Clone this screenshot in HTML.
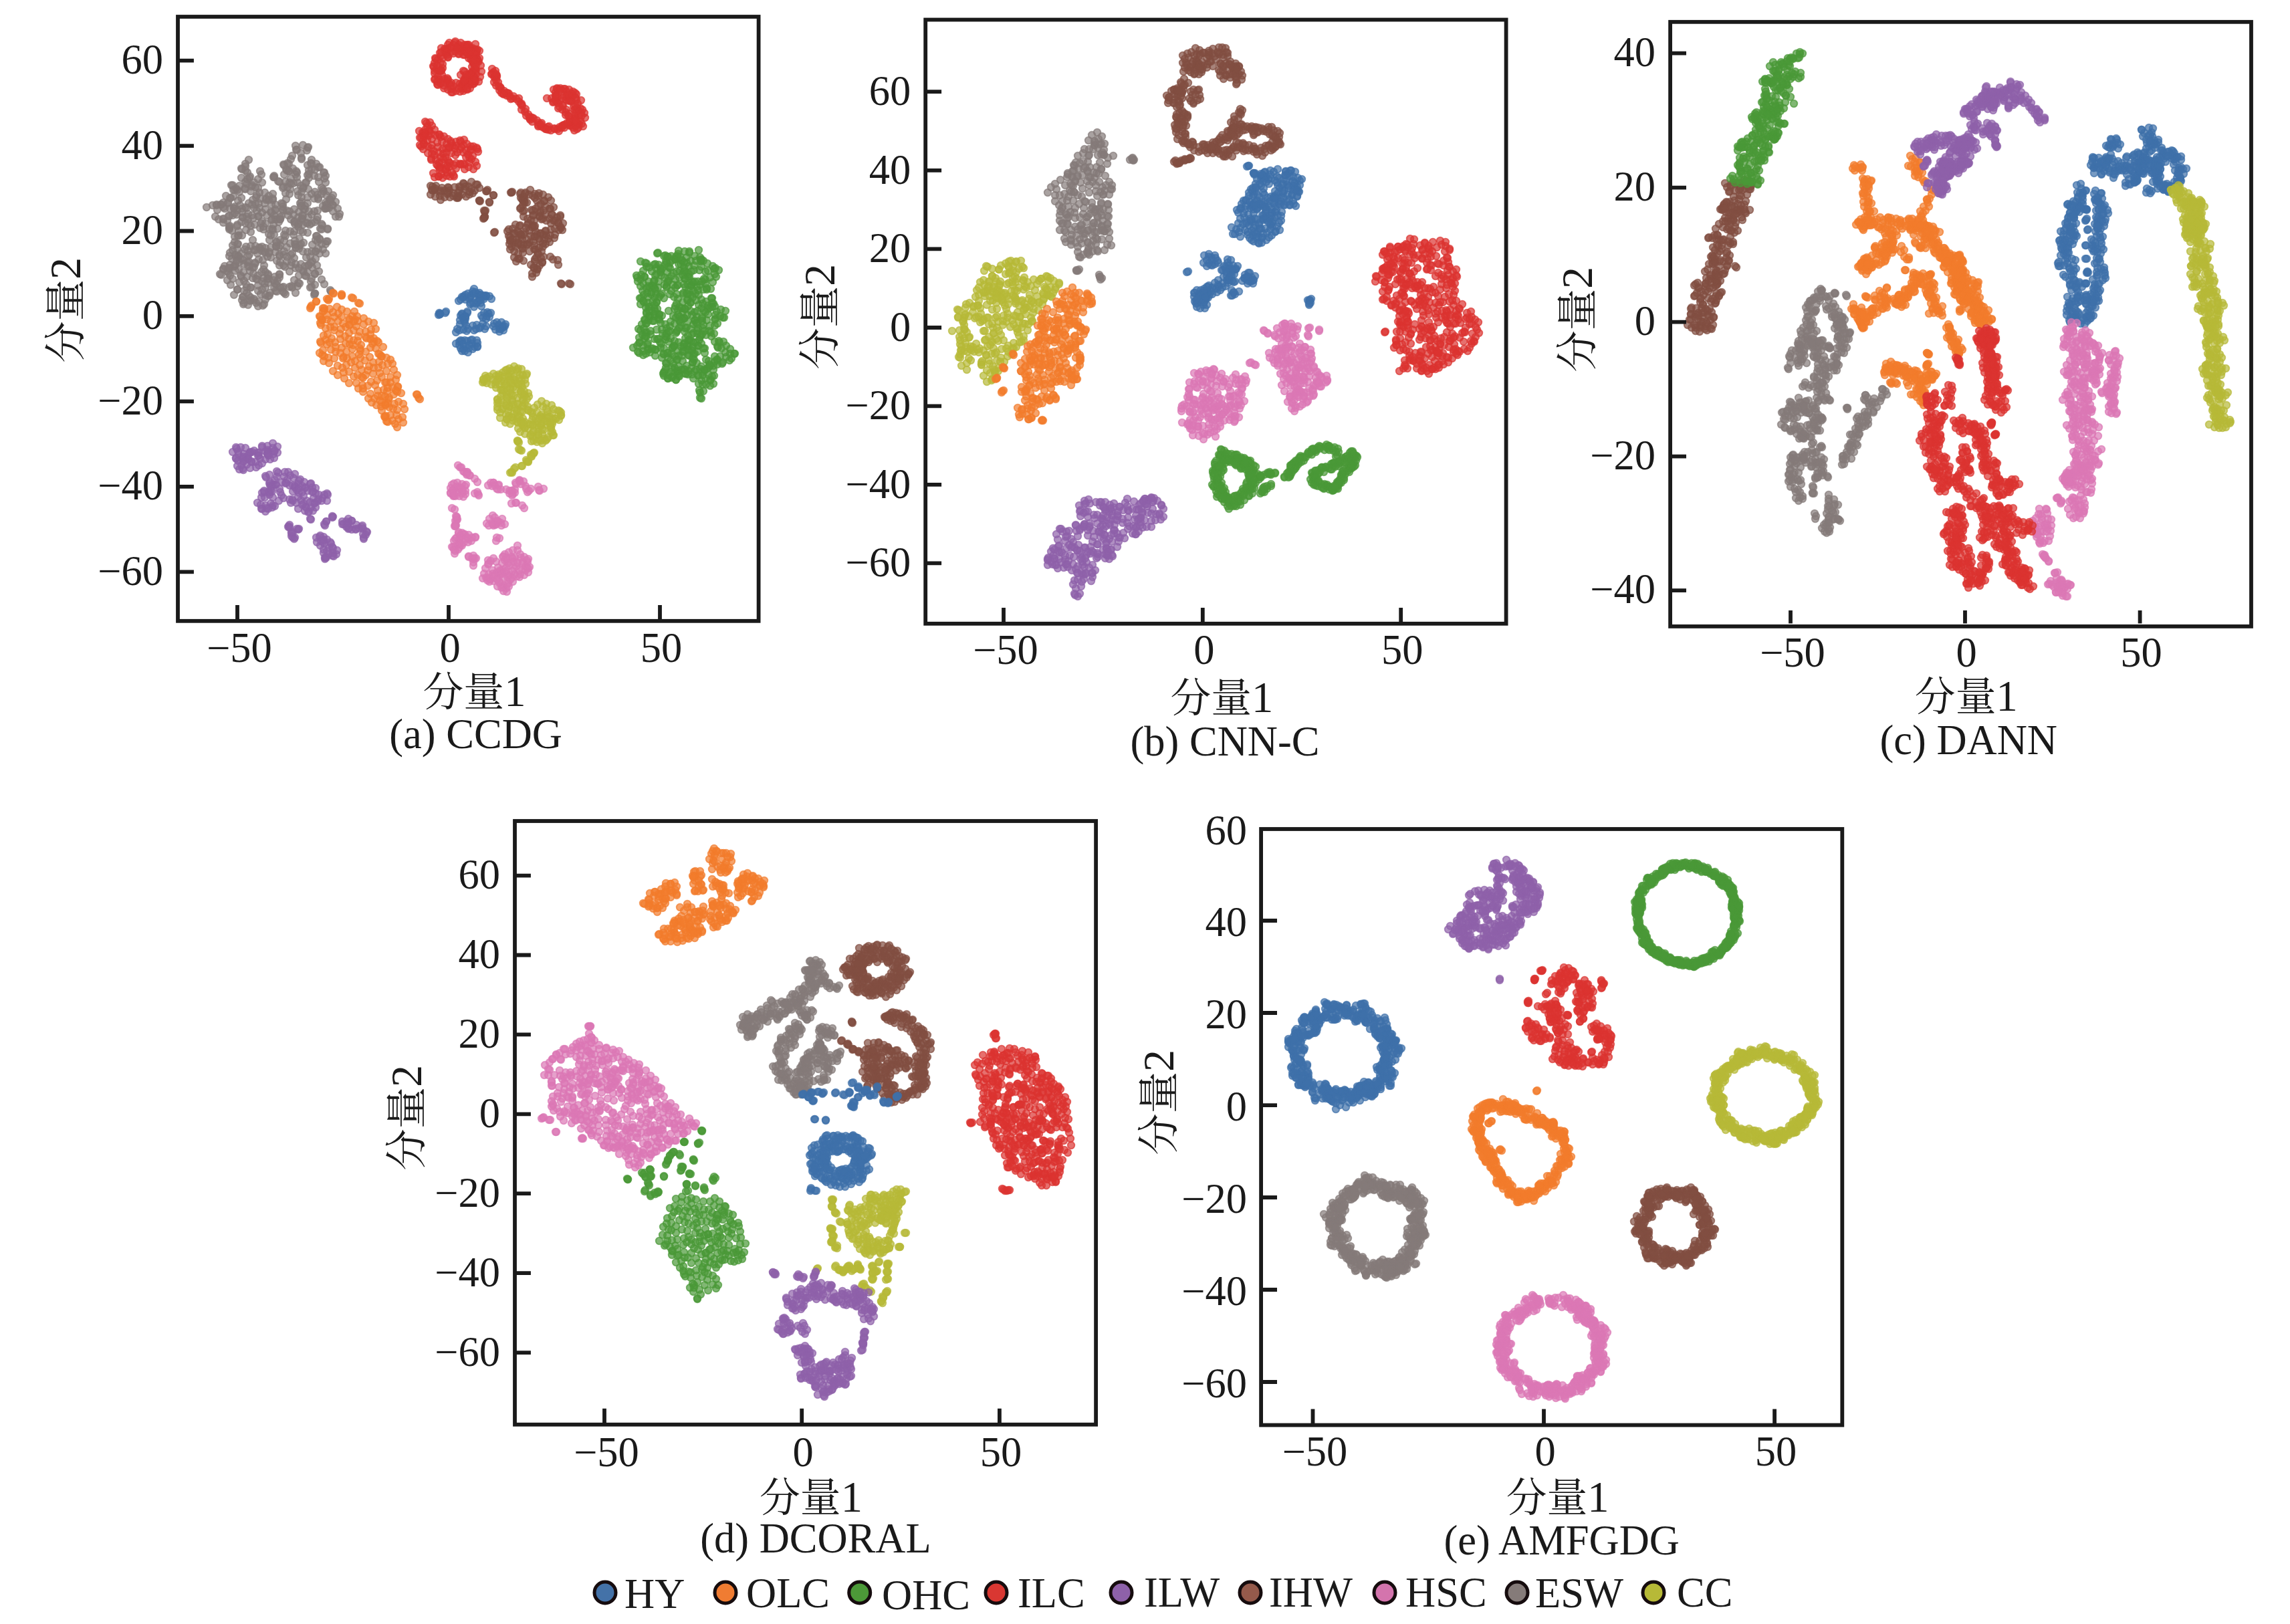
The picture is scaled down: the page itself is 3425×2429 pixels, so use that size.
<!DOCTYPE html>
<html lang="zh"><head><meta charset="utf-8"><title>t-SNE feature visualisation</title>
<style>html,body{margin:0;padding:0;background:#fff}svg{display:block}text{font-family:"Liberation Serif","Noto Serif CJK SC",serif;fill:#1a1a1a}.ax{font-size:60.8px}.d{font-size:64.5px}.ay{font-size:62.4px}.dy{font-size:66.2px}.s{fill:none;stroke:none}.HY{marker:url(#mHY)}.OLC{marker:url(#mOLC)}.OHC{marker:url(#mOHC)}.ILC{marker:url(#mILC)}.ILW{marker:url(#mILW)}.IHW{marker:url(#mIHW)}.HSC{marker:url(#mHSC)}.ESW{marker:url(#mESW)}.CC{marker:url(#mCC)}</style></head><body>
<svg width="3425" height="2429" viewBox="0 0 3425 2429">
<rect width="3425" height="2429" fill="#fff"/>
<defs><marker id="mHY" markerUnits="userSpaceOnUse" markerWidth="16" markerHeight="16" refX="8" refY="8" viewBox="0 0 16 16"><circle cx="8" cy="8" r="5.3" fill="#3f70a9" fill-opacity="0.7" stroke="#3f70a9" stroke-opacity="0.7" stroke-width="1.8"/></marker><marker id="mOLC" markerUnits="userSpaceOnUse" markerWidth="16" markerHeight="16" refX="8" refY="8" viewBox="0 0 16 16"><circle cx="8" cy="8" r="5.3" fill="#f27c2c" fill-opacity="0.7" stroke="#f27c2c" stroke-opacity="0.7" stroke-width="1.8"/></marker><marker id="mOHC" markerUnits="userSpaceOnUse" markerWidth="16" markerHeight="16" refX="8" refY="8" viewBox="0 0 16 16"><circle cx="8" cy="8" r="5.3" fill="#4a9938" fill-opacity="0.7" stroke="#4a9938" stroke-opacity="0.7" stroke-width="1.8"/></marker><marker id="mILC" markerUnits="userSpaceOnUse" markerWidth="16" markerHeight="16" refX="8" refY="8" viewBox="0 0 16 16"><circle cx="8" cy="8" r="5.3" fill="#db3330" fill-opacity="0.7" stroke="#db3330" stroke-opacity="0.7" stroke-width="1.8"/></marker><marker id="mILW" markerUnits="userSpaceOnUse" markerWidth="16" markerHeight="16" refX="8" refY="8" viewBox="0 0 16 16"><circle cx="8" cy="8" r="5.3" fill="#8e61a9" fill-opacity="0.7" stroke="#8e61a9" stroke-opacity="0.7" stroke-width="1.8"/></marker><marker id="mIHW" markerUnits="userSpaceOnUse" markerWidth="16" markerHeight="16" refX="8" refY="8" viewBox="0 0 16 16"><circle cx="8" cy="8" r="5.3" fill="#824e42" fill-opacity="0.7" stroke="#824e42" stroke-opacity="0.7" stroke-width="1.8"/></marker><marker id="mHSC" markerUnits="userSpaceOnUse" markerWidth="16" markerHeight="16" refX="8" refY="8" viewBox="0 0 16 16"><circle cx="8" cy="8" r="5.3" fill="#db77b5" fill-opacity="0.7" stroke="#db77b5" stroke-opacity="0.7" stroke-width="1.8"/></marker><marker id="mESW" markerUnits="userSpaceOnUse" markerWidth="16" markerHeight="16" refX="8" refY="8" viewBox="0 0 16 16"><circle cx="8" cy="8" r="5.3" fill="#857b79" fill-opacity="0.7" stroke="#857b79" stroke-opacity="0.7" stroke-width="1.8"/></marker><marker id="mCC" markerUnits="userSpaceOnUse" markerWidth="16" markerHeight="16" refX="8" refY="8" viewBox="0 0 16 16"><circle cx="8" cy="8" r="5.3" fill="#b7b937" fill-opacity="0.7" stroke="#b7b937" stroke-opacity="0.7" stroke-width="1.8"/></marker></defs>
<g id="panel-a">
<polyline class="s ESW" points="351,319 395,397 458,273 498,292 358,392 488,361 460,295 418,410 396,378 358,278 371,328 309,310 372,335 355,314 418,381 477,272 367,255 417,370 492,311 387,388 467,391 409,336 389,341 497,306 456,313 369,275 340,330 404,438 466,334 384,292 402,379 459,225 378,299 341,303 405,370 345,296 402,350 398,299 424,381 340,406 383,453 347,387 427,345 380,400 454,363 373,399 348,417 386,281 392,273 446,292 329,410 361,379 487,365 485,258 475,315 490,361 429,384 377,277 348,322 442,218 435,267 401,443 453,347 362,352 387,451 456,398 432,245 412,306 460,304 407,342 343,383 448,367 441,335 334,328 456,412 460,334 471,332 375,338 370,268 450,229 461,397 410,322 458,413 386,458 334,402 508,320 396,288 353,384 373,381 472,387 498,307 446,339 413,425 405,317 412,315 425,247 412,328 439,274 483,283 412,313 364,455 374,449 462,266 440,313 470,297 355,336 444,258 324,306 444,224 476,298 423,436 396,304 371,320 361,332 349,399 364,407 464,384 481,281 389,372 505,312 476,250 388,311 372,304 414,328 494,299 473,245 397,441 373,266 442,371 460,262 369,311 380,447 351,398 371,456 334,333 350,312 382,394 452,327 364,389 442,401 427,440 433,273 419,325 388,370 456,308 318,307 355,433 457,273 446,423 481,343 406,329 367,283 440,386 367,272 471,426 364,444 369,324 398,297 447,317 440,332 462,316 434,283 412,435 453,405 481,418 401,410 390,440 408,299 446,325 418,272 325,314 370,258 471,409 382,280 435,328 478,379 466,253 424,279 460,348 466,290 367,245 386,412 453,323 358,422 435,381 487,273 402,299 388,288 357,403 371,383 397,334 347,345 461,220 425,261 387,323 362,312 460,377 426,399 386,427 454,406 448,357 358,287 334,310 429,315 411,414 360,387 386,268 465,393 490,343 419,430 375,430 433,429 357,346 467,400 451,328 344,312 439,321 419,392 442,366 471,410 429,255 399,322 502,324 338,293 494,434 418,397 460,407 461,283 440,419 331,306 502,302 342,408 386,324 451,287 355,433 369,430 346,277 394,416 423,305 406,318 442,261 476,296 408,297 334,403 384,315 350,441 462,260 478,250 396,424 357,352 481,365 385,418 454,313 454,280 427,353 437,233 474,353 470,263 397,377 389,256 331,411 343,341 377,322 391,375 475,291 382,374 491,286 414,362 397,407 462,396 366,282 477,406 487,312 472,359 361,252 471,439 380,273 447,412 496,296 343,323 424,397 445,428 485,425 411,424 466,239 343,343 419,328 392,318 419,359 410,263 369,438 413,369 380,449 344,396 450,365 471,439 489,305 353,282 405,385 401,423 487,303 443,256 433,316 345,426 425,438 382,368 460,247 357,383 348,367 341,304 460,221 446,336 356,353 494,302 417,332 397,313 442,395 447,334 451,308 447,401 365,420 418,411 394,339 461,325 322,324 403,343 441,365 408,290 476,265 406,306 402,293 435,238 336,312 415,342 419,367 465,244 444,265 437,379 429,370 375,445 410,351 465,421 478,358 435,275 356,383 374,405 378,359 431,322 360,412 344,296 421,323 423,309 343,401 400,417 471,254 368,369 489,311 327,328 380,311 447,372 348,374 365,453 472,376 453,336 393,389 466,429 394,343 351,284 424,429 415,420 443,224 380,374 352,396 484,286 409,265 368,344 485,267 425,360 343,339 344,378 466,245 362,449 437,430 495,436 479,342 372,239 377,306 355,338 423,281 466,417 451,236 438,252 483,308 428,253 418,383 351,362 368,425 490,342 382,305 400,384 375,347 488,292 403,442 458,385 475,361 433,290 390,334 374,450 383,295 363,325 498,316 487,379 397,448 488,307 441,331 342,323 393,457 453,376 440,346 448,424 365,395 472,376 427,272 389,297 351,354 434,364 352,381 453,282 449,304 482,337 453,217 354,321 403,377 443,370 367,334 412,377 450,308 379,326 483,373 381,336 445,286 330,306 481,290 484,258 427,289 363,444 379,409 397,430 476,372 449,345 365,435 451,295 366,373 392,421 486,312 423,313 372,391 387,304 471,287 430,244 363,325 349,284 378,416 416,271 441,360 474,329 487,263 507,324 356,300 392,331 421,304 435,397 428,298 451,302 450,395 434,346 324,307 370,392 445,273 361,266 371,375 414,390 433,406 367,249 336,398 348,277 386,435 422,430 466,321 425,376 392,433 414,436 470,316 355,365 432,256 381,393 391,261 410,265 359,307 340,419 436,428 354,390 361,296 371,398 413,368 464,430 418,415 369,414 463,336 439,351 362,253 458,333 408,344 451,238 378,400 374,264 362,317 466,376 344,338 344,412 392,369 334,303 462,255 356,365 425,351 375,368 409,419 413,362 410,430 474,397 355,373 419,328 372,442 397,371 349,294 351,309 430,280 423,315 402,417 334,327 385,379 467,366 355,284 493,298 442,438 473,353 350,311 383,417 342,401 361,414 352,405 376,279 452,322 407,328 401,412 375,286 391,407 478,357 394,403 481,335 367,310 405,352 375,430 475,325 424,246 403,359 395,455 432,256 436,392 429,391 450,278 470,441"/>
<polyline class="s ILC" points="645,222 679,264 711,91 662,102 652,239 855,144 669,73 706,100 861,176 696,121 713,88 757,139 660,261 750,139 707,126 650,119 675,229 831,145 850,142 641,203 743,115 660,105 803,180 694,209 715,227 693,82 834,154 667,80 747,135 648,259 656,264 650,94 863,161 659,250 649,100 712,81 833,132 689,112 668,215 705,111 655,115 845,133 635,204 872,189 776,147 664,204 682,244 642,196 857,137 865,191 686,67 706,73 670,86 779,156 851,170 668,263 693,106 851,185 707,233 659,125 666,254 706,75 661,212 831,151 646,230 657,119 863,193 851,134 693,123 670,67 847,145 698,73 818,147 716,92 713,248 841,147 695,107 843,133 701,87 790,171 864,155 868,180 841,188 662,223 697,118 841,157 713,77 704,219 857,188 827,153 852,188 780,164 678,67 831,150 701,250 681,62 707,107 640,219 793,179 766,147 688,223 692,126 661,243 703,132 704,225 846,168 705,111 696,74 655,89 701,73 739,123 711,103 701,113 646,188 824,195 764,148 634,215 847,149 706,91 695,82 862,141 685,73 643,183 709,125 666,77 820,194 851,150 672,243 679,247 859,195 821,189 861,164 855,140 659,94 627,196 650,110 628,217 667,222 675,124 693,133 667,124 702,120 669,82 753,141 666,74 708,95 709,104 708,219 740,114 816,193 859,164 646,217 758,143 662,87 704,223 708,113 684,228 688,137 658,79 719,98 668,78 700,231 653,246 761,140 689,69 662,96 698,72 707,72 682,218 711,242 768,144 711,96 695,128 655,248 638,184 851,151 653,104 634,198 695,246 689,212 693,136 868,162 754,136 690,131 738,108 673,244 841,164 654,98 847,137 694,120 835,162 652,88 645,237 837,151 693,217 780,155 869,168 669,121 633,210 666,235 776,152 662,266 704,88 743,113 677,218 866,173 875,176 659,205 686,80 844,142 809,189 659,84 862,149 665,118 703,117 642,194 847,164 759,139 703,110 860,177 674,71 762,144 739,115 672,221 851,174 853,187 834,193 805,189 694,77 749,132 677,138 655,220 650,106 860,174 806,184 796,176 663,230 675,138 650,232 710,75 857,143 787,173 656,264 636,182 691,127 786,163 630,219 702,80 699,134 852,182 735,111 664,132 696,116 712,111 855,151 688,125 702,71 630,206 829,192 717,87 685,71 742,120 702,76 682,136 645,239 674,78 700,81 697,76 717,76 689,77 703,121 665,73 703,116 857,191 842,158 632,198 862,168 659,123 708,253 711,74 657,251 819,190 870,185 628,206 830,193 858,159 705,238 697,225 701,67 793,175 709,95 698,68 633,223 714,92 703,82 654,126 736,110 805,187 865,165 817,193 702,236 668,228 697,72 834,145 843,187 688,245 690,220 846,172 792,177 681,77 680,222 713,221 689,246 670,119 682,124 860,157 714,223 651,202 874,169 708,115 695,67 825,147 709,122 646,208 699,67 701,127 813,191 748,130 704,121 640,229 871,164 670,240 649,226 686,132 870,173 852,182 854,151 672,125 714,88 650,265 686,72 664,128 680,64 688,210 670,134 681,232 753,140 648,99 634,216 850,173 633,203 746,129 860,139 651,87 838,132 831,138 810,184 844,187 700,121 639,210 670,85 745,123 861,146 772,148 682,212 705,118 678,80 695,253 831,143 671,250 689,64 673,264 702,243 699,79 711,66 736,103 785,167 657,243 840,191 678,262 710,81 659,235 654,122 669,258 711,122 660,106 741,106 698,133 672,64 667,252 836,196 714,74 837,160 712,105 678,129 709,79 670,208 828,134 866,186 796,182 663,238 742,111 675,133 742,128 716,122 655,127 654,213 781,158 661,112 658,254 660,72 705,123 651,118 636,200 674,128 675,214 660,78 697,235 798,177 695,119 650,194 694,121 676,258 657,106 645,200 674,71 718,115 669,248 698,215 636,194 837,190 833,133 671,220 710,116 657,201 809,186 669,117 682,252 712,99 708,87 657,202 639,189 860,179 709,89 828,152 686,81 683,72 841,136 864,185 692,245 837,134 693,228 656,228 862,188 848,184 703,111 863,183 697,112 832,143 703,77 674,211 860,181 844,191 710,119 850,142 720,107 869,150"/>
<polyline class="s IHW" points="824,343 802,408 781,358 830,330 800,388 822,362 738,292 717,300 701,279 790,365 816,346 807,324 777,387 813,384 799,340 829,356 778,337 694,275 647,285 724,315 823,384 726,315 673,295 761,353 659,299 651,294 693,274 835,334 778,290 806,371 695,283 651,282 785,347 778,312 727,286 783,351 781,371 784,296 828,330 823,312 789,336 729,284 644,278 816,309 793,284 842,334 775,387 725,317 805,308 791,291 689,280 836,344 669,290 678,289 670,280 790,334 798,361 671,281 809,305 789,327 777,338 838,324 820,295 838,322 739,348 825,321 782,378 802,385 808,361 792,376 783,324 725,324 691,291 658,293 697,294 834,389 810,376 779,351 807,397 817,352 687,279 767,342 765,369 702,291 801,346 786,288 812,369 841,344 728,286 839,341 797,337 775,365 807,323 772,391 815,321 702,287 665,285 799,330 785,303 833,325 799,401 705,272 822,327 806,289 814,301 809,386 795,314 707,289 824,300 809,349 672,285 782,316 804,378 784,301 806,357 800,290 683,296 717,300 808,318 808,349 768,349 797,315 685,296 769,385 808,316 799,373 816,365 774,346 696,279 840,425 814,358 827,388 652,278 763,355 839,424 783,366 788,358 647,279 799,367 792,345 787,341 712,276 811,393 777,356 797,293 783,390 803,351 812,364 687,285 796,409 779,351 830,351 792,363 812,351 772,359 665,295 644,291 763,373 776,348 782,300 788,303 835,333 781,298 732,302 771,336 812,327 812,291 771,369 769,376 725,325 686,293 800,354 724,326 801,373 661,281 658,287 805,380 823,352 803,300 763,360 650,284 824,334 796,340 714,276 685,289 801,312 779,296 779,366 779,288 799,354 822,312 784,315 813,315 670,288 794,329 810,328 798,322 723,327 814,300 811,392 765,288 768,363 783,294 851,424 717,281 782,372 738,292 835,396 838,339 732,303 816,345 800,338 817,330 764,288 800,391 796,414 794,396 803,402 718,301 794,353 659,285 761,343 785,290 740,347 685,295 710,285 804,403 853,425 762,365 828,310 705,283 763,360 775,380 646,284 820,357 805,293 797,322 826,321 830,342 798,400 766,287 782,307 766,358 779,311 678,293 680,280 775,363 759,346 800,296 788,366 770,349"/>
<polyline class="s HY" points="725,492 682,514 693,522 687,494 727,443 714,518 694,443 696,477 727,477 704,509 708,439 691,444 696,441 658,470 709,494 701,521 722,484 724,447 684,492 743,482 706,514 753,494 704,453 687,511 717,438 717,491 693,445 667,466 713,486 691,525 699,466 735,447 687,516 746,486 666,468 717,446 755,488 700,527 657,468 658,469 699,510 710,519 712,492 704,442 696,518 702,516 750,482 691,469 709,432 682,497 688,479 727,488 719,453 693,493 728,473 696,448 713,509 692,475 715,440 749,492 712,454 727,442 695,509 702,447 724,444 712,449 689,472 689,448 697,487 656,471 720,458 698,495 689,509 719,489 695,525 752,490 691,470 732,443 720,472 695,482 719,441 724,468 686,450 714,513 688,485 729,467 756,485 731,469 714,452 714,519 724,442 747,492 739,484 711,437 691,510 741,493 747,496 718,442 709,459 732,474 703,445 707,522 707,487 706,508 696,473 703,455 694,480 689,521 718,449 692,514 699,468 707,436 708,453 752,488 734,468 658,470 700,439 722,475 738,488 696,474 700,492"/>
<polyline class="s OLC" points="540,516 580,603 574,583 538,496 565,584 551,596 511,463 490,500 566,512 578,555 536,503 494,489 603,632 522,556 589,590 594,639 559,550 592,568 500,536 582,595 522,498 590,604 506,469 605,612 584,564 533,488 498,467 576,624 523,478 529,509 594,561 483,466 570,533 554,507 571,614 505,547 544,485 584,538 522,486 465,459 511,520 509,528 541,553 555,493 596,627 558,542 529,563 523,515 576,605 563,606 600,588 562,521 519,466 568,558 595,578 500,489 566,550 508,499 492,543 554,520 511,442 517,514 581,597 482,479 479,474 588,611 576,593 533,573 582,609 493,462 529,494 559,511 555,571 511,440 568,530 576,572 570,608 593,621 479,483 587,579 539,535 566,529 536,581 485,461 473,451 504,459 502,519 479,511 519,536 552,548 624,590 489,515 509,507 578,535 589,553 587,544 491,449 547,526 542,576 485,464 591,634 578,630 571,602 500,474 528,446 466,457 535,561 577,606 565,592 571,533 584,621 543,586 560,596 564,569 481,478 580,544 511,474 516,503 547,561 628,597 487,491 579,585 522,477 568,599 522,507 571,564 502,526 551,481 594,613 567,541 556,602 480,513 548,506 527,533 541,564 543,565 510,492 571,592 596,601 495,481 513,536 484,540 543,581 577,622 473,451 480,486 559,506 501,512 561,576 518,526 528,516 478,473 530,466 554,589 531,540 584,572 535,510 535,480 512,550 496,506 511,442 485,533 499,439 539,524 483,461 554,500 527,522 498,438 538,454 595,579 493,512 483,524 527,473 578,572 523,486 492,447 506,480 572,546 559,483 518,546 498,555 547,496 562,492 489,471 580,580 573,519 514,534 489,447 487,508 575,623 522,573 544,476 546,539 500,494 580,631 603,604 538,521 482,531 495,523 484,502 515,566 538,546 537,530 525,542 514,557 489,478 626,595 564,510 558,559 526,445 505,561 464,461 553,534 531,478 534,473 550,554 550,577 592,584 594,586 587,629 623,590 517,489 536,453 478,528 491,535 529,481 547,504 602,624 531,550 513,484 557,514"/>
<polyline class="s ILW" points="450,748 472,730 387,696 479,816 452,755 363,685 521,776 521,782 407,759 408,744 437,747 376,690 411,718 410,685 356,675 405,753 398,714 544,806 402,681 421,741 472,759 431,788 395,734 526,779 439,715 424,745 532,791 415,677 374,677 543,791 353,686 446,724 484,807 446,792 390,755 444,733 400,673 484,827 436,802 494,811 441,727 408,670 432,787 503,829 470,753 487,834 402,735 353,669 435,752 485,813 374,676 468,764 391,761 504,823 468,735 392,667 431,706 443,752 441,729 392,737 549,796 472,738 358,702 541,788 438,804 548,795 498,773 397,765 478,803 407,735 413,725 365,679 433,747 371,687 456,730 544,804 512,784 526,779 462,765 488,780 484,803 452,736 401,675 403,740 447,791 415,668 408,663 474,811 357,680 464,776 457,758 355,697 403,737 364,690 392,669 364,690 446,761 522,790 486,836 490,740 387,677 467,729 417,749 404,726 385,677 498,827 367,670 377,676 397,712 380,674 400,678 449,717 363,701 409,679 512,780 484,808 411,725 440,806 438,749 521,791 489,807 479,801 452,727 464,751 469,745 410,675 471,752 465,723 459,749 447,737 416,707 433,785 514,784 486,786 408,756 419,736 348,676 441,709 447,719 518,788 497,831 405,734 486,834 408,725 485,740 422,721 400,667 518,780 392,761 460,734 364,703 461,766 441,804 473,804 526,792 403,723 482,745 418,731 542,786 489,749 397,756 446,731 434,711 396,744 387,681 425,713 399,760 360,669 489,738 426,706 492,819 438,735 411,674 382,691 397,687 371,686 395,736 386,682 477,740 465,777 383,699 475,750 356,689 374,700 537,790 489,824 376,691 385,752 397,675 414,713 391,744 454,753 414,705 406,728 444,791 492,829 438,796 532,792 458,759 438,726 488,780 411,757 369,695 484,822 428,722 368,684 521,783 433,726 497,772 389,686 465,759 497,774 476,747 485,784 456,764 497,818 446,743 481,749 433,789 436,796 364,683 467,736 495,813 454,742 480,809 401,761 483,811 499,832 547,800 361,696 488,834 533,785 464,724 455,721 519,786 392,693 403,710 404,687 354,671 457,729 427,723 498,820 371,681 404,721 543,799 353,685 401,681 430,717 436,798 400,679"/>
<polyline class="s OHC" points="1016,459 988,407 1037,498 962,517 1023,519 970,421 996,543 974,440 993,562 1036,542 1016,415 1023,552 1048,391 984,430 1024,462 982,452 1040,479 988,405 1082,511 1085,465 1069,511 1081,542 1011,568 979,445 1025,559 1049,461 1038,538 1039,467 961,501 997,393 1007,544 1067,553 1059,462 1073,518 988,520 1007,426 1014,380 982,452 1031,378 995,485 1044,561 967,497 1024,496 1015,395 1040,512 971,472 1034,510 1029,531 957,446 1024,417 1062,460 1000,420 1015,532 997,504 1025,429 1060,540 1027,385 1044,517 1000,417 988,401 973,500 1033,492 998,407 1047,504 1004,435 1067,574 1020,389 980,433 1063,568 993,521 1062,415 1039,529 1014,464 986,444 968,515 1067,547 997,428 1021,467 1041,483 1038,397 1031,414 986,471 956,505 965,497 1055,418 1051,561 1016,563 1031,532 1085,527 1005,565 1018,482 995,508 1038,404 1099,529 1040,439 947,520 1035,421 1048,502 1015,512 998,384 1047,595 1072,538 966,484 1039,555 1054,521 958,455 954,526 1012,406 1017,405 1062,569 1042,543 1028,516 1033,453 1079,521 971,400 1029,448 976,480 981,440 1011,384 1044,491 1035,471 1021,452 990,493 1003,539 1022,438 1041,390 1041,553 1043,526 1034,550 964,478 958,494 1013,556 1008,444 981,401 972,459 960,485 964,414 987,512 1000,465 1018,395 968,438 1062,577 1029,458 1066,422 980,532 1015,375 1011,568 1027,408 979,462 1037,530 1020,461 1014,447 1045,441 1047,426 1033,465 970,479 1044,562 1061,495 953,415 1012,496 1011,475 1030,555 1037,485 993,557 975,406 1058,394 1031,508 1002,393 1056,451 1006,520 1024,476 1073,545 1029,560 994,555 1030,434 1063,497 1015,562 967,469 1029,426 993,530 964,506 1034,406 1049,569 1091,539 1012,538 1018,518 1010,557 1005,521 1030,398 1078,463 1000,399 1050,556 999,566 1070,477 1029,481 955,492 1007,473 1016,480 1000,561 1010,458 976,521 1004,550 956,513 1046,584 1029,414 1019,553 1033,452 1025,462 1002,488 978,396 1035,524 985,507 1021,540 965,479 1014,524 995,503 1067,454 1047,552 1002,401 1015,559 1081,475 1055,467 1039,383 1094,536 1049,514 1086,534 1004,556 995,382 1006,389 1023,476 1050,476 1065,453 1059,470 1054,554 983,507 990,535 1055,424 961,435 1047,385 974,437 963,441 958,418 964,414 1010,388 1083,475 1073,538 1037,566 1023,406 1042,474 1065,563 1060,561 1054,495 965,393 1075,404 994,426 1053,553 1036,536 1017,474 996,391 1031,376 982,410 1009,533 1012,454 1013,554 967,503 1028,471 958,428 962,531 1049,596 1055,566 982,493 1025,417 959,446 1013,538 1049,399 999,528 972,527 1007,408 962,424 1051,454 1064,503 1034,426 1043,495 1070,471 997,491 993,383 1002,440 1008,518 990,472 985,396 1027,393 1080,544 965,503 984,378 999,535 967,399 1033,441 1045,574 989,514 1043,499 975,427 1029,440 1057,431 1098,529 985,476 1039,479 1024,376 1058,551 1052,521 958,391 969,522 1072,466 1051,491 1034,428 1046,508 972,473 1009,550 1060,549 1009,484 1044,517 1020,390 977,428 1063,432 997,430 979,419 972,430 963,491 979,507 1004,413 1010,430 1023,393 969,444 970,459 966,460 998,422 957,512 1074,520 989,412 1020,532 1062,547 1052,390 963,452 1051,575 1056,501 1033,390 1044,434 1024,553 1008,517 967,484 1077,473 1027,439 980,466 1035,560 999,384 1042,429 973,495 1086,517 1050,480 1004,529 1021,526 1047,587 1029,518 1025,506 1023,425 992,559 1024,513 1021,411 1053,417 1022,440 1053,465 1062,487 1030,410 953,517 967,467 1003,481 990,402 1023,525 1050,474 980,395 1011,498 1000,511 1010,387 1034,524 1068,562 980,412 1015,548 979,473 978,480 1049,448 1045,456 969,513 1075,510 1057,433 1013,383 1077,533 1026,559 1069,410 967,394 986,470 1019,477 978,469 952,412 971,465 962,450 1069,458 1005,563 1012,440 1009,510 1049,388 954,421 967,431 1017,384 1056,575 1069,487 1014,426 995,396 1023,400 1027,547 991,499 1036,519 1069,478 988,441 1069,541 1076,512 990,439 1043,465 1016,490 997,544 1044,421 1065,446 1003,506 983,379 993,446 970,523 983,462 1013,427 1009,462 956,528 1000,496 980,523 1028,449 1092,522 1050,500 1035,500 1052,486 999,566 1061,545 1064,446 1014,471 1049,548 962,405 1037,434 1068,499 1041,449 996,550 985,421 1004,383 978,421 1050,421 1073,484 1037,423 986,478 1036,445 1027,490 1023,515 1052,433 1043,484 1070,401 1036,542 1046,404 981,523 988,483 994,415 997,499 1039,421 979,431 1056,538 1065,459 1030,509 1066,398 1010,418 1019,487 1059,457 1045,374 1071,414 966,529 979,456 1069,533 962,525 1048,389 975,522 1037,512 1013,494 969,453 1057,479 992,529 998,528 1002,495 959,411 970,428 1055,406 1092,529 1059,405 1068,402 1029,523 1029,502 976,451 1024,405 1052,585 1054,528 1025,491"/>
<polyline class="s CC" points="774,632 828,651 787,688 813,631 797,647 791,634 765,706 756,632 797,653 837,615 782,607 806,639 811,663 780,574 785,568 790,613 782,597 766,598 785,631 763,556 742,580 798,678 789,608 780,552 750,570 757,620 786,574 766,707 794,616 742,562 781,579 742,571 766,599 775,605 803,636 839,621 762,609 820,654 756,554 749,583 835,614 811,649 752,588 785,592 782,626 827,651 832,626 744,568 827,627 779,586 782,561 767,566 798,659 790,614 788,690 779,629 839,617 825,606 768,579 818,630 778,646 780,568 774,556 773,626 810,624 785,640 790,641 762,551 775,660 805,650 797,635 765,590 763,588 793,652 753,564 758,601 813,643 752,557 754,570 762,608 817,604 746,566 814,656 817,622 728,566 823,636 749,599 798,678 757,574 775,575 790,691 735,575 728,565 758,590 768,605 760,563 781,635 795,660 782,637 758,594 772,582 839,622 791,593 793,635 755,576 763,580 784,590 798,645 775,621 753,584 804,631 774,595 824,640 820,624 773,553 810,620 805,646 788,559 758,627 763,568 796,618 760,615 752,611 817,611 748,562 780,674 776,672 790,690 777,561 722,572 794,680 805,651 757,606 818,635 744,598 819,616 769,701 726,562 728,573 748,625 774,659 801,626 824,646 765,624 779,590 747,575 799,677 778,673 768,592 781,616 796,628 826,618 816,659 806,658 782,599 809,659 790,588 724,571 746,560 763,707 761,622 748,617 767,629 770,568 751,612 811,626 746,602 773,613 808,622 766,624 810,600 723,568 804,605 794,650 809,637 768,619 818,657 773,573 824,640 744,613 781,697 779,585 830,626 787,561 751,583 776,662 785,603 763,634 795,683 779,632 770,570 774,631 774,660 765,574 757,607 769,548 744,609 822,623 795,682 770,610 784,585 780,697 797,636 807,626 788,597 773,616 763,582 785,640 823,632 809,635 777,566 744,597 799,610 828,612 761,563 777,623 738,559 732,563 741,575 723,567 764,560 826,631 775,551 749,593 776,575 766,554 771,699 744,603 758,553 738,568 836,628 826,634 781,608 758,580 783,633 811,642 785,649 797,623 779,615 758,627 826,646 803,661 759,596 812,608 763,569 774,604 775,641 803,616"/>
<polyline class="s HSC" points="684,722 770,834 777,720 786,847 778,859 701,800 752,852 767,739 742,784 695,706 674,738 770,859 696,806 743,731 730,838 683,778 681,779 755,829 781,852 791,734 734,722 784,833 676,818 695,727 722,865 727,864 749,854 731,843 790,850 761,826 685,822 738,722 726,850 731,786 770,732 746,725 751,857 691,816 711,804 784,860 688,699 710,716 736,727 738,786 679,723 700,811 765,833 697,725 687,807 737,858 767,870 760,861 738,722 681,730 687,819 781,756 742,840 681,817 708,836 748,860 765,734 779,834 683,774 755,784 742,809 748,853 758,885 757,836 691,724 789,841 703,711 786,853 747,805 759,842 693,705 749,782 733,867 745,726 676,725 710,835 743,866 708,841 777,719 782,842 711,803 761,842 751,842 805,728 763,867 807,734 690,699 680,762 738,835 757,732 749,732 706,835 788,849 729,868 771,752 751,776 730,726 743,856 757,849 741,780 753,832 750,858 732,776 789,736 691,738 687,813 701,806 762,734 708,846 696,739 691,797 734,839 747,872 783,720 782,840 680,787 772,847 705,809 729,864 788,838 794,731 678,742 784,760 688,731 772,752 696,734 767,835 752,833 674,737 701,833 774,823 744,877 690,802 741,785 813,731 773,862 768,840 698,706 737,771 771,722 676,760 686,796 674,730 737,853 679,809 752,878 699,706 702,711 762,738 712,835 678,818 714,736 770,737 777,718 679,741 738,869 677,733 690,814 731,859 679,741 715,739 753,875 774,842 740,774 678,733 684,777 769,851 684,736 779,724 767,823 730,844 773,841 687,742 683,773 806,733 774,816 714,721 755,838 750,786 708,831 760,873 762,860 777,863 681,742 757,854 698,708 745,780 683,804 680,828 757,880 766,741 792,848 737,784 683,728 762,846 681,824 740,860 689,730 790,856 759,863 724,858 695,799 778,829 710,738 732,870 701,832 786,727 750,879 716,741 678,737 747,870 687,729 745,849 686,798 685,696 753,884 740,726 693,743 766,854 687,812 681,785 693,799 755,856 745,732 776,852 766,864 698,710 681,806 682,772 787,731 728,783 691,731 790,836 772,724 682,786 688,801 758,834 758,873 744,779 694,811 733,865 738,862 761,877 699,804 743,804 766,734 736,782 692,735 753,863 681,787 765,753 706,804 744,867 679,822"/>
<path d="M355 928.8v-23.9M671 928.8v-23.9M987 928.8v-23.9M266 90.7h23.9M266 218.1h23.9M266 345.5h23.9M266 472.9h23.9M266 600.4h23.9M266 727.9h23.9M266 855.4h23.9" stroke="#1a1a1a" stroke-width="5.8" fill="none"/>
<rect x="266" y="25" width="868.6" height="903.8" fill="none" stroke="#1a1a1a" stroke-width="5.8"/>
<g font-size="62.5" text-anchor="middle">
<text x="358" y="990">−50</text>
<text x="673" y="990">0</text>
<text x="989" y="990">50</text>
</g>
<g font-size="62.5" text-anchor="end">
<text x="244" y="110.1">60</text>
<text x="244" y="237.5">40</text>
<text x="244" y="364.9">20</text>
<text x="244" y="492.3">0</text>
<text x="244" y="619.8">−20</text>
<text x="244" y="747.3">−40</text>
<text x="244" y="874.8">−60</text>
</g>
<text class="ax" x="709.5" y="1056" text-anchor="middle">分量<tspan class="d">1</tspan></text>
<text class="ay" transform="translate(119.5 463.8) rotate(-90)" text-anchor="middle">分量<tspan class="dy">2</tspan></text>
<text x="711.6" y="1119" font-size="62.5" text-anchor="middle">(a) CCDG</text>
</g>
<g id="panel-b">
<polyline class="s ESW" points="1640,250 1628,210 1659,347 1588,312 1612,343 1626,271 1589,310 1631,265 1600,285 1603,277 1645,414 1603,264 1636,334 1627,242 1639,286 1618,336 1642,221 1641,374 1608,271 1607,248 1602,344 1647,305 1649,228 1641,293 1619,282 1616,385 1611,264 1610,405 1612,377 1612,263 1632,367 1605,278 1656,335 1629,265 1613,252 1656,342 1642,376 1648,416 1614,403 1640,259 1644,312 1602,366 1663,277 1598,325 1609,363 1626,377 1588,334 1652,346 1597,335 1647,303 1596,265 1621,349 1639,313 1657,236 1637,217 1584,307 1614,305 1694,239 1622,301 1603,351 1647,345 1594,362 1620,320 1650,313 1637,217 1596,321 1659,272 1594,320 1651,232 1607,318 1641,358 1649,330 1649,280 1621,356 1634,272 1690,239 1642,334 1589,301 1639,356 1627,345 1625,332 1606,247 1605,300 1632,313 1618,294 1659,291 1624,302 1596,326 1634,376 1617,345 1608,271 1596,300 1612,233 1641,323 1656,366 1648,338 1620,381 1638,314 1662,367 1645,414 1616,273 1652,346 1630,320 1658,314 1648,322 1639,277 1658,324 1612,369 1578,275 1627,344 1608,326 1650,291 1637,317 1592,290 1694,236 1647,339 1634,310 1602,360 1578,292 1620,229 1609,243 1642,325 1621,311 1642,232 1597,261 1644,411 1630,250 1586,316 1608,311 1652,285 1637,266 1649,344 1592,357 1654,277 1629,288 1656,323 1586,269 1580,283 1606,255 1623,350 1645,216 1614,384 1604,265 1608,339 1610,352 1659,357 1627,362 1628,371 1646,287 1653,263 1620,241 1610,404 1634,342 1612,292 1637,347 1615,358 1625,325 1695,240 1650,291 1612,405 1629,381 1623,250 1619,262 1646,418 1629,223 1645,243 1639,365 1635,223 1627,379 1634,352 1590,334 1626,255 1615,325 1638,213 1585,344 1696,239 1622,223 1636,333 1647,215 1567,288 1640,347 1601,358 1657,335 1627,363 1627,324 1606,287 1597,259 1634,339 1602,287 1628,374 1578,301 1635,360 1598,309 1647,253 1652,215 1656,245 1633,303 1647,231 1693,237 1604,256 1644,272 1647,253 1628,233 1665,233 1619,343 1615,244 1629,277 1594,347 1627,257 1596,335 1601,317 1585,322 1633,202 1607,288 1643,208 1663,283 1651,231 1616,337 1593,277 1648,204 1585,292 1646,317 1657,306 1637,211 1643,260 1598,294 1572,280 1657,305 1629,232 1636,258 1648,358 1601,275 1652,374 1651,224 1618,364 1641,198 1592,345 1585,330 1621,252 1661,283"/>
<polyline class="s IHW" points="1789,93 1887,192 1836,84 1853,111 1876,191 1772,200 1801,79 1833,72 1776,172 1871,193 1846,179 1833,234 1833,112 1913,212 1777,105 1852,177 1876,222 1773,200 1779,101 1823,105 1778,238 1852,189 1765,176 1830,86 1790,81 1809,84 1824,79 1768,147 1756,134 1783,212 1825,206 1772,212 1795,81 1765,242 1777,124 1828,202 1774,94 1790,98 1841,195 1854,220 1849,114 1761,144 1793,134 1830,100 1836,79 1774,188 1874,192 1805,222 1766,123 1768,137 1840,92 1903,219 1829,106 1783,142 1905,195 1845,191 1795,104 1768,197 1862,217 1830,232 1872,189 1831,209 1806,96 1881,197 1814,73 1820,227 1853,199 1830,234 1749,145 1823,209 1800,98 1851,220 1845,185 1836,205 1825,107 1842,193 1760,245 1768,183 1795,148 1907,220 1846,190 1816,216 1787,104 1772,101 1807,82 1903,212 1785,155 1791,93 1840,116 1808,76 1845,203 1819,221 1882,191 1806,229 1903,201 1776,174 1824,230 1770,107 1777,216 1789,100 1763,202 1785,153 1798,93 1856,171 1763,186 1812,218 1848,95 1914,199 1760,243 1858,222 1898,217 1780,220 1760,193 1759,198 1767,240 1781,100 1789,90 1845,219 1768,166 1760,176 1815,223 1846,100 1837,231 1838,206 1844,111 1885,226 1776,80 1844,102 1839,96 1897,218 1797,225 1769,94 1904,223 1791,135 1819,212 1910,209 1781,237 1849,225 1757,187 1902,190 1823,224 1837,198 1856,107 1876,200 1762,181 1853,99 1813,80 1781,151 1773,205 1859,216 1825,95 1897,194 1756,149 1794,142 1767,182 1836,210 1915,216 1756,141 1756,134 1776,176 1798,104 1855,169 1770,128 1840,202 1764,190 1875,227 1809,223 1805,101 1796,99 1771,118 1761,132 1755,154 1817,84 1797,108 1830,118 1858,113 1777,214 1801,216 1778,238 1872,223 1794,75 1878,190 1791,96 1829,82 1793,95 1770,214 1843,234 1848,109 1809,92 1808,79 1785,134 1748,150 1799,79 1802,225 1902,221 1853,214 1773,239 1891,223 1878,192 1860,189 1893,218 1850,124 1781,108 1909,211 1786,83 1785,217 1793,111 1849,99 1819,89 1769,191 1826,96 1814,99 1845,194 1762,151 1878,223 1855,163 1766,139 1913,205 1844,191 1850,195 1836,196 1764,244 1779,147 1845,106 1814,229 1761,134 1892,228 1811,92 1879,227 1853,192 1764,169 1760,171 1859,214 1843,199 1799,216 1756,154 1880,231 1849,213 1768,139 1770,169 1845,221 1833,205 1853,100 1758,240 1850,202 1772,240 1745,143 1836,105 1855,186 1825,113 1838,96 1762,140 1911,196 1823,81 1758,192 1857,186 1775,97 1875,219 1786,225 1849,119 1781,137 1867,225 1821,223 1859,195 1766,179 1769,83 1782,78 1868,217 1888,233 1784,92 1857,119 1850,103 1805,87 1824,213 1863,224 1760,160 1834,78 1761,184 1818,224 1834,229 1826,212 1839,111 1863,194 1752,136 1788,141 1759,175 1780,236 1890,194 1901,225 1764,152 1764,159 1770,134 1860,226 1772,170 1802,219 1908,205 1831,225 1833,95 1793,227 1765,157 1842,202 1807,217 1858,165 1771,210 1897,190 1793,101 1846,204 1849,126 1906,205 1810,224 1747,154 1869,191 1908,219 1853,168 1865,189 1748,146 1788,72 1913,215 1846,174 1903,203 1812,222 1760,136 1889,196 1786,111 1770,187 1766,144 1842,223 1762,244 1794,83 1835,224 1768,178 1772,127 1784,213 1793,220 1828,71 1772,238 1814,213 1829,98 1761,208 1779,216 1762,135 1841,183 1894,197 1839,225 1843,100 1886,221 1791,150 1821,78 1772,88 1772,182 1834,113 1875,202 1778,86 1899,201 1849,104 1768,211 1881,198 1873,196 1823,71 1756,242 1812,220 1767,125 1787,110 1764,136 1848,115 1781,96 1846,191"/>
<polyline class="s HY" points="1870,330 1841,442 1850,314 1902,319 1880,268 1873,306 1923,256 1828,430 1805,441 1908,292 1819,431 1847,440 1874,293 1920,268 1902,352 1801,452 1793,441 1845,437 1902,313 1875,341 1839,419 1875,291 1827,404 1944,270 1880,313 1842,434 1884,342 1807,429 1932,292 1888,322 1839,402 1812,385 1881,347 1916,295 1813,430 1868,337 1909,315 1794,440 1959,449 1786,444 1861,416 1833,402 1835,413 1884,295 1836,393 1869,421 1801,432 1852,318 1805,398 1885,306 1851,398 1819,432 1877,336 1790,459 1803,446 1904,331 1899,327 1787,438 1867,321 1889,349 1894,264 1913,333 1847,350 1892,302 1864,332 1956,449 1937,274 1838,402 1931,255 1853,436 1914,281 1791,453 1935,305 1848,403 1872,309 1808,427 1934,264 1865,419 1903,339 1809,434 1804,437 1820,437 1843,442 1897,308 1916,330 1833,399 1801,435 1808,394 1823,428 1828,424 1901,336 1844,350 1908,309 1900,336 1830,414 1868,293 1863,308 1822,426 1873,285 1856,311 1821,390 1807,445 1923,262 1942,286 1809,441 1872,345 1796,452 1947,268 1894,329 1817,423 1835,419 1865,414 1886,278 1852,334 1840,411 1927,278 1837,419 1871,421 1882,354 1777,406 1913,305 1869,408 1841,389 1940,293 1888,262 1874,352 1867,408 1929,264 1889,329 1866,424 1802,449 1872,415 1936,273 1919,275 1877,286 1874,419 1934,300 1794,439 1836,388 1889,327 1842,402 1894,359 1808,380 1926,291 1916,323 1938,308 1862,313 1870,311 1875,319 1940,280 1921,285 1796,434 1881,328 1943,287 1944,277 1813,397 1804,447 1857,305 1936,283 1900,255 1891,291 1811,396 1890,322 1891,267 1927,259 1867,248 1905,296 1901,267 1905,257 1847,403 1892,326 1817,395 1905,294 1875,313 1843,420 1894,324 1910,339 1855,327 1873,307 1959,449 1838,416 1924,270 1875,259 1933,290 1877,303 1817,382 1860,300 1846,410 1886,267 1845,422 1862,411 1961,447 1897,268 1806,438 1899,301 1876,347 1789,449 1829,404 1807,438 1842,340 1906,304 1898,275 1940,285 1883,334 1886,342 1864,299 1941,266 1925,276 1894,272 1916,301 1860,319 1868,248 1893,310 1855,312 1882,310 1869,302 1923,257 1958,450 1878,350 1902,318 1800,393 1887,356 1864,334 1914,344 1844,397 1840,407 1921,307 1875,304 1960,453 1883,336 1786,438 1908,346 1886,263 1872,332 1822,419 1802,461 1912,288 1928,298 1859,335 1896,296 1909,296 1915,306 1825,434 1871,283 1906,325 1795,442 1877,259 1808,384 1845,438 1879,281 1837,423 1907,347 1934,284 1910,264 1867,414 1797,449 1833,428 1894,327 1866,351 1862,344 1893,318 1800,456 1958,456 1913,266 1900,343 1849,402 1889,288 1843,404 1811,436 1790,434 1929,306 1789,454 1902,332 1853,347 1868,288 1930,255 1910,273 1904,303 1917,317 1872,359 1866,347 1892,257 1887,302 1838,397 1940,294 1880,312 1889,271 1920,296 1875,361 1855,354 1907,295 1877,413 1862,416 1891,258 1805,429 1888,261 1907,317 1919,289 1880,300 1872,329 1822,393 1877,327 1870,327 1875,259 1883,364 1901,294 1901,323 1881,292 1937,257 1795,461 1897,332 1907,270 1882,363 1933,271 1775,407 1927,281 1888,306 1894,313 1834,407 1935,278 1787,451 1849,343 1883,305 1929,307 1847,421 1958,454 1890,282 1855,341 1892,264 1842,412 1874,424 1874,281 1805,389 1917,277 1877,307 1887,363 1831,398 1884,275 1888,355 1891,309 1892,342 1907,297 1858,420 1907,286 1876,261 1911,253 1893,314 1911,322 1878,275 1801,382 1895,348 1818,386 1805,456 1812,389 1900,261 1920,306 1925,302 1869,356 1879,355 1865,249 1898,355 1886,260 1918,286 1911,277 1922,262 1939,283 1875,419 1878,280 1800,438 1797,446 1863,300 1804,444 1791,447 1861,325 1813,440"/>
<polyline class="s CC" points="1510,407 1529,449 1531,420 1490,421 1504,394 1584,423 1491,439 1579,430 1515,405 1494,550 1466,422 1526,474 1514,521 1442,475 1485,490 1485,431 1512,390 1473,443 1493,555 1497,501 1469,480 1486,521 1498,449 1514,422 1494,495 1477,435 1509,400 1566,441 1457,526 1565,413 1584,425 1528,490 1505,521 1497,437 1445,519 1488,558 1476,456 1578,433 1481,450 1436,515 1522,467 1532,415 1491,462 1493,510 1435,504 1489,416 1561,447 1443,471 1543,451 1433,474 1562,429 1508,526 1561,448 1477,518 1474,508 1521,417 1438,547 1505,462 1485,449 1444,513 1539,447 1493,481 1494,436 1554,420 1524,430 1532,454 1442,486 1505,481 1511,489 1538,485 1490,507 1461,434 1568,420 1481,558 1553,464 1444,460 1527,390 1450,504 1561,440 1528,511 1476,475 1575,438 1460,514 1564,431 1534,460 1500,452 1509,423 1436,535 1435,494 1485,436 1437,524 1484,413 1490,453 1449,505 1507,469 1503,438 1456,459 1484,463 1559,455 1442,525 1472,438 1494,403 1432,463 1540,441 1506,443 1514,479 1535,430 1441,480 1513,530 1548,434 1507,475 1509,391 1475,531 1519,392 1540,459 1475,531 1507,533 1496,444 1520,519 1568,441 1487,429 1490,445 1535,460 1479,428 1479,504 1469,540 1434,464 1503,440 1436,530 1532,462 1453,524 1515,442 1518,434 1520,448 1546,453 1495,427 1515,398 1571,430 1472,405 1460,474 1452,518 1518,444 1446,553 1517,472 1531,509 1471,524 1464,527 1543,450 1573,444 1479,539 1489,475 1472,426 1476,554 1509,447 1479,485 1554,452 1486,498 1531,464 1449,536 1499,447 1520,491 1468,542 1518,446 1483,569 1484,484 1533,484 1557,417 1508,398 1464,430 1537,422 1513,435 1464,474 1456,458 1464,450 1508,455 1519,451 1487,553 1438,518 1491,539 1477,430 1478,475 1491,473 1516,485 1560,438 1433,475 1494,403 1522,497 1537,494 1492,433 1529,399 1445,455 1500,486 1524,457 1450,453 1484,402 1484,437 1557,417 1440,481 1520,391 1543,481 1459,444 1522,492 1571,416 1442,492 1488,555 1466,482 1515,416 1497,535 1463,457 1480,443 1504,410 1477,399 1452,539 1567,414 1544,480 1530,484 1488,529 1449,473 1528,451 1566,433 1545,468 1466,461 1542,475 1531,401 1484,567 1518,414 1458,476 1473,495 1475,398 1495,425 1447,526 1474,436 1546,418 1542,428 1434,534 1502,541 1442,506 1483,510 1520,407 1479,421 1436,509 1509,409 1471,478 1439,501 1484,512 1497,397 1491,490 1490,439 1525,474 1467,469 1516,521 1531,503 1530,419 1471,419 1496,421 1519,454 1424,495 1451,522 1498,522 1490,527 1492,446 1443,493 1468,546 1480,544 1534,470 1446,543 1519,422 1485,548 1506,425 1486,499 1465,521 1524,482 1455,519 1480,421 1464,441 1455,467 1554,453 1471,437 1533,428 1521,435 1531,433 1471,495 1462,457 1524,402 1483,529 1446,497 1444,470 1468,545 1546,462 1551,443 1501,509 1515,427 1516,513 1471,562 1500,480 1576,420 1481,516 1438,524 1551,425 1519,473 1525,512 1476,571 1503,457 1508,517 1524,502 1496,541 1473,509 1501,472 1484,413 1571,443 1462,523"/>
<polyline class="s OLC" points="1558,593 1545,519 1529,619 1593,501 1560,629 1557,477 1552,515 1572,481 1559,547 1547,535 1610,467 1598,566 1616,535 1501,550 1554,571 1548,607 1556,521 1601,523 1569,527 1558,487 1615,540 1566,462 1585,454 1541,588 1601,484 1542,614 1603,554 1540,546 1565,596 1563,505 1557,536 1610,567 1562,568 1616,496 1563,491 1542,540 1562,584 1560,561 1608,438 1585,541 1570,534 1589,438 1562,510 1611,550 1614,510 1582,525 1538,556 1576,501 1562,495 1537,611 1545,595 1602,440 1607,456 1620,467 1569,549 1633,454 1571,509 1566,505 1591,521 1608,516 1569,479 1570,529 1600,486 1552,598 1633,451 1600,479 1549,618 1562,522 1607,503 1535,569 1616,510 1535,582 1540,562 1596,550 1491,566 1584,556 1609,535 1584,491 1500,549 1591,484 1608,502 1525,624 1559,628 1587,562 1592,443 1623,495 1528,579 1580,571 1546,545 1612,481 1606,568 1579,479 1515,529 1581,456 1620,460 1556,535 1499,585 1630,455 1553,566 1597,517 1611,567 1543,609 1565,516 1574,572 1546,573 1595,462 1604,430 1594,543 1533,537 1585,499 1616,449 1577,540 1598,479 1599,508 1535,593 1606,443 1542,569 1618,450 1542,539 1536,620 1626,441 1554,510 1489,567 1583,484 1632,445 1527,555 1580,491 1529,612 1538,627 1626,451 1593,462 1601,556 1563,528 1522,610 1587,455 1553,528 1516,531 1602,514 1598,524 1577,512 1599,471 1584,567 1524,620 1603,567 1570,598 1591,536 1586,549 1548,538 1561,575 1585,550 1572,581 1550,511 1527,555 1588,530 1572,539 1555,500 1540,576 1572,543 1563,574 1617,490 1528,586 1572,546 1550,597 1569,556 1535,585 1554,544 1591,456 1579,551 1607,481 1626,449 1611,527 1586,570 1533,560 1537,518 1576,492 1534,584 1615,531 1628,442 1592,571 1609,514 1559,469 1597,471 1560,494 1589,450 1544,601 1596,525 1583,498 1563,470 1601,465 1535,564 1566,594 1575,562 1598,456 1563,546 1572,574 1583,479 1580,508 1615,546 1491,565 1559,603 1554,604 1540,536 1554,508 1621,500 1559,477 1594,492 1572,565 1534,548 1575,467 1555,577 1536,526 1502,551 1626,439 1501,584 1582,531 1570,599 1566,484 1548,513 1564,545 1613,487 1571,509 1591,477 1576,526 1542,625 1533,599 1609,560 1602,576 1528,613 1582,558 1551,560 1498,587 1576,591 1527,543 1579,597 1611,487 1596,436 1609,446 1575,591 1614,438 1579,595 1624,493 1591,520 1547,531 1585,462 1557,488 1577,494 1541,515 1533,549 1608,520 1590,497 1616,539 1587,515 1597,529 1608,562 1568,489 1602,449 1552,487 1559,482 1580,451 1600,521 1553,552 1537,606 1590,555 1603,561 1539,577 1543,625 1607,484 1588,510 1544,533 1582,475 1580,492 1555,554 1593,502 1609,454 1612,460 1544,596 1562,536 1539,627 1549,580 1579,508 1552,545 1598,558 1558,629 1608,472 1543,525 1616,489 1533,586 1615,535 1605,457 1603,565 1598,558 1553,501"/>
<polyline class="s ILW" points="1630,753 1653,764 1696,750 1616,772 1593,837 1649,785 1609,785 1618,857 1623,819 1584,836 1612,892 1722,744 1621,866 1653,835 1734,770 1664,832 1616,763 1687,763 1611,823 1679,782 1671,770 1622,754 1634,810 1726,745 1654,787 1673,804 1680,763 1650,792 1729,769 1605,874 1628,747 1647,797 1627,793 1728,778 1661,761 1650,758 1707,761 1568,834 1619,840 1619,845 1675,804 1686,746 1659,836 1603,853 1608,890 1642,829 1585,826 1632,869 1621,788 1661,777 1643,795 1618,834 1659,806 1596,802 1699,771 1709,767 1662,822 1704,755 1580,799 1703,776 1655,820 1654,762 1636,770 1699,789 1717,767 1595,820 1716,757 1620,859 1575,831 1575,820 1635,826 1625,830 1612,802 1625,841 1629,783 1668,777 1706,774 1663,830 1607,819 1654,813 1688,764 1634,857 1627,773 1659,766 1737,756 1706,781 1623,835 1602,806 1633,824 1624,857 1661,822 1666,798 1598,839 1607,868 1650,822 1695,787 1645,756 1672,765 1666,753 1706,775 1715,788 1651,806 1694,761 1584,816 1642,833 1611,823 1605,844 1724,751 1634,863 1611,857 1612,867 1622,819 1621,767 1659,783 1583,824 1597,848 1700,762 1672,772 1572,825 1722,768 1631,828 1666,793 1609,880 1567,836 1607,888 1567,838 1666,759 1623,859 1703,762 1731,749 1645,751 1595,795 1718,747 1713,746 1599,815 1578,845 1647,775 1663,765 1577,836 1567,845 1631,818 1640,835 1615,765 1615,888 1606,833 1686,757 1671,778 1697,777 1629,789 1594,844 1574,844 1663,810 1710,750 1641,827 1612,847 1686,782 1583,817 1682,805 1613,815 1673,810 1591,849 1667,785 1624,765 1603,817 1588,826 1667,793 1655,811 1635,794 1630,787 1740,761 1609,851 1683,752 1650,778 1734,768 1634,845 1577,835 1641,770 1593,831 1737,755 1698,799 1663,771 1627,765 1713,754 1633,857 1649,776 1652,800 1580,845 1655,821 1617,877 1646,788 1706,753 1689,787 1642,814 1582,807 1675,758 1639,751 1585,791 1605,811 1627,825 1646,803 1660,755 1715,754 1627,801 1724,761 1712,746 1674,758 1615,793 1650,771 1655,830 1622,848 1679,776 1594,803 1589,795 1610,794 1647,751 1602,819 1620,787 1622,784 1615,791 1687,774 1653,751 1653,829 1699,799 1657,831 1616,836 1657,825 1596,844 1740,773 1671,818 1577,822 1702,778 1587,791 1636,803 1587,841 1616,829 1609,786 1644,795 1629,849 1615,824 1612,857 1717,748 1725,749 1708,766 1572,840 1624,753 1703,795 1662,800 1638,853 1600,831 1622,784 1652,800 1599,794 1700,788 1622,749 1637,775 1710,749 1709,789 1656,774 1614,756 1712,778 1641,814 1618,870 1722,745 1722,779 1582,850 1671,798 1641,783 1651,759 1661,760 1687,791 1705,786 1694,798 1660,785 1593,809 1680,797 1722,788 1736,777"/>
<polyline class="s HSC" points="1805,557 1911,537 1911,538 1967,577 1973,493 1812,586 1907,527 1941,582 1776,635 1840,593 1984,562 1808,635 1931,484 1864,569 1830,570 1963,582 1828,578 1943,583 1816,598 1811,575 1943,520 1932,535 1799,637 1804,554 1973,561 1784,636 1956,571 1930,589 1833,608 1808,623 1935,571 1841,606 1932,518 1814,632 1810,585 1933,603 1896,498 1808,641 1767,611 1785,616 1779,616 1952,519 1825,565 1944,550 1950,551 1828,620 1937,565 1946,586 1985,568 1824,620 1965,576 1936,615 1961,529 1939,587 1840,585 1959,543 1821,588 1793,569 1842,624 1787,605 1838,593 1812,627 1955,541 1930,542 1959,490 1780,641 1819,577 1779,572 1959,555 1936,598 1783,643 1823,595 1827,604 1933,495 1939,557 1970,556 1871,542 1944,608 1918,504 1819,612 1796,614 1928,543 1771,605 1844,593 1839,628 1954,535 1974,578 1858,581 1806,650 1793,652 1817,638 1857,581 1787,570 1786,558 1969,571 1961,540 1931,525 1930,577 1791,580 1792,629 1917,515 1846,592 1950,564 1964,584 1906,543 1926,539 1800,589 1956,550 1784,617 1810,555 1816,553 1846,617 1950,524 1847,609 1801,649 1869,543 1938,553 1799,571 1935,505 1968,565 1914,524 1906,501 1932,601 1929,567 1950,593 1778,589 1924,507 1926,601 1878,546 1799,570 1811,566 1956,600 1768,607 1779,593 1904,538 1821,608 1804,611 1876,545 1946,569 1949,597 1780,628 1945,574 1944,514 1931,489 1941,488 1798,596 1938,503 1922,488 1851,606 1925,536 1912,522 1920,496 1923,532 1799,576 1917,576 1907,503 1932,548 1779,637 1807,597 1803,610 1853,575 1792,559 1835,612 1863,573 1940,579 1839,608 1809,599 1951,568 1958,581 1915,559 1939,585 1890,494 1846,623 1918,526 1800,657 1790,605 1849,568 1929,568 1935,490 1768,632 1957,503 1923,520 1784,636 1891,495 1976,563 1923,517 1942,550 1949,544 1957,552 1917,530 1919,550 1786,574 1951,519 1789,579 1936,591 1803,599 1861,600 1848,622 1785,598 1964,592 1817,628 1926,519 1834,614 1796,606 1960,529 1965,590 1815,552 1820,642 1806,581 1922,543 1933,499 1929,594 1853,600 1950,587 1930,559 1778,599 1957,491 1938,559 1799,648 1845,604 1827,597 1777,633 1925,501 1812,595 1927,565 1918,486 1922,484 1776,594 1814,614 1925,521 1941,546 1950,573 1968,556 1816,605 1923,562 1908,522 1791,642 1936,529 1831,617 1942,538 1816,645 1848,560 1921,585 1858,574 1848,574 1807,618 1935,565 1784,651 1805,572 1812,608 1797,612 1839,619 1971,572 1810,647 1857,568 1819,561 1925,553 1946,533 1956,501 1925,494 1785,604 1921,484 1846,631 1930,593 1914,497 1828,605 1938,610 1924,573 1787,598 1923,524 1788,624 1983,572 1928,512 1985,570 1827,559 1853,624 1912,506 1780,616 1935,542 1960,523 1792,638 1959,593 1840,599 1940,592 1839,575 1817,610 1910,491 1965,550 1800,563 1921,495 1807,625 1937,607 1918,539 1854,601 1812,566 1854,589 1910,532 1852,587 1973,573 1857,590 1924,505 1943,527 1946,524 1911,544 1976,565 1775,607 1936,578 1948,605 1920,567 1799,619 1833,567 1944,587 1940,493 1954,587 1965,548 1785,629 1820,626 1823,607 1948,538 1820,570 1822,615 1958,563 1896,499 1824,626 1812,560 1972,572 1976,578 1920,558 1962,536 1911,547 1973,495 1796,556 1917,531 1952,556 1778,582 1899,535 1950,592 1825,632 1847,629 1932,611 1811,610 1828,620 1779,611 1767,615 1898,528 1942,594 1931,539 1946,546 1792,638 1818,653 1943,563 1854,611 1802,605 1813,559 1830,571 1917,521 1940,567 1815,612 1800,603 1933,519 1952,535 1837,579 1844,565 1856,567 1799,594 1921,545 1862,563 1795,624 1831,629 1779,582 1825,638 1856,606 1949,563 1954,602 1793,560 1933,571"/>
<polyline class="s OHC" points="1962,680 1873,706 1942,694 2019,683 1824,683 1850,741 2001,691 2008,685 1834,683 1870,714 1985,725 1831,751 2005,692 1856,701 1847,686 1850,745 1826,693 1963,708 2009,708 1870,731 1869,692 2004,717 1986,668 1820,743 1824,741 1849,750 1827,722 1977,699 1979,700 1885,713 1983,698 1973,667 2019,700 1876,708 1891,732 1814,707 1838,744 1818,699 2008,689 2025,698 1822,707 1821,721 1872,704 1816,727 2022,700 1860,694 1883,713 2019,696 1965,716 1869,727 1980,730 1921,714 2007,716 1946,691 2006,712 1815,728 1838,689 1881,709 1831,740 1861,738 1885,738 2010,718 1982,726 2022,681 1871,729 1872,716 1901,708 2001,731 2013,701 2023,695 1988,728 1829,737 1883,717 1870,699 1878,698 2000,681 1901,710 1841,757 1870,689 2010,686 1868,742 1888,736 1831,740 1873,738 1897,709 1999,730 1838,761 1945,684 1843,689 1927,706 1896,707 1854,744 1817,692 1974,706 1875,703 1845,757 1849,694 2002,720 1829,732 1928,710 1998,683 1995,733 1871,694 1826,681 2022,685 1987,700 1875,696 1899,706 1992,729 1840,691 2025,692 1822,715 1838,753 1968,676 1907,707 1984,727 1982,668 1855,698 1859,696 1830,688 1858,690 1965,718 2006,710 1962,707 1859,742 1831,680 1966,723 1814,704 1873,731 1834,743 1850,680 1992,702 1957,676 1991,694 1891,710 1867,689 2017,697 1825,713 1847,687 2018,706 1833,736 2017,687 1825,680 2000,721 2002,694 1847,742 2027,681 1844,753 1993,734 1870,727 1993,733 2019,677 1827,706 2023,675 1868,706 1937,696 2008,708 1860,734 1837,679 1856,686 1940,689 1849,696 1887,735 1878,722 2021,691 1833,692 1981,724 1987,667 1870,702 1969,717 1858,700 1995,692 1960,717 1817,695 1972,703 1835,747 1867,703 1832,747 1836,757 1977,699 2024,684 1830,684 1819,735 1842,679 1969,673 1927,714 1972,708 1855,755 1930,711 1994,697 1864,724 2016,689 1865,721 1891,736 1852,750 1847,755 2013,683 1980,706 2001,671 1901,727 1816,717 1971,727 2012,691 2001,727 1876,730 2027,696 1851,693 1817,704 1819,718 1864,733 1824,727 2010,715 1921,713 1994,674 1861,697 1876,716 1822,716 1993,693 1889,730 1891,728 1875,724 1866,696 1856,684 1833,686 1989,729 1895,731 1869,727 1850,691 1976,724 1958,679 1868,713 1823,680 1981,673 1992,731 1949,683 1838,750 2012,709 2010,704 1950,689 1838,687 2003,723 2015,682 1855,739 1832,742 1933,694 2017,685 2002,697 1862,687 1820,716 1851,689 1988,673 1859,731 1829,700 2029,682 1943,690 1901,724 1821,739 1968,726 1962,722 1937,701 1844,748 1999,724 2022,688 1872,708 1824,701 1828,695 2002,724 1818,702 1968,718 1831,674 1867,709 1963,713 1819,689 1826,726 1822,723 1835,743 1890,732 1830,703 1822,731 2002,676 1827,746 1815,712 1849,686 1935,692 1975,668 1983,699 1966,674 1998,676 1855,750 1988,732 1847,690 1867,698 1967,714 1849,757 1847,694 1966,710 1972,721 1831,730 1869,717 1935,703 2011,692 1938,689 1870,733 2003,720 1833,687 1964,671 1821,708 1861,685 1962,672 1885,711 1863,702 1971,669 1813,725 1907,708 1886,712 1826,672 1861,748 1857,736 1932,707 1834,678 1967,704 1929,713 2006,722 2003,723 1848,680 1996,669 1930,700 1938,694 1873,721 1951,684 1939,698 1831,745 1820,727 1868,691 1953,684 1829,689 2021,675 1971,709 1895,727 2003,690 2008,705 1998,727 1986,671 1816,709 1868,729 1995,727 1826,732 2030,684 1961,676 1936,698 2028,689 1996,693 1966,711 1993,671 1836,689 1868,741 1899,709 1943,685 1967,714 1984,665 2016,704 1838,747 1827,673 1974,671 2020,701 1846,681 1990,702 1988,667 1851,685 1980,731 1964,672 1871,709 1871,722 1956,678 1869,712 2022,698 1827,745 1945,682 1931,696 1862,693 1821,716 1886,714 1821,698 1875,719 1965,725 2026,683 1968,704 1997,698 1864,729 2024,678 1864,689 1972,719 1846,742 1929,706 1925,708 1860,740 1930,696 1977,729 1823,697"/>
<polyline class="s ILC" points="2168,510 2143,362 2127,422 2094,406 2187,498 2128,446 2106,393 2094,506 2150,510 2173,429 2124,540 2168,372 2154,514 2125,526 2167,440 2087,455 2177,484 2123,456 2174,527 2091,369 2113,493 2156,425 2098,370 2088,453 2152,545 2181,478 2155,506 2075,388 2094,486 2115,358 2154,452 2163,473 2152,523 2168,399 2102,496 2163,418 2137,482 2088,516 2167,399 2101,432 2142,523 2131,536 2071,422 2166,542 2114,540 2096,423 2209,493 2093,417 2069,404 2198,520 2135,387 2121,382 2089,496 2110,514 2099,463 2177,474 2109,409 2165,404 2105,366 2150,394 2093,465 2123,532 2099,522 2138,546 2156,411 2083,398 2192,477 2116,429 2068,402 2161,376 2125,533 2142,437 2168,374 2147,438 2072,496 2068,448 2127,489 2151,443 2154,433 2118,431 2109,537 2108,526 2103,465 2076,435 2081,457 2149,526 2099,489 2100,443 2081,394 2130,439 2152,528 2127,544 2131,380 2089,516 2141,495 2096,438 2206,478 2067,409 2102,376 2101,539 2109,381 2081,406 2103,405 2178,465 2161,472 2093,555 2139,489 2172,449 2147,552 2207,504 2159,397 2144,429 2110,500 2147,519 2091,386 2084,384 2098,402 2100,394 2182,461 2141,397 2181,472 2116,485 2141,552 2106,491 2144,460 2096,487 2088,510 2159,545 2126,554 2105,551 2140,384 2104,474 2126,499 2137,502 2198,485 2123,433 2136,444 2114,539 2111,414 2074,450 2164,497 2183,526 2079,369 2094,482 2156,417 2099,442 2098,403 2174,484 2136,464 2104,476 2108,409 2136,529 2088,508 2097,458 2138,452 2117,528 2164,385 2086,388 2085,520 2075,397 2070,401 2161,444 2108,539 2110,499 2085,399 2136,431 2170,506 2191,497 2145,550 2115,406 2147,413 2128,466 2099,551 2142,552 2066,419 2157,540 2120,428 2194,475 2201,484 2132,506 2198,477 2090,375 2152,395 2150,466 2138,373 2142,534 2175,515 2149,370 2157,465 2090,418 2157,533 2071,422 2138,379 2147,469 2151,482 2068,381 2099,431 2076,416 2094,464 2174,441 2134,491 2136,371 2133,459 2070,447 2170,423 2128,456 2070,376 2094,373 2163,431 2106,481 2079,395 2131,363 2127,546 2201,514 2204,510 2103,425 2077,384 2119,551 2177,522 2148,525 2136,493 2119,544 2095,408 2174,523 2176,424 2166,411 2076,404 2125,504 2179,414 2127,387 2104,417 2099,368 2158,452 2058,413 2072,400 2176,503 2146,540 2139,432 2156,475 2108,422 2101,374 2093,447 2160,516 2071,429 2077,433 2123,508 2200,466 2126,447 2124,367 2122,450 2120,422 2164,466 2205,511 2173,406 2102,548 2134,555 2096,481 2169,418 2181,525 2184,483 2212,498 2154,360 2086,377 2147,453 2126,488 2126,479 2145,507 2103,365 2094,524 2140,524 2098,470 2174,456 2154,515 2127,374 2074,444 2111,393 2145,502 2107,469 2137,470 2106,370 2167,519 2114,381 2129,551 2083,407 2164,534 2140,404 2158,528 2126,527 2122,539 2091,369 2128,373 2189,511 2084,450 2211,482 2089,442 2071,376 2169,489 2097,515 2133,519 2113,420 2093,473 2162,368 2103,427 2112,431 2102,452 2159,390 2126,555 2130,454 2131,364 2101,546 2110,450 2085,393 2168,451 2112,371 2113,534 2151,546 2195,525 2166,484 2187,455 2183,462 2139,509 2098,386 2107,505 2144,489 2134,403 2059,414 2201,474 2148,383 2139,509 2127,386 2132,449 2179,471 2137,559 2180,531 2075,405 2162,479 2101,389 2111,451 2120,401 2178,529 2123,492 2169,474 2141,494 2194,468 2078,411 2120,427 2130,495 2166,535 2207,489 2142,376 2119,462 2103,524 2079,371 2151,408 2071,497 2162,362 2125,441 2172,499 2176,435 2171,424 2105,486 2160,504 2097,394 2135,402 2202,499 2079,378 2098,438 2183,505 2164,426 2076,411 2057,421 2106,466 2169,463 2139,396 2114,365 2173,416 2099,424 2148,475 2152,550 2105,481 2081,456 2087,425 2125,426 2164,483 2123,451 2163,464 2109,425 2165,386 2178,403 2073,379 2159,414 2190,496 2091,481 2116,456 2109,357 2102,512 2116,386 2133,550 2172,536 2102,466 2139,518 2111,376 2150,532 2200,510 2192,490 2087,460 2108,532 2169,510 2129,472 2096,418 2134,393 2094,496 2169,471 2068,436 2151,528 2156,366 2174,505 2190,522 2178,450 2166,392 2152,456 2131,431 2103,400 2078,429 2137,368 2178,412"/>
<path d="M1501 932.8v-23.9M1798.8 932.8v-23.9M2095.2 932.8v-23.9M1384.2 137.2h23.9M1384.2 254.8h23.9M1384.2 372.4h23.9M1384.2 490h23.9M1384.2 607.4h23.9M1384.2 724.9h23.9M1384.2 842.3h23.9" stroke="#1a1a1a" stroke-width="5.8" fill="none"/>
<rect x="1384.2" y="29.5" width="868.4" height="903.3" fill="none" stroke="#1a1a1a" stroke-width="5.8"/>
<g font-size="62.5" text-anchor="middle">
<text x="1504" y="993">−50</text>
<text x="1800.8" y="993">0</text>
<text x="2097.2" y="993">50</text>
</g>
<g font-size="62.5" text-anchor="end">
<text x="1362.2" y="157.2">60</text>
<text x="1362.2" y="274.8">40</text>
<text x="1362.2" y="392.4">20</text>
<text x="1362.2" y="510">0</text>
<text x="1362.2" y="627.4">−20</text>
<text x="1362.2" y="744.9">−40</text>
<text x="1362.2" y="862.3">−60</text>
</g>
<text class="ax" x="1827.4" y="1065" text-anchor="middle">分量<tspan class="d">1</tspan></text>
<text class="ay" transform="translate(1248 473.8) rotate(-90)" text-anchor="middle">分量<tspan class="dy">2</tspan></text>
<text x="1832" y="1130" font-size="62.5" text-anchor="middle">(b) CNN-C</text>
</g>
<g id="panel-c">
<polyline class="s IHW" points="2564,415 2606,329 2597,400 2588,364 2604,293 2569,379 2560,492 2593,329 2578,391 2530,460 2536,425 2577,410 2592,365 2554,465 2610,282 2534,443 2589,330 2602,274 2587,302 2572,376 2561,394 2588,335 2571,335 2609,275 2593,294 2575,312 2557,462 2536,490 2605,325 2551,428 2542,496 2577,310 2587,382 2566,409 2579,305 2569,424 2571,410 2582,386 2582,308 2556,395 2571,442 2588,354 2566,453 2598,319 2562,395 2609,269 2543,490 2577,340 2566,408 2554,471 2535,442 2601,298 2603,282 2561,356 2595,339 2583,343 2595,398 2566,389 2571,358 2536,470 2540,477 2583,398 2580,404 2547,455 2588,318 2579,409 2558,479 2555,446 2543,486 2562,430 2583,303 2588,277 2566,427 2544,488 2536,487 2569,352 2546,474 2552,482 2536,495 2530,490 2582,379 2615,279 2594,309 2544,446 2592,362 2565,418 2585,327 2566,404 2534,486 2556,355 2547,456 2581,331 2559,417 2578,310 2565,374 2539,423 2603,313 2580,274 2567,358 2588,345 2567,421 2573,313 2564,391 2550,406 2573,438 2555,420 2618,279 2570,368 2544,481 2611,319 2594,348 2527,478 2617,314 2558,413 2534,427 2603,279 2553,484 2529,462 2553,494 2598,314 2618,283 2558,411 2560,467 2599,345 2594,300 2541,430 2548,441 2596,333 2568,351 2568,426 2566,443 2589,279 2602,315 2537,461 2540,468 2543,452 2551,488 2609,306 2555,356 2585,361 2599,305 2586,390 2529,470 2557,431 2524,486 2592,328 2611,301 2575,372 2567,438 2594,285 2598,315 2575,437 2565,454 2584,331 2571,398 2581,317 2547,481 2562,370 2578,358 2583,377 2604,317 2589,311 2555,436 2540,431 2580,326 2562,486 2597,275 2558,491 2557,473 2578,307 2590,345 2592,273 2551,435 2546,468 2550,492 2543,447 2535,474 2572,391 2577,331 2568,405 2575,367 2592,318 2538,438 2563,475 2619,278 2576,314 2571,443 2529,478 2548,467 2567,449 2551,462 2616,283 2561,382 2559,423 2582,302 2574,360 2583,397 2604,307 2590,308 2559,451 2561,387 2613,291 2529,470 2610,317 2583,280 2561,447 2563,474 2585,341 2554,403 2578,312 2540,472 2595,321 2552,416 2601,284 2544,436 2551,424 2566,342 2565,393 2615,270 2551,424 2580,312 2586,319 2606,284 2598,274 2573,389 2545,461 2559,384 2573,420 2563,384 2568,413 2568,366 2593,322 2586,287 2585,390 2585,367 2567,421 2564,352 2609,313 2577,359 2570,415 2602,292 2587,286"/>
<polyline class="s OHC" points="2683,155 2602,243 2625,230 2678,145 2613,252 2679,86 2602,251 2662,158 2652,93 2654,107 2646,167 2607,237 2637,166 2612,220 2629,276 2599,225 2690,117 2675,98 2632,188 2637,226 2617,246 2591,263 2637,152 2666,128 2672,127 2627,180 2645,227 2660,116 2602,245 2634,235 2646,117 2605,221 2639,240 2604,213 2636,207 2673,127 2674,87 2619,212 2663,131 2645,218 2636,122 2623,224 2656,176 2658,164 2633,270 2639,143 2658,183 2617,225 2676,114 2628,179 2624,177 2604,257 2601,263 2601,220 2620,175 2633,198 2614,220 2661,183 2614,207 2696,80 2609,242 2673,105 2617,272 2593,268 2652,202 2655,97 2668,185 2599,247 2656,205 2637,196 2682,115 2638,171 2611,271 2617,235 2667,139 2627,253 2656,106 2642,148 2636,180 2627,214 2660,106 2659,173 2621,272 2671,124 2652,106 2646,150 2668,116 2660,188 2671,143 2610,255 2641,143 2647,187 2659,135 2662,132 2629,182 2643,120 2693,115 2630,233 2647,204 2609,220 2612,212 2614,264 2636,218 2666,124 2648,164 2654,121 2687,80 2678,118 2654,152 2650,177 2652,171 2647,99 2640,209 2693,109 2617,229 2677,99 2649,124 2657,113 2650,125 2657,170 2682,88 2599,219 2668,162 2639,235 2627,172 2628,209 2629,275 2661,153 2656,135 2655,197 2672,112 2613,275 2643,169 2626,184 2633,214 2636,170 2661,162 2627,241 2640,119 2603,269 2651,171 2606,212 2641,175 2643,192 2661,104 2630,209 2595,273 2685,107 2618,259 2626,194 2654,207 2637,232 2640,133 2601,249 2623,218 2637,189 2643,180 2634,239 2608,234 2641,156 2683,111 2666,95 2677,88 2692,81 2672,92 2653,209 2641,137 2618,271 2655,208 2664,136 2630,176 2632,192 2624,242 2629,268 2652,206 2602,236 2652,121 2608,214 2692,78 2646,228 2644,161 2614,267 2629,248 2622,228 2642,141 2658,113 2665,122 2637,185 2621,203 2661,97 2658,204 2672,118 2612,236 2649,124 2660,199 2651,159 2682,87 2640,219 2641,208 2664,93 2654,208 2603,257 2670,153 2668,100 2627,264 2656,145 2658,116 2689,87 2630,240 2631,255 2621,202 2624,218 2645,220 2603,274 2638,225 2659,198 2638,160 2680,109 2661,112 2605,216 2677,92 2625,170 2651,122 2653,166 2635,153 2650,144 2630,189 2625,174 2619,273 2650,202 2588,267 2667,126 2640,118 2603,220 2646,173 2630,205 2656,123 2644,121 2666,96 2620,263 2663,185 2641,124 2650,199 2655,157 2669,185 2643,148 2656,159 2671,143 2691,86 2663,166 2624,257 2653,196 2643,160 2625,200 2627,168 2658,164 2651,178 2628,228 2634,241 2676,133 2639,167 2611,271 2621,178 2640,123 2644,172 2639,200 2605,260 2614,253 2619,258 2644,204 2653,130"/>
<polyline class="s ESW" points="2684,707 2718,565 2677,694 2729,578 2715,776 2794,616 2714,467 2725,669 2693,538 2693,699 2682,618 2767,666 2719,545 2739,542 2709,654 2744,475 2700,601 2699,576 2724,667 2711,738 2713,534 2691,642 2743,756 2678,529 2726,711 2681,721 2714,526 2683,606 2698,684 2732,444 2713,512 2698,650 2683,626 2711,520 2701,692 2711,727 2745,766 2779,623 2753,480 2822,590 2723,432 2735,740 2719,601 2764,668 2750,466 2731,782 2712,511 2707,653 2753,500 2697,655 2717,642 2699,532 2743,776 2690,510 2713,738 2756,682 2794,634 2773,676 2768,662 2725,790 2683,717 2701,460 2711,608 2748,530 2675,552 2694,517 2716,611 2679,714 2766,499 2708,450 2735,517 2759,514 2788,597 2749,495 2670,640 2696,537 2762,676 2718,630 2736,773 2708,482 2728,687 2747,554 2713,499 2729,561 2713,508 2684,690 2791,631 2745,534 2712,729 2762,506 2740,474 2778,655 2678,728 2682,680 2725,692 2688,717 2681,681 2685,609 2724,704 2769,686 2800,605 2725,695 2719,551 2725,517 2747,485 2773,653 2697,686 2670,628 2679,602 2794,628 2747,536 2750,489 2735,520 2689,733 2736,757 2701,515 2690,516 2682,709 2727,705 2708,691 2694,602 2725,444 2690,595 2748,508 2768,665 2690,707 2743,533 2711,737 2770,650 2675,710 2684,697 2795,604 2814,595 2702,607 2690,719 2758,694 2709,698 2693,718 2717,569 2693,495 2768,675 2744,439 2696,578 2707,635 2678,684 2724,524 2698,688 2713,563 2780,650 2664,635 2733,595 2735,550 2692,736 2749,503 2807,609 2758,508 2736,598 2721,446 2752,779 2756,474 2698,611 2677,718 2677,535 2676,609 2711,624 2698,526 2676,709 2780,642 2678,625 2756,488 2785,639 2715,465 2723,538 2725,707 2703,507 2812,600 2713,635 2698,687 2752,507 2747,544 2704,455 2713,515 2718,708 2750,777 2724,435 2684,642 2668,627 2712,486 2740,764 2715,516 2737,521 2733,712 2712,606 2770,662 2720,582 2696,680 2717,676 2802,615 2692,684 2730,518 2715,641 2724,435 2711,678 2796,607 2702,543 2719,714 2718,644 2724,593 2705,618 2736,795 2700,652 2723,626 2715,677 2710,478 2693,646 2734,714 2715,687 2681,686 2678,645 2745,476 2707,461 2744,491 2685,610 2726,558 2803,596 2717,595 2729,795 2673,614 2719,695 2723,572 2737,599 2710,664 2732,797 2789,616 2735,750 2815,591 2717,536 2758,491 2701,617 2707,488 2692,744 2719,519 2703,474 2706,618 2737,443 2696,742 2757,521 2805,602 2717,495 2722,555 2725,625 2704,495 2713,445 2724,629 2726,573 2717,444 2712,518 2728,546 2777,626 2754,527 2720,708 2766,498 2718,534 2685,535 2761,687 2701,479 2749,755 2694,617 2729,599 2719,521 2712,645 2776,647 2751,483 2719,620 2714,447 2694,541 2720,599 2756,687 2719,436 2740,459 2761,441 2674,550 2700,505 2742,767 2718,512 2725,581 2758,528 2696,606 2692,602 2790,599 2730,443 2731,568 2701,652 2781,629 2677,642 2724,624 2691,522 2755,483 2726,544 2678,702 2731,787 2703,466 2718,556 2735,563 2726,509 2790,637 2727,697 2677,601 2780,638 2687,693 2705,580 2735,746 2730,550 2718,532 2745,470 2705,507 2793,595 2714,611 2762,520 2695,528 2740,470 2732,768 2692,516 2757,682 2766,669 2754,512 2734,782 2731,458 2697,490 2724,588 2707,450 2735,792 2702,495 2695,655 2762,443 2702,503 2676,533 2763,612 2684,731 2730,539 2716,692 2724,684 2778,666 2756,493 2735,519 2771,668 2715,716 2745,459 2702,682 2669,639 2711,466 2763,610 2714,768 2705,612 2665,617 2744,754 2742,547 2735,449 2731,561 2747,521 2820,585 2752,482 2742,777 2715,714 2734,757 2749,504 2712,517 2737,789 2709,493 2758,499 2767,497 2687,615 2718,577 2793,622 2687,684 2697,648 2747,543 2700,572 2721,627 2708,576 2713,565 2726,572 2719,527 2744,549 2752,472 2785,623 2675,622 2723,513 2716,616 2693,689 2757,687 2762,610 2690,749 2743,554 2762,680 2776,664 2735,777 2781,649 2737,520 2675,720 2716,772 2670,622 2755,475 2724,509 2693,638 2790,591 2767,650 2691,656 2689,543 2699,676 2743,468 2712,662 2731,588 2722,644 2686,524 2728,785 2679,606 2703,517 2789,621 2749,777 2728,533 2790,591 2683,635 2704,676 2680,524 2735,773 2698,656 2775,641 2696,612 2699,614 2679,691 2722,450 2678,543 2702,485 2728,597 2710,697 2694,724 2737,549 2707,641 2718,586 2689,514 2686,688 2756,484 2754,519 2691,608 2735,461 2667,616 2686,736 2688,624 2680,644 2720,576 2673,615 2744,438 2751,518 2691,527 2779,634 2706,456 2701,600 2765,507 2725,434 2786,632 2747,479 2719,635 2742,454 2696,746 2695,506 2689,539 2720,510 2717,455 2734,762 2792,623 2713,629 2716,692 2743,747 2745,439 2716,699 2693,653 2698,607 2815,582 2677,703 2690,547 2705,599 2730,553 2800,601 2747,486 2747,545 2694,500 2692,521 2722,669 2711,449 2693,532 2712,578 2711,506 2750,546 2704,511 2721,691 2710,688 2687,649 2716,464 2698,682 2703,636 2802,617 2705,473 2686,745 2699,522 2759,478 2709,513 2718,714 2726,627 2748,776 2760,498 2708,487 2755,695 2710,673 2700,646 2816,582 2736,782 2680,614 2732,463 2686,615 2712,532 2713,632 2716,625 2687,637"/>
<polyline class="s OLC" points="2877,341 2862,590 2940,423 2900,378 2956,469 2929,410 2942,443 2812,443 2829,572 2953,471 2919,518 2928,528 2868,335 2857,342 2914,393 2930,397 2936,403 2866,337 2952,424 2854,439 2931,463 2791,279 2844,452 2883,338 2854,444 2911,390 2790,330 2882,439 2855,327 2932,449 2863,336 2782,483 2875,258 2792,293 2775,465 2894,367 2881,548 2920,400 2882,545 2865,337 2910,394 2891,461 2815,438 2885,530 2919,419 2936,406 2830,556 2968,470 2828,326 2865,236 2804,442 2787,394 2857,340 2967,474 2962,480 2810,396 2782,252 2936,392 2884,544 2792,385 2776,336 2930,409 2944,436 2927,515 2952,456 2858,436 2933,464 2943,444 2846,443 2952,459 2818,445 2879,336 2907,371 2840,547 2873,591 2906,384 2860,341 2957,423 2800,330 2789,269 2826,371 2870,341 2845,448 2790,387 2931,423 2867,415 2886,412 2911,490 2781,480 2944,435 2826,365 2869,261 2852,572 2820,342 2928,383 2831,345 2949,467 2935,389 2819,349 2783,328 2979,478 2914,485 2858,556 2844,459 2784,488 2930,429 2954,483 2921,407 2921,499 2860,238 2928,404 2788,274 2773,461 2826,374 2887,436 2771,252 2873,243 2791,444 2832,545 2848,444 2893,377 2842,450 2828,541 2888,349 2958,465 2918,496 2798,325 2885,445 2909,393 2885,338 2896,358 2793,306 2871,370 2791,476 2915,398 2900,464 2867,424 2892,285 2794,405 2926,415 2925,526 2785,250 2821,544 2804,332 2959,422 2882,353 2877,334 2837,546 2793,322 2884,529 2784,399 2927,383 2931,383 2862,437 2807,328 2905,377 2796,330 2880,342 2795,328 2934,416 2859,331 2959,454 2830,378 2831,561 2927,435 2923,430 2871,256 2791,482 2853,445 2938,426 2817,376 2829,574 2882,430 2795,333 2878,587 2782,481 2882,528 2915,490 2864,257 2923,399 2858,590 2912,384 2861,343 2939,448 2888,283 2967,459 2830,351 2842,329 2795,282 2927,513 2823,446 2856,566 2798,271 2931,381 2880,315 2923,440 2957,453 2844,448 2793,445 2920,389 2843,552 2891,353 2786,289 2782,474 2891,339 2785,255 2822,553 2918,388 2849,446 2825,372 2841,441 2862,411 2835,549 2883,567 2905,472 2952,432 2961,476 2805,449 2953,463 2931,433 2931,421 2864,427 2919,423 2909,393 2928,406 2867,341 2857,344 2842,338 2817,329 2901,385 2888,357 2918,499 2865,333 2825,349 2796,481 2814,452 2866,582 2879,596 2946,447 2874,324 2811,458 2873,573 2872,369 2858,340 2784,473 2785,405 2926,436 2937,445 2871,418 2850,555 2877,598 2798,472 2956,442 2932,403 2952,453 2902,379 2970,469 2820,550 2866,256 2966,481 2783,246 2884,443 2961,472 2836,454 2875,343 2887,426 2892,468 2940,408 2871,412 2896,371 2838,456 2816,333 2786,403 2824,325 2939,440 2955,477 2836,452 2923,401 2793,287 2783,338 2935,451 2867,555 2862,428 2934,437 2820,447 2854,336 2907,387 2854,552 2897,365 2896,559 2829,354 2916,379 2895,451 2872,576 2793,404 2800,467 2840,441 2925,418 2861,415 2822,453 2898,465 2947,451 2860,327 2969,478 2875,596 2935,443 2935,435 2811,377 2784,485 2824,330 2818,440 2941,451 2974,479 2922,382 2819,561 2926,415 2837,553 2932,407 2933,425 2937,449 2975,481 2866,410 2803,316 2787,293 2870,580 2895,379 2808,468 2792,393 2817,340 2774,470 2886,297 2880,371 2809,340 2798,394 2926,523 2854,577 2835,558 2799,400 2873,354 2864,559 2837,553 2804,370 2936,437 2793,268 2857,434 2780,479 2880,344 2933,393 2769,462 2893,425 2939,414 2849,553 2929,407 2797,316 2887,411 2912,379 2869,265 2931,466 2857,233 2959,483 2831,364 2916,393 2786,342 2968,480 2820,458 2927,425 2780,466 2932,401 2917,509 2899,363 2925,441 2885,560 2934,403 2924,408 2779,332 2885,309 2855,388 2964,465 2935,523 2886,355 2952,450 2858,249 2944,462 2867,338 2896,445 2850,446 2889,366 2792,467 2789,283 2784,334 2792,316 2796,473 2925,423 2877,309 2849,547 2893,362 2929,382 2888,556 2779,399 2947,443 2863,564 2830,366 2887,353 2855,433 2791,331 2888,410 2805,368 2800,382 2935,391 2852,564 2788,309 2872,316 2784,460 2821,368 2875,337 2879,339 2817,383 2865,364 2929,416 2772,463 2879,337 2871,243 2811,435 2948,469 2855,556 2805,461 2789,395 2877,566 2929,508 2904,378 2974,464 2828,551 2935,414 2892,373 2962,486 2867,256 2961,455 2846,555 2926,511 2790,400 2919,386 2908,371 2823,449 2959,461 2893,433 2890,430 2895,345 2819,455 2790,471 2935,439 2875,581 2774,255 2827,572 2847,562 2904,467 2873,414 2919,414 2830,361 2822,460 2926,420 2886,411 2931,446 2873,371 2872,585 2933,387 2788,339 2882,569 2868,583 2815,378 2792,334 2880,271 2775,249 2778,476 2786,392 2836,333 2850,558 2862,420 2782,481 2789,396 2900,372 2875,584 2786,466 2859,428 2786,491 2854,432 2820,389 2836,552 2830,354 2923,520 2854,248 2871,414 2958,436 2836,346 2834,373 2853,440 2847,445 2919,390 2773,470 2870,329 2845,342 2943,416 2821,366 2875,349 2905,385 2843,377 2783,395 2925,417 2864,559 2864,242 2795,337 2918,504 2784,395 2900,465 2908,400 2814,393 2863,431 2834,556 2929,398 2783,483 2881,562 2848,550 2819,555 2788,272 2879,586 2935,433 2916,491 2864,263 2855,385 2829,331 2907,399 2786,267 2925,415 2928,432 2967,465 2822,430 2958,481 2875,602 2943,452 2847,556 2937,455 2910,380 2892,343 2794,312 2869,341 2953,479 2936,442 2817,380 2956,428 2954,449 2913,388 2815,364 2779,251 2955,454 2829,336 2934,409 2869,331 2849,433 2963,476 2929,523 2800,462 2890,565 2785,489 2866,345 2794,276 2940,425 2790,443 2788,387 2876,329 2804,371 2795,303 2781,467 2964,458 2793,387 2874,367 2916,384 2773,247 2882,557 2844,368 2826,363 2796,400 2954,425 2837,547 2787,302 2876,269 2871,575 2826,547 2882,528 2860,569 2855,329 2882,546 2806,389 2945,445 2815,461 2775,462 2841,331 2853,561 2788,490 2876,409 2903,386 2801,461 2849,404 2821,371 2922,515 2786,489 2933,425 2788,337 2822,384 2931,423 2796,317 2873,341 2844,551 2862,408 2933,409 2829,373 2891,444 2850,456 2787,278 2826,554 2900,469 2827,367 2957,462 2873,423 2929,427 2937,431 2882,546 2827,349 2822,431 2878,366 2823,378 2871,560 2810,380 2898,460 2918,424 2886,353 2880,434 2864,554 2879,354 2933,520 2916,383 2887,352 2961,445 2866,422 2915,497 2887,342 2820,382 2962,486 2794,389 2871,561 2785,394 2832,361 2814,343 2788,335 2787,344 2899,367 2948,440 2882,299 2912,505 2873,323 2830,352 2889,567 2888,454 2790,401 2820,451 2950,436 2844,556 2908,389 2803,395 2889,561 2819,391 2860,557 2795,277 2943,448 2871,338 2850,331 2924,396 2926,406 2799,270 2850,404 2868,570 2934,405 2913,407 2947,433 2784,393 2882,421 2850,562 2815,383 2873,425 2926,436 2891,423 2866,336 2806,394 2783,468 2786,469 2901,347 2930,527 2878,273 2842,552 2837,574 2800,400 2868,252 2867,594 2922,513 2838,450 2927,390 2890,443 2915,489 2881,358 2919,404 2940,434 2884,428 2834,454 2886,441 2928,404 2933,406 2930,529 2800,336 2837,455 2828,343 2875,571 2794,301 2864,337 2886,411 2881,340 2799,304 2784,469 2877,426 2849,555 2819,362 2789,339 2876,319 2832,373 2844,446 2894,562 2869,328 2932,428 2850,338 2806,379 2891,364 2821,354 2880,570 2963,464 2843,334 2881,356 2789,325 2803,335 2772,455 2836,327 2925,395 2824,337 2884,530 2848,374 2818,557 2878,359 2848,384 2910,374 2927,430 2867,337 2893,454 2882,575 2785,333 2812,448 2882,440 2962,483 2958,461 2880,414 2877,606 2821,551 2852,388 2791,481 2787,478 2973,474 2910,379 2885,469 2834,449 2917,382 2815,375 2798,337 2798,392 2933,418 2864,571 2837,352 2919,511 2872,567 2882,298 2959,476 2795,296 2872,342 2864,362 2933,406 2890,462 2872,600 2943,421 2798,396 2812,325 2889,556 2788,289 2804,448 2912,392 2887,436 2781,398 2883,303 2890,364 2948,473 2791,410 2829,553 2959,459 2979,477 2786,489 2940,431 2957,454 2923,407 2814,370 2949,467 2873,338 2798,464 2832,447 2954,447 2838,453 2840,448 2927,411 2862,351 2864,436 2930,415 2820,383 2839,443 2923,402 2780,332 2849,446 2864,251 2849,435 2929,431 2905,458 2787,473 2950,419 2839,335 2892,447 2958,428 2881,350 2816,462 2792,475 2864,566 2921,504 2893,562 2846,456 2811,340 2889,291 2838,559 2866,247 2880,346 2916,489 2896,463 2885,417 2874,416 2930,529 2798,396 2933,428 2915,503 2958,450 2936,419 2875,569 2782,334 2793,328 2883,347 2844,450 2802,471 2890,568 2893,345 2869,589 2894,456 2939,454 2794,395 2835,572 2835,555 2859,423 2824,326 2893,351 2786,250 2786,471 2825,556"/>
<polyline class="s ILW" points="2905,246 2917,242 2998,146 2904,203 2907,269 2939,163 3000,136 2910,280 2922,253 2914,203 3021,127 2904,274 2899,289 2933,243 2953,182 2999,145 2917,259 2905,291 2949,193 2917,242 3001,134 2979,195 2902,242 2972,195 2973,155 2953,224 2927,224 2971,153 2976,142 2969,137 2905,246 3049,167 2992,143 3012,146 2988,144 2983,137 2977,190 2929,248 3046,173 2937,170 2883,221 2878,220 2978,204 3007,124 2903,218 2921,222 2912,244 2882,239 3005,135 2976,151 2901,284 2940,219 2881,223 3022,143 3011,157 2932,248 2995,139 2987,195 2947,214 2904,278 2978,160 2904,282 2988,139 2926,245 2947,234 3058,180 2950,172 2885,274 2896,201 2884,207 2984,190 2958,185 2915,246 2898,280 2934,221 2972,184 2907,276 2914,263 2899,275 2985,217 3046,163 2907,240 2936,252 2973,163 2933,248 2989,140 2966,197 2906,286 3014,149 2975,151 2974,142 2882,240 2939,222 2917,253 3050,168 2941,163 2933,240 2931,218 2970,131 2868,212 2958,154 2925,225 2935,233 2947,222 2906,242 2946,159 2915,236 3051,183 2906,248 2955,195 3002,132 2916,252 2912,254 2889,262 2987,219 2956,149 3015,135 2944,243 2956,187 2945,244 2863,219 2962,154 2901,260 2873,219 2893,212 2937,168 2934,250 2904,255 2910,251 2882,280 2984,144 2965,143 2919,204 2907,276 2927,250 2887,210 2910,235 2952,189 2982,161 2881,210 2901,286 2916,263 2881,241 2974,192 2954,159 2991,131 2942,242 3032,153 3014,154 3029,143 2900,209 2902,264 3010,145 2881,218 3021,151 2966,201 2929,215 2966,144 2914,207 2965,160 2947,187 2933,242 2902,259 2964,159 2901,275 2897,263 2928,242 2984,151 2980,152 2865,215 2974,144 2868,219 2897,214 2997,149 2906,277 3048,180 2923,208 2978,160 2982,194 2868,227 3008,130 2907,258 2897,274 2955,213 2974,153 2903,285 2960,156 2931,214 2918,219 2914,262 2929,259 2944,211 2898,280 2931,225 2981,165 2905,274 3004,158 3034,149 2909,245 2902,285 2991,138 2923,218 2877,248 2918,250 2893,273 2926,224 2997,151 2980,137 2890,260 2943,163 2872,231 2910,242 2934,213 2965,192 2907,257 2922,255 3018,129 2983,153 2956,157 2917,227 2864,220 3045,164 2918,244 2914,263 2976,201 2891,209 2958,151 2968,155 2907,284 3004,162 2976,201 2888,217 2970,139 2909,247 2897,279 2984,210 2939,240 2899,262 2897,258 2912,251 2918,260 3023,146 2946,174 2935,238 2984,211 2873,212 2922,214 2941,221 2948,210 2934,227 2892,205 2911,265 3043,170 2951,211 2986,155 2919,247 3016,133 2915,248 2948,220 2942,209 2907,249 2893,256 2908,217 2925,246 3038,161 3007,134 2911,278 3058,178 2912,263 2897,268 2986,218 2894,211 2929,210 2984,189 2906,252 2971,129 2883,215 2930,228 3007,122 2898,282 2903,290 2929,250 2996,135 2907,257 2994,143 2908,265 2930,210 3014,148 2936,214 2986,195 2984,210 2907,248 2912,257 2942,210 2912,243 2901,286 2889,206 2896,278 2968,151 2910,203 2941,205 2970,196 2978,144 3035,160 3027,154 2908,253 2883,274 2882,214 2983,138 2903,213 2953,194 2909,244 2934,241 2937,209 2900,249 2937,207 2892,258 2947,213 2938,212 2984,154 2932,209 2914,255 2921,256 2956,167 2918,250 2977,137 2904,245 3058,176 3038,154 3049,176 2942,246 2935,241 2984,201 2949,156 2879,248 2925,252 2900,289 2941,230 2946,205 2890,215 2964,156 2949,210 2940,218 2916,229 2970,142 2953,191 2895,283 2925,233 2911,210 2971,148 2929,217 2890,220 3004,141 2917,202 2914,247 2986,217 2964,144 2962,149 2976,188 2942,168 3000,136 2944,170 2951,171 2952,176 2925,256 3004,160 2947,167 3005,150 3023,138 2877,249 2983,157 2944,217 2938,233 2944,201 2899,274 2912,283 3039,165 2986,220 2975,147 3007,131 2931,254 2981,149 2935,227 3016,126 2870,225 2876,215 2984,217 2893,224 2957,167 2899,255 2913,256 2908,244 2889,210 2904,269 2909,260 2979,139 2873,226 2990,146 3022,149 2938,222 3046,173 2894,220 2934,247 2911,213 2957,222 2904,256 3012,140 2883,242 2979,185 2944,245"/>
<polyline class="s HY" points="3092,459 3176,248 3207,199 3209,233 3223,214 3236,228 3129,367 3153,237 3135,442 3090,371 3142,289 3228,213 3110,308 3131,448 3106,432 3143,260 3151,239 3098,344 3153,319 3251,246 3132,436 3135,315 3152,314 3192,235 3108,307 3111,288 3096,482 3087,345 3222,216 3199,230 3120,424 3147,404 3133,429 3177,252 3205,245 3250,226 3078,394 3209,246 3192,267 3261,253 3142,328 3139,303 3142,402 3125,460 3179,278 3156,256 3128,471 3149,416 3184,275 3095,400 3210,288 3103,461 3144,322 3121,408 3234,225 3226,248 3195,267 3137,327 3261,254 3150,235 3246,278 3218,286 3132,259 3132,290 3229,258 3213,203 3159,215 3173,244 3238,278 3102,326 3132,251 3108,452 3228,250 3141,434 3150,237 3193,242 3168,253 3100,446 3131,368 3160,247 3098,413 3144,313 3096,427 3095,419 3181,234 3150,218 3120,313 3139,437 3258,276 3248,237 3105,402 3088,375 3230,235 3257,260 3118,424 3217,217 3095,455 3215,227 3225,261 3084,373 3132,236 3157,231 3099,451 3147,256 3192,258 3136,393 3221,250 3117,313 3123,408 3134,363 3133,299 3191,248 3131,452 3122,344 3086,411 3109,470 3118,485 3210,209 3195,271 3196,263 3163,261 3145,244 3193,273 3142,305 3140,252 3129,242 3248,225 3147,400 3156,221 3095,402 3115,305 3262,239 3103,419 3201,246 3128,458 3125,450 3189,256 3134,246 3234,232 3121,313 3101,354 3105,477 3142,242 3140,424 3135,304 3179,273 3166,209 3141,392 3080,360 3254,242 3101,301 3258,284 3207,228 3197,269 3122,480 3133,249 3167,256 3096,352 3081,359 3209,253 3152,242 3259,251 3145,419 3251,279 3105,428 3225,216 3139,314 3165,207 3135,325 3214,191 3164,251 3241,275 3226,235 3119,330 3139,236 3122,406 3237,276 3095,463 3139,324 3203,194 3096,362 3256,272 3102,359 3207,229 3244,227 3134,346 3231,253 3106,315 3138,445 3190,233 3120,313 3094,453 3226,275 3098,306 3256,235 3210,240 3217,255 3097,339 3105,478 3195,265 3092,378 3112,484 3239,282 3146,246 3120,329 3112,275 3125,477 3262,234 3085,358 3137,373 3199,243 3138,296 3108,294 3255,277 3153,220 3120,454 3253,281 3251,238 3121,387 3199,231 3128,447 3262,250 3100,335 3225,240 3205,236 3091,471 3100,426 3206,237 3119,387 3101,319 3206,245 3089,390 3146,309 3218,198 3259,283 3204,259 3079,398 3226,265 3232,245 3105,302 3089,414 3126,467 3139,450 3086,351 3087,363 3092,394 3108,467 3148,307 3115,288 3137,377 3214,239 3184,268 3131,472 3252,233 3120,455 3163,255 3093,305 3181,248 3097,474 3145,251 3161,266 3108,437 3155,258 3228,251 3186,245 3131,376 3150,247 3159,237 3139,387 3094,324 3105,471 3198,252 3096,425 3104,351 3214,219 3099,469 3266,260 3109,444 3138,301 3129,448 3101,352 3223,264 3136,450 3137,401 3201,257 3105,454 3180,236 3233,221 3160,218 3121,474 3230,248 3252,229 3216,289 3239,242 3096,347 3200,245 3114,429 3206,235 3105,310 3134,368 3114,294 3105,424 3227,244 3082,382 3134,446 3133,335 3253,238 3243,286 3152,240 3115,288 3129,372 3118,449 3206,256 3121,327 3133,425 3143,370 3199,254 3102,326 3136,413 3107,312 3235,234 3107,443 3120,468 3137,295 3138,342 3143,364 3123,343 3160,220 3253,255 3098,434 3168,241 3219,204 3136,250 3127,476 3110,424 3130,442 3143,241 3128,358 3103,347 3137,411 3243,286 3216,202 3258,255 3211,214 3203,240 3222,242 3101,340 3158,209 3090,341 3137,332 3111,442 3211,282 3223,256 3131,431 3203,194 3161,260 3096,339 3093,370 3119,285 3110,422 3142,379 3236,284 3142,342 3093,365 3247,232 3099,465 3146,320 3228,259 3130,418 3200,242 3247,279 3131,251 3213,252 3192,231 3142,359 3217,241 3215,247 3157,208 3120,367 3130,235 3095,479 3241,278 3106,353 3235,283 3155,216 3145,312 3229,272 3092,386 3229,260 3138,336 3092,332 3087,397 3120,474 3256,266 3104,474 3270,252 3240,282 3137,432 3237,237 3093,326 3227,272 3225,270 3238,283 3104,450 3205,204 3125,472 3096,343 3257,235 3127,440 3120,441 3139,313 3262,271 3096,309 3101,475 3218,225 3140,337 3206,260 3215,284 3089,359 3120,444 3102,405 3197,228 3228,241 3153,252 3087,380 3186,276 3096,319 3143,261 3131,360 3224,251 3224,239 3149,249 3127,247 3112,450 3123,464 3265,253 3222,246 3224,260 3140,349 3082,365 3119,367 3136,407 3091,353 3096,457 3229,269 3139,251 3241,234 3197,243 3179,248 3231,253 3146,373 3261,266 3130,452 3225,255 3105,317 3120,313 3179,255 3097,325 3104,389 3079,392 3106,277 3261,270 3228,209 3101,410 3086,370 3113,303 3222,248 3231,264 3192,263 3136,300 3138,425 3149,328 3144,297 3133,394 3196,271 3122,407 3243,283 3145,354 3186,254 3134,298 3232,225 3209,241 3143,289 3104,430 3101,397 3091,465 3259,261 3105,465 3222,210 3205,250 3110,317 3261,266 3243,287 3101,418 3235,278 3096,308 3155,237 3168,222 3227,282 3082,346 3120,424 3133,375 3223,221 3120,449 3231,279 3212,239 3162,242 3137,342 3218,215 3097,406 3115,293 3147,338 3148,408 3242,227 3224,255 3141,355 3105,334 3210,222 3171,216 3199,256 3220,272 3121,314 3196,251 3140,387 3148,332 3192,273 3092,444 3216,210 3099,387 3148,412 3081,398 3107,445 3134,285 3120,285 3098,348 3120,443 3100,307 3102,321 3218,259 3163,216 3115,476 3111,311 3090,359 3252,272 3144,331 3138,244 3092,306 3130,458 3174,255 3113,282 3171,254 3136,353 3115,299 3108,296 3083,371 3181,261 3167,214 3220,258 3229,249 3115,479 3169,249 3136,338 3145,320 3186,251 3136,386 3247,279 3096,318 3241,233 3107,288 3089,334 3134,460 3220,192 3130,237 3090,382 3100,365 3092,336 3093,372 3101,323 3094,378 3215,211"/>
<polyline class="s CC" points="3284,377 3309,573 3285,383 3301,388 3301,486 3291,364 3316,522 3279,429 3317,573 3301,560 3303,591 3284,356 3298,410 3316,510 3277,398 3285,339 3291,393 3259,291 3312,639 3320,513 3310,437 3299,554 3318,454 3304,523 3285,388 3322,591 3304,485 3323,550 3299,419 3303,470 3276,376 3302,544 3315,528 3291,351 3295,462 3260,296 3311,623 3257,285 3270,344 3316,445 3306,577 3307,491 3312,549 3273,355 3274,335 3268,308 3294,424 3290,299 3271,338 3269,303 3324,640 3288,417 3273,326 3288,458 3312,514 3296,479 3305,537 3307,491 3310,493 3270,337 3313,615 3292,301 3265,328 3293,446 3290,346 3286,352 3285,341 3268,322 3292,309 3316,522 3256,292 3323,587 3297,361 3316,634 3315,619 3291,442 3296,336 3299,547 3254,282 3304,438 3258,277 3324,453 3288,365 3309,565 3318,485 3295,429 3306,365 3281,385 3293,332 3309,600 3273,295 3320,541 3321,629 3296,386 3309,454 3284,340 3291,391 3305,419 3326,629 3280,346 3282,423 3326,457 3303,491 3311,433 3285,336 3304,429 3306,533 3310,483 3317,499 3319,591 3316,588 3277,398 3297,392 3303,488 3317,478 3285,340 3276,297 3282,328 3310,611 3318,586 3286,322 3292,326 3324,596 3297,437 3320,584 3308,588 3315,436 3323,556 3288,349 3276,301 3314,611 3283,315 3277,336 3301,551 3271,310 3301,488 3306,490 3316,617 3306,433 3312,562 3297,467 3312,420 3286,331 3292,465 3292,306 3305,490 3297,341 3296,443 3272,303 3278,296 3290,346 3322,614 3326,629 3284,350 3280,351 3299,335 3321,575 3305,528 3293,447 3299,401 3308,487 3326,614 3309,488 3282,333 3284,303 3300,514 3286,350 3276,351 3335,633 3287,307 3299,512 3316,537 3276,331 3312,503 3313,443 3253,281 3285,423 3296,452 3327,509 3297,309 3310,534 3308,563 3288,351 3314,631 3272,342 3313,477 3314,626 3313,481 3311,499 3300,519 3320,627 3325,504 3275,315 3300,439 3271,356 3305,418 3312,550 3320,618 3302,498 3278,319 3286,364 3313,622 3315,569 3305,460 3303,508 3317,583 3303,461 3316,470 3305,422 3306,433 3318,488 3280,394 3315,579 3299,396 3316,611 3299,546 3297,458 3285,371 3317,465 3290,339 3309,480 3279,415 3302,386 3310,567 3332,587 3306,484 3251,291 3284,395 3320,530 3320,507 3319,597 3291,375 3277,323 3305,508 3293,303 3282,417 3281,345 3266,312 3316,463 3247,284 3322,561 3312,556 3286,406 3304,635 3301,490 3272,304 3319,640 3312,581 3294,552 3336,631 3315,536 3302,560 3279,387 3329,551 3310,523 3312,609 3318,472 3307,505 3303,410 3299,485 3315,564 3295,343 3302,409 3317,450 3262,295 3271,325 3280,309 3313,498 3277,342 3302,450 3316,461 3316,546 3301,569 3271,349 3284,346 3295,382 3268,306 3276,362 3276,345 3273,320 3295,344 3323,535 3299,371 3320,594 3314,587 3291,321 3297,398 3287,355 3308,545 3317,636 3298,433 3308,442 3289,362 3273,289 3284,349 3268,301 3320,465 3290,316 3287,397 3290,328 3278,309 3308,577 3306,602 3329,591 3305,400 3280,301 3320,605 3303,488 3313,585 3299,558 3287,361 3308,455 3287,462 3255,299 3249,289 3270,333 3288,303 3263,288 3292,352 3321,623 3293,319 3265,302 3305,372 3269,343 3293,342 3260,279 3306,468 3310,413 3276,338 3291,400 3262,303 3282,327 3317,558 3314,534 3302,478 3266,333 3298,371 3284,320 3288,425 3303,547 3293,387 3303,577 3293,394 3272,333 3318,582 3301,502 3302,529 3276,310 3295,333 3262,312 3297,438 3288,319 3317,592 3280,304 3296,559 3305,468 3290,344 3300,479 3256,285 3330,606 3280,358 3282,428 3297,396 3309,614 3268,351 3304,531 3321,552 3266,286 3261,285 3277,328 3256,303 3327,624 3285,406 3293,440 3293,341 3304,458 3330,634 3269,349 3314,488 3305,407 3310,502 3317,453 3276,410 3285,429 3316,504 3281,301 3287,333 3329,639 3304,597 3300,376 3301,595 3335,628 3311,423 3247,284 3296,480 3285,311 3303,439"/>
<polyline class="s HSC" points="3119,518 3163,550 3085,885 3097,579 3103,539 3090,493 3067,794 3125,510 3154,539 3046,803 3119,550 3083,751 3063,874 3157,545 3049,788 3155,531 3057,832 3111,775 3161,594 3060,789 3067,869 3052,803 3102,745 3102,556 3095,641 3159,591 3129,544 3060,835 3124,510 3155,583 3089,591 3096,498 3117,704 3122,675 3124,565 3045,775 3136,573 3054,777 3105,642 3121,696 3114,696 3109,627 3084,869 3122,503 3166,570 3161,583 3136,554 3139,639 3135,522 3107,712 3134,556 3095,703 3091,725 3096,539 3138,652 3052,795 3161,532 3064,839 3082,753 3058,830 3119,595 3059,834 3092,881 3040,779 3161,539 3144,588 3080,879 3075,886 3127,737 3121,662 3100,575 3115,640 3100,719 3134,575 3121,528 3117,510 3162,554 3122,620 3116,768 3104,636 3088,878 3118,517 3092,502 3102,647 3114,714 3154,593 3114,588 3122,736 3099,524 3098,716 3139,542 3080,876 3068,777 3100,725 3122,536 3105,651 3117,684 3074,857 3139,553 3052,769 3101,676 3075,886 3063,791 3106,678 3112,558 3107,555 3109,695 3091,874 3094,728 3056,812 3107,673 3105,522 3116,764 3113,698 3106,700 3138,517 3097,722 3052,783 3140,560 3112,601 3163,601 3113,506 3112,741 3111,525 3049,769 3129,649 3127,517 3101,629 3111,705 3118,753 3089,711 3084,879 3111,577 3102,605 3115,541 3159,564 3129,556 3117,603 3155,591 3105,512 3095,750 3157,579 3066,802 3093,561 3054,772 3083,749 3104,681 3117,646 3093,761 3093,554 3100,490 3123,684 3164,525 3094,499 3134,526 3116,565 3152,579 3100,531 3129,560 3085,716 3161,565 3143,672 3088,879 3094,520 3131,569 3081,868 3106,583 3157,578 3163,562 3095,615 3118,759 3095,504 3100,554 3102,694 3101,495 3117,623 3086,519 3084,887 3109,711 3073,857 3123,592 3092,495 3138,675 3050,761 3116,659 3128,691 3096,770 3089,516 3117,606 3118,712 3111,533 3125,696 3117,667 3056,795 3134,688 3100,658 3117,765 3132,659 3134,555 3106,522 3126,566 3061,762 3096,598 3118,566 3122,642 3088,718 3055,829 3095,721 3122,628 3103,761 3165,619 3065,873 3121,675 3129,698 3057,831 3100,744 3140,538 3154,539 3106,510 3097,549 3166,557 3123,556 3129,716 3063,776 3120,502 3095,559 3108,765 3085,598 3115,628 3113,508 3114,501 3121,532 3069,875 3050,811 3120,736 3102,621 3112,728 3087,515 3130,681 3116,618 3091,546 3104,681 3109,614 3121,614 3104,720 3124,647 3166,617 3091,561 3133,682 3100,707 3167,564 3140,534 3157,566 3150,581 3064,840 3088,713 3120,610 3106,483 3128,732 3109,748 3109,565 3123,599 3079,872 3154,584 3097,711 3048,799 3134,563 3133,543 3087,556 3099,511 3115,530 3078,880 3162,604 3102,706 3120,691 3101,528 3098,482 3115,528 3092,591 3096,491 3100,623 3106,606 3162,590 3103,578 3127,613 3106,707 3125,498 3046,799 3108,692 3111,533 3104,695 3154,585 3118,699 3083,867 3074,872 3088,720 3116,589 3118,511 3090,892 3103,570 3127,718 3157,605 3077,877 3133,635 3109,767 3077,856 3072,878 3107,726 3131,557 3098,748 3160,611 3118,695 3085,891 3109,666 3110,768 3108,658 3126,697 3044,791 3097,875 3093,714 3141,533 3144,528 3104,729 3166,545 3126,673 3133,516 3127,686 3062,768 3114,720 3090,717 3068,786 3154,616 3110,661 3106,688 3157,559 3163,526 3102,640 3120,670 3152,573 3118,724 3127,703 3092,892 3134,543 3099,652 3106,528 3085,874 3126,673 3064,809 3077,745 3113,680 3062,786 3126,605 3096,875 3129,593 3156,590 3092,508 3112,518 3112,653 3102,533 3093,873 3138,695 3123,632 3123,712 3141,551 3105,689 3116,747 3117,672 3043,786 3078,744 3113,732 3164,580 3119,494 3116,573 3110,573 3129,633 3099,564 3120,545 3126,518 3087,507 3129,612 3118,614 3167,548 3129,723 3113,703 3130,554 3128,616 3105,773 3123,597 3060,783 3116,630 3061,795 3107,542 3103,625 3038,791 3103,611 3110,616 3091,707 3133,560 3076,745 3110,636 3121,717 3103,705 3100,489 3051,813 3092,586 3108,634 3170,536 3052,808 3163,581 3138,528 3096,709 3130,513 3108,755 3101,775 3124,612 3097,616 3101,496 3095,721 3104,750 3103,572 3091,722 3128,667 3097,598 3118,550 3116,703 3091,636 3118,575 3143,586 3134,556 3058,785 3100,516 3097,606 3154,608 3096,716 3161,600 3124,585 3099,634 3098,571 3094,590 3102,712 3129,631 3168,543 3121,707 3116,531 3163,555 3157,603 3122,545 3098,610 3116,593 3106,504 3112,756 3045,796 3158,618 3156,589 3060,761 3151,587 3117,580 3108,622 3100,653 3088,719 3118,580 3117,545 3104,546 3124,659 3162,611 3120,537 3131,554 3076,865 3079,886 3093,708 3111,594 3165,532 3135,568 3104,759 3139,693 3103,545 3122,628 3094,604 3058,809 3101,755 3158,574 3103,589 3113,577 3096,720 3114,497 3160,571 3125,710 3130,643 3133,688 3114,570 3131,514"/>
<polyline class="s ILC" points="2940,637 2963,500 2970,771 2909,735 2945,701 2971,695 2983,786 3007,861 2941,744 3016,857 2918,588 2989,603 2931,720 2977,794 2985,804 3025,854 2936,790 2925,813 2962,521 2997,768 2985,613 2913,726 3010,729 2885,633 2932,829 2874,653 2939,827 2976,766 2910,701 2970,695 2972,848 2888,689 2965,757 2975,595 2973,586 2985,801 2933,848 2961,648 3001,777 2989,768 2986,709 2929,818 2976,561 2929,770 2933,800 2951,742 2935,669 2974,556 2874,649 2931,688 3010,771 2940,858 2913,718 3010,850 2929,542 2958,865 3004,776 2982,551 2934,771 2961,653 2985,505 2966,511 2997,822 2974,559 2973,532 2941,692 2976,776 2973,605 2882,620 2949,757 2947,870 2889,662 2963,834 2904,698 2984,565 2990,561 2917,824 3006,831 2880,668 3020,784 2980,516 2894,679 3004,856 2972,663 2999,837 2973,803 2984,510 2983,559 3000,846 2989,813 2982,757 2945,873 2980,507 2994,799 2937,727 2995,770 2970,592 2972,499 2935,643 2947,686 2999,839 3003,826 2953,634 2939,706 2943,867 3006,736 2889,698 2922,721 2926,847 2935,625 2946,735 2995,592 2964,860 3016,826 2985,585 2980,535 2973,533 2947,846 2919,607 2933,687 2888,593 3000,845 2923,769 2942,873 3005,768 2977,760 2963,498 3005,723 2953,854 2930,538 2985,573 2968,516 2984,650 2926,842 2970,505 2988,777 2890,709 2903,622 2962,516 2970,703 2924,773 3033,861 2983,787 3004,760 2985,534 2956,760 2908,683 2897,701 2948,832 2922,629 2963,645 3020,724 2969,804 2975,536 2977,634 2947,748 2905,731 3022,871 2991,588 2961,652 2982,544 2964,664 2962,504 2882,592 2926,807 2885,679 2969,649 2999,600 2958,506 2973,515 2928,782 2887,660 2982,576 3002,796 3027,794 2898,716 2973,783 2903,657 2885,643 2985,508 2913,824 2997,795 2963,667 2985,649 2970,843 2922,821 2901,707 2906,723 2971,831 3000,833 2916,784 2891,624 2966,777 3009,717 2982,510 2974,515 3025,854 2934,818 2936,678 2955,658 2961,760 2974,696 2920,583 2921,798 2978,634 2982,775 2899,690 2980,726 3012,845 2925,790 2985,722 2936,794 2964,772 2921,768 2941,873 2895,619 2985,562 2925,640 2928,810 2929,838 3029,868 2897,636 2978,636 2957,652 2928,537 2965,695 2977,601 2967,666 3007,819 2973,687 2990,756 2973,528 2959,512 2890,607 3019,780 2949,860 2966,550 2925,765 2997,613 2983,651 2915,605 2930,709 2975,569 2938,839 2976,542 2919,801 2908,717 3023,868 2894,604 3028,850 3008,849 2894,657 3014,726 2887,670 2987,758 2903,720 2971,669 3021,865 2923,787 2972,518 3016,797 2919,811 2985,650 2993,600 2991,806 2871,659 2969,505 2909,586 2974,499 2980,725 2974,522 2979,591 2981,559 2944,841 2900,667 2933,787 2893,590 2967,704 2901,727 2967,499 2936,855 3028,788 2973,581 2946,683 2982,794 2966,857 2953,636 2943,704 2973,511 2919,776 2975,844 2909,693 3033,879 2888,702 2896,630 3014,824 3010,858 2964,657 2945,824 2971,837 3024,859 3011,839 2908,797 2957,664 3005,721 2897,641 2979,800 2922,826 3030,872 2974,679 3021,871 2927,727 3025,875 2916,719 2883,626 2880,677 2945,704 2933,703 2937,844 2926,721 2949,841 3018,868 2974,504 3014,784 2906,698 2971,491 2911,728 2974,576 2933,805 3034,784 2986,559 2999,818 2968,674 2975,507 2958,646 2915,703 2892,683 2904,685 2970,689 2990,716 2979,775 3021,855 2985,608 2976,547 2956,506 2889,660 2932,775 3012,856 2891,643 2991,820 3005,800 2984,713 2935,771 3025,800 2933,727 2994,783 3039,795 2919,577 2946,863 3023,852 2927,539 2907,799 2980,586 2926,758 2979,549 2988,764 2954,855 2916,845 2989,742 2964,870 2955,647 2967,745 2979,588 2969,773 2918,836 3002,836 2970,850 2966,515 2961,857 2944,820 2976,526 3007,727 2926,802 2920,848 2973,532 2972,551 2973,537 2963,846 3017,778 2990,728 2968,666 2967,796 2898,731 2970,500 3025,859 3025,861 2913,795 3008,825 3004,842 2938,696 2907,691 2982,605 2947,757 2895,704 2986,541 2987,534 2972,788 2993,789 2968,535 2982,689 3001,810 2971,834 2968,598 2915,767 3033,792 3002,824 3002,736 3010,826 2992,720 2962,638 2967,499 3032,794 2976,567 2995,728 2928,808 2922,715 2888,616 2978,529 2984,580 2942,688 2930,629 3001,582 3012,723 2965,747 2911,794 2926,848 2982,578 2972,545 2948,868 2993,617 2931,546 2902,632 2885,673 2925,830 2886,702 2901,661 2945,645 2975,840 2977,534 2977,601 2970,758 2937,780 3029,851 2918,829 2929,731 2913,711 2965,860 2956,738 2921,815 2925,633 2939,785 2940,669 2895,652 2967,528 2908,607 2882,604 3008,773 2919,816 2974,773 2968,644 2978,704 2965,699 3014,717 2972,551 2965,543 2984,551 2984,568 2901,735 2958,873 2965,808 2979,632 2986,708 2912,591 2984,548 2987,574 2982,554 2877,668 2902,712 2974,841 3009,810 2942,675 3016,843 2978,527 3019,792 2999,584 2976,526 3018,840 2979,632 2918,596 2944,731 2947,707 2949,635 2962,749 3005,732 2929,783 2965,830 2966,785 2935,677 2967,688 2967,692 2962,858 2972,518 2965,679 2905,621 2968,495 3034,860 2968,676 2912,803 2958,510 2971,769 2924,809 2985,700 2894,710 2999,780 3028,862 2982,497 2947,638 2971,494 2969,868 3004,722 2967,524 2886,652 2987,693 2964,795 3000,807 2967,513 2904,629 2979,513 3024,849 2980,540 3001,811 2944,879 3023,864 3030,860 2986,738 2893,670 2934,761 3011,760 2911,685 2971,658 2971,538 2924,770 2983,555 2897,653 3004,781 3002,726 2909,606 2926,715 2894,588 2882,698 2920,837 3005,804 2896,665 2980,510 2925,764 2995,609 3007,801 2894,596 2979,564 2994,785 2889,601 3026,781 2986,600 2984,497 2972,571 2932,715 2889,639 3028,866 2966,659 2889,698 2977,767 2900,631 2983,814 3040,786 2902,652 2937,699 2898,674 3014,854 2960,856 2901,638 2973,712 2931,544 2959,756 3013,861 3005,831 2936,805 2974,530 2898,598 2955,666 2991,718 2981,718 2996,763 2907,712 2947,858 2995,844 2908,623 2977,500 2984,650 2913,787 2942,675 2971,850 2995,739 2986,770 2890,676 2963,672 2929,712 2986,550 3003,761 3012,781 2999,769 2950,646 2979,530 2963,507 2931,772 2928,537 2936,630 2973,565 2959,758 2933,842 2963,682 2892,633 2954,649 2946,850 2984,608 2962,866 2961,867 2999,583 3001,820 2940,694 2968,797 3014,852 2989,812 2928,824 2921,767 2985,692 2912,600 2972,702 2892,701 3035,781 2999,721 2883,606 2976,493 2961,804 2962,766 2894,643 2927,713 3003,584 2993,776 2929,843 2989,549 3006,856 2994,771 2986,734 2928,537 2991,760 2982,695 2880,647 2914,709 2915,787 2931,796 2968,557 2925,799 2892,715 2977,538 2957,639 2999,801 2987,578 2893,629 2977,704 2979,729 2961,876 3010,832 2881,642 2982,563 3007,788 2967,806 2902,650 2894,694 2930,852 2974,581 2894,662 2882,599 2931,645 2921,761 2916,698 2997,795 3004,814 3034,792 2944,633 2987,718 2943,848 2929,634 2887,663 2919,812 2917,722 2938,735 2991,758 2980,538 2887,625 2928,536 2951,873 2984,727 3016,836 2925,795 2969,680 2993,816 2932,817 2966,755 2901,704 2977,783 2932,635 3036,881 2989,583 2930,759 2940,858 2970,780 3025,855 2980,502 2925,806 2969,765 2980,606 2957,866 2996,740 2986,818 2942,739 2915,810 3000,784 2935,691 2994,588 2972,774 2900,680 2914,576 2896,705 2962,659 2978,516 2936,648 2973,510 2887,648 2915,595 2887,609 2971,758 3029,866 2926,841 3001,609 2894,703 2943,834 2898,658 2959,871 2974,851 2979,634 3023,875 2929,545 2881,594 2999,814 2927,537 3035,853 3013,865 2990,741 3034,872 2977,517 2953,642 2933,633 2997,791 2928,815 2925,535 2943,836 2955,751 2980,501 2960,495 2978,496 3041,877 2877,658 2911,766 2972,796 2980,544 2944,644 2893,649 2946,703 2936,732"/>
<path d="M2678 932.6v-19.6M2939 932.6v-19.6M3200.6 932.6v-19.6M2498.1 79.7h23.9M2498.1 280.7h23.9M2498.1 481.7h23.9M2498.1 682.7h23.9M2498.1 883.2h23.9" stroke="#1a1a1a" stroke-width="5.8" fill="none"/>
<rect x="2498.1" y="32.8" width="868.9" height="904.1" fill="none" stroke="#1a1a1a" stroke-width="5.8"/>
<g font-size="62.5" text-anchor="middle">
<text x="2681" y="997">−50</text>
<text x="2941" y="997">0</text>
<text x="3202.6" y="997">50</text>
</g>
<g font-size="62.5" text-anchor="end">
<text x="2476.1" y="98.9">40</text>
<text x="2476.1" y="299.9">20</text>
<text x="2476.1" y="500.9">0</text>
<text x="2476.1" y="701.9">−20</text>
<text x="2476.1" y="902.4">−40</text>
</g>
<text class="ax" x="2940.8" y="1063" text-anchor="middle">分量<tspan class="d">1</tspan></text>
<text class="ay" transform="translate(2381 477.8) rotate(-90)" text-anchor="middle">分量<tspan class="dy">2</tspan></text>
<text x="2944.2" y="1127.5" font-size="62.5" text-anchor="middle">(c) DANN</text>
</g>
<g id="panel-d">
<polyline class="s OLC" points="1023,1362 1053,1367 1044,1377 1065,1300 992,1395 972,1336 1049,1309 1010,1379 1032,1387 1104,1342 1129,1320 996,1344 1012,1337 1084,1294 996,1321 1071,1385 1031,1389 1094,1288 1117,1311 1082,1276 1046,1370 1020,1398 1039,1403 1124,1335 1111,1320 1037,1322 1073,1364 1045,1363 1095,1363 1039,1373 1092,1355 985,1337 1100,1361 1081,1331 1082,1353 1009,1395 1039,1310 1013,1409 1087,1377 1008,1395 988,1337 1066,1355 1069,1373 1117,1318 1108,1323 1006,1335 1039,1317 1077,1353 1079,1276 1061,1285 1142,1327 1067,1356 1024,1382 1093,1277 1134,1340 1065,1348 1106,1327 1090,1336 1072,1321 1009,1320 1128,1342 1044,1395 1040,1303 1044,1333 1086,1290 1036,1392 1011,1398 1039,1364 1050,1392 995,1408 1032,1395 1111,1336 980,1352 1073,1386 1026,1395 1039,1333 1025,1391 1064,1378 1125,1330 1004,1396 1012,1339 1089,1300 1033,1400 1034,1357 1076,1369 995,1326 1010,1331 983,1358 1091,1298 1125,1347 1003,1322 1086,1276 1052,1368 1077,1301 1023,1388 1032,1383 1067,1352 1038,1304 1078,1358 1136,1335 1067,1287 1049,1323 1142,1325 1040,1311 1119,1333 1038,1311 1083,1297 1017,1378 1001,1401 978,1340 1076,1329 1082,1329 964,1352 970,1345 1022,1376 1125,1317 1127,1322 1052,1331 1036,1391 1079,1345 1046,1364 1129,1332 1019,1403 1129,1314 1103,1322 989,1330 1010,1403 1069,1278 1047,1303 991,1344 1065,1315 1003,1322 1003,1342 1078,1376 995,1351 1029,1373 986,1397 1066,1354 1051,1332 1047,1311 1080,1324 971,1351 1069,1281 1052,1356 1067,1387 1086,1370 1104,1318 962,1351 1125,1311 1072,1350 1002,1332 1045,1325 1136,1325 1105,1329 1111,1329 1071,1273 1066,1273 1044,1397 1027,1403 1073,1296 1126,1310 987,1355 1050,1394 1064,1277 1068,1381 1028,1357 985,1398 1030,1404 1031,1381 1113,1329 994,1335 995,1344 1137,1324 1078,1305 1124,1348 1143,1317 1034,1377 1119,1316 1008,1390 1103,1335 1038,1395 1086,1359 1092,1282 1021,1407 1082,1299 993,1389 1134,1314 1043,1393 1018,1385 1050,1374 1003,1401 1041,1386 970,1356 1085,1335 1082,1324 993,1348 1105,1325 1109,1316 985,1346 983,1364 1086,1351 1017,1357 991,1358 977,1359 1033,1365 1015,1374 971,1346 1072,1273 1009,1377 1063,1370 1003,1408 1097,1366 1137,1319 1066,1326 1013,1384 1141,1322 1108,1340 1088,1303 1066,1291 1008,1382 1068,1269 1091,1360 1012,1404 1118,1306 980,1334 1105,1320 1069,1289 1085,1377 1076,1355 977,1355 1036,1310 1028,1352 997,1332 1110,1314 1007,1381 1040,1332 1080,1379 1088,1366 1096,1365 1076,1322 1019,1370 1070,1319 1022,1380 1063,1363 1078,1295 1077,1374 1080,1285 1048,1322 1051,1362 983,1358 1088,1282 1071,1325 1004,1332 1114,1324 979,1334 1080,1340 1043,1378 1012,1326 999,1389 1124,1334 985,1341 1038,1396 971,1354 1075,1369 1062,1375 1045,1317 1112,1308 1047,1387 1078,1334 1089,1373 992,1404 1085,1305 993,1405 994,1399 1030,1372 1004,1389 1037,1312 1113,1314 996,1334 1040,1364"/>
<polyline class="s ESW" points="1172,1555 1122,1543 1213,1603 1170,1591 1168,1589 1204,1483 1224,1570 1181,1561 1176,1549 1186,1499 1200,1592 1119,1528 1177,1616 1163,1501 1212,1437 1203,1603 1168,1558 1165,1519 1129,1523 1199,1540 1197,1623 1120,1524 1164,1576 1175,1579 1222,1563 1189,1550 1210,1596 1248,1549 1168,1587 1218,1576 1133,1517 1139,1514 1204,1522 1197,1494 1172,1502 1129,1538 1207,1518 1117,1537 1164,1573 1168,1599 1175,1500 1180,1603 1251,1576 1112,1535 1180,1539 1232,1574 1162,1523 1170,1611 1227,1540 1120,1541 1208,1451 1148,1508 1187,1500 1217,1475 1199,1519 1130,1521 1181,1628 1247,1476 1126,1534 1214,1479 1180,1509 1183,1628 1224,1614 1189,1617 1155,1498 1211,1574 1147,1516 1124,1520 1199,1595 1173,1580 1182,1499 1237,1547 1244,1600 1196,1547 1207,1525 1213,1464 1156,1595 1173,1589 1115,1523 1239,1545 1210,1462 1234,1544 1190,1490 1219,1482 1228,1467 1237,1615 1211,1633 1189,1553 1205,1583 1223,1457 1190,1637 1168,1555 1237,1582 1236,1537 1187,1621 1191,1614 1115,1531 1153,1516 1164,1563 1206,1584 1197,1514 1183,1567 1142,1525 1198,1637 1190,1538 1198,1602 1148,1528 1165,1513 1176,1556 1196,1630 1199,1489 1200,1502 1204,1597 1146,1522 1154,1508 1147,1504 1233,1571 1223,1590 1210,1467 1111,1521 1187,1634 1169,1616 1200,1611 1241,1578 1222,1590 1175,1598 1240,1470 1209,1451 1125,1550 1232,1467 1117,1530 1238,1552 1202,1585 1197,1597 1166,1570 1219,1571 1197,1537 1126,1548 1184,1510 1211,1438 1175,1568 1118,1529 1214,1511 1153,1496 1191,1637 1166,1581 1144,1520 1220,1472 1123,1523 1197,1604 1160,1602 1195,1480 1237,1598 1243,1542 1241,1478 1223,1443 1182,1623 1219,1441 1195,1500 1232,1581 1208,1627 1234,1545 1217,1445 1182,1553 1232,1616 1158,1505 1201,1480 1164,1593 1191,1628 1257,1573 1111,1535 1222,1444 1228,1618 1118,1517 1229,1572 1116,1541 1245,1587 1243,1548 1243,1582 1204,1591 1213,1579 1203,1623 1112,1531 1222,1585 1169,1498 1209,1598 1219,1471 1175,1499 1174,1615 1236,1582 1204,1599 1122,1539 1160,1595 1229,1548 1166,1521 1152,1516 1226,1439 1222,1571 1210,1610 1211,1585 1220,1476 1245,1538 1210,1471 1199,1629 1227,1562 1229,1567 1199,1624 1182,1492 1214,1594 1224,1599 1118,1524 1152,1520 1189,1530 1192,1540 1189,1487 1194,1505 1232,1608 1200,1622 1179,1506 1178,1511 1117,1543 1217,1455 1138,1510 1203,1587 1225,1559 1207,1511 1214,1585 1133,1517 1197,1493 1193,1499 1202,1629 1196,1542 1233,1615 1109,1540 1225,1577 1194,1537 1118,1551 1175,1572 1119,1549 1217,1450 1190,1628 1168,1552 1189,1496 1123,1538 1217,1617 1185,1487 1210,1621 1197,1498 1121,1528 1212,1522 1142,1526 1180,1546 1175,1560 1226,1564 1225,1542 1163,1525 1185,1547 1163,1604 1216,1513 1173,1516 1226,1551 1229,1443 1229,1578 1239,1603 1214,1464 1187,1558 1161,1572 1164,1615 1229,1465 1193,1621 1132,1528 1192,1501 1228,1471 1189,1535 1195,1511 1136,1535 1236,1471 1129,1539 1252,1479 1203,1489 1208,1462 1223,1567 1219,1477 1209,1482 1203,1485 1214,1453 1212,1465 1237,1592 1183,1507 1124,1547 1107,1533 1199,1628 1227,1561 1182,1540 1215,1456 1240,1598 1225,1562 1178,1605 1251,1477 1191,1604 1255,1474 1163,1565 1178,1622 1203,1497 1169,1606 1204,1617 1209,1605 1204,1518 1233,1461 1227,1450 1211,1459 1161,1516 1194,1532 1198,1618 1208,1576 1193,1504 1205,1607 1158,1516 1224,1453 1220,1436 1211,1469 1207,1525 1215,1441 1233,1594 1170,1513 1248,1548 1204,1474 1217,1473 1234,1460 1174,1516 1193,1603 1228,1572 1231,1568 1189,1633 1176,1612 1183,1544 1209,1581 1209,1582 1134,1523 1189,1563 1237,1542 1208,1632 1172,1501 1237,1475 1201,1513 1252,1583 1113,1530 1139,1523 1204,1632 1233,1588 1182,1612 1232,1612 1210,1616 1225,1461 1118,1535 1256,1578 1240,1471 1215,1444 1253,1575 1194,1616 1208,1590 1239,1589 1213,1451 1175,1502 1200,1479 1226,1538 1132,1534 1222,1471 1204,1451 1234,1596 1215,1485 1173,1608 1252,1587 1228,1569 1196,1626 1167,1606 1205,1452 1231,1456 1207,1518 1212,1491 1204,1519 1230,1536 1126,1542 1226,1586"/>
<polyline class="s IHW" points="1294,1464 1342,1517 1312,1614 1328,1567 1318,1484 1377,1574 1291,1454 1329,1427 1307,1434 1292,1578 1302,1421 1313,1592 1318,1583 1359,1586 1377,1615 1327,1480 1364,1534 1331,1610 1338,1580 1382,1622 1339,1586 1271,1434 1351,1641 1333,1515 1345,1516 1352,1640 1373,1610 1329,1461 1284,1436 1282,1459 1339,1424 1289,1445 1298,1597 1334,1633 1378,1586 1323,1471 1341,1454 1333,1593 1258,1557 1367,1550 1356,1517 1312,1413 1283,1479 1353,1585 1313,1575 1297,1421 1302,1478 1333,1627 1308,1471 1379,1606 1295,1570 1352,1466 1300,1489 1345,1590 1259,1556 1294,1613 1305,1571 1332,1477 1346,1461 1281,1459 1298,1602 1322,1422 1342,1443 1359,1457 1377,1590 1309,1475 1384,1625 1330,1639 1332,1605 1372,1560 1298,1590 1356,1538 1379,1551 1298,1560 1381,1592 1349,1445 1274,1528 1345,1639 1293,1484 1347,1591 1312,1478 1293,1426 1381,1581 1272,1458 1355,1642 1360,1634 1312,1629 1331,1487 1291,1477 1337,1455 1369,1630 1338,1464 1369,1538 1338,1530 1353,1580 1277,1455 1276,1434 1281,1462 1346,1634 1315,1476 1264,1447 1316,1601 1301,1436 1299,1415 1345,1438 1384,1576 1364,1526 1310,1421 1268,1443 1284,1427 1332,1519 1378,1627 1369,1551 1319,1486 1309,1473 1339,1633 1283,1445 1383,1587 1289,1441 1287,1473 1337,1422 1320,1635 1304,1428 1387,1548 1296,1611 1347,1457 1341,1481 1359,1456 1344,1461 1380,1545 1341,1592 1335,1641 1279,1443 1327,1591 1311,1414 1328,1520 1288,1451 1313,1628 1285,1418 1330,1622 1308,1578 1381,1575 1312,1439 1329,1599 1336,1526 1266,1459 1278,1448 1284,1572 1322,1477 1286,1462 1333,1455 1342,1462 1335,1592 1275,1570 1304,1599 1312,1569 1333,1595 1335,1437 1388,1562 1285,1434 1370,1601 1328,1440 1308,1604 1382,1547 1306,1424 1365,1525 1290,1452 1365,1637 1338,1435 1325,1472 1315,1481 1285,1454 1304,1432 1267,1453 1372,1559 1385,1593 1342,1422 1311,1620 1284,1460 1382,1606 1339,1638 1303,1480 1337,1477 1382,1568 1332,1431 1331,1522 1333,1426 1369,1627 1355,1434 1355,1598 1294,1440 1326,1623 1278,1443 1267,1562 1330,1438 1327,1587 1322,1426 1275,1530 1367,1589 1374,1603 1387,1581 1296,1584 1386,1620 1295,1479 1292,1468 1317,1596 1322,1422 1317,1484 1356,1528 1328,1416 1333,1482 1375,1610 1354,1597 1313,1474 1359,1587 1381,1560 1270,1451 1299,1579 1298,1578 1299,1439 1331,1641 1343,1579 1325,1628 1275,1475 1314,1560 1378,1607 1320,1574 1296,1417 1340,1468 1310,1608 1320,1430 1275,1453 1356,1462 1323,1613 1373,1589 1307,1616 1304,1485 1376,1628 1328,1474 1364,1610 1308,1434 1269,1563 1322,1623 1325,1491 1362,1632 1290,1470 1340,1429 1302,1574 1358,1533 1310,1488 1277,1480 1349,1531 1338,1624 1341,1643 1378,1539 1348,1475 1317,1422 1382,1606 1342,1571 1331,1571 1336,1522 1340,1515 1306,1615 1305,1582 1385,1612 1342,1448 1266,1446 1326,1611 1298,1461 1312,1627 1366,1611 1310,1602 1352,1519 1294,1464 1325,1569 1375,1553 1298,1483 1307,1481 1311,1589 1326,1432 1334,1466 1289,1429 1346,1466 1333,1419 1362,1543 1318,1613 1366,1631 1346,1522 1355,1636 1291,1429 1270,1458 1376,1627 1304,1592 1334,1592 1310,1582 1345,1450 1351,1636 1291,1456 1306,1567 1324,1572 1263,1447 1378,1622 1281,1483 1307,1591 1335,1445 1345,1430 1312,1580 1334,1585 1303,1484 1261,1450 1296,1477 1327,1620 1375,1626 1391,1561 1295,1434 1313,1610 1340,1601 1318,1581 1280,1438 1349,1520 1324,1605 1328,1566 1378,1562 1284,1472 1306,1479 1354,1449 1373,1535 1374,1597 1343,1468 1290,1446 1367,1544 1310,1600 1308,1598 1285,1573 1297,1625 1323,1432 1334,1461 1317,1471 1328,1618 1315,1467 1385,1570 1380,1607 1323,1641 1336,1522 1355,1590 1343,1472 1276,1569 1310,1482 1316,1604 1332,1462 1324,1595 1325,1599 1302,1426 1330,1414 1284,1456 1332,1637 1372,1546 1370,1580 1283,1484 1292,1579 1293,1595 1298,1623 1338,1448 1345,1597 1319,1434 1349,1645 1297,1436 1356,1522 1314,1425 1292,1442 1281,1430 1377,1611 1323,1521 1358,1458 1348,1438 1380,1629 1318,1613 1306,1416 1325,1628 1298,1465 1350,1432 1372,1582 1332,1527 1348,1578 1338,1648 1304,1475 1385,1556 1279,1465 1295,1485 1315,1432 1305,1467 1358,1595 1375,1566 1325,1520 1361,1454 1307,1560 1345,1464 1305,1489 1369,1609 1307,1577 1286,1440 1368,1623 1381,1616 1281,1470 1314,1559 1289,1449 1342,1643 1385,1583 1306,1596 1274,1450 1322,1563 1360,1634 1303,1419 1333,1649 1335,1514 1392,1569 1311,1615 1375,1605 1274,1529 1305,1611 1326,1601 1320,1414 1329,1518 1299,1613 1268,1561 1381,1594 1369,1555 1375,1541 1288,1432 1381,1541 1324,1522 1346,1456 1336,1623 1310,1470 1330,1467 1312,1628 1324,1477 1382,1548 1383,1604 1319,1467 1340,1571 1372,1637 1293,1420 1327,1525 1324,1602 1348,1536 1292,1585 1373,1619 1327,1438 1360,1526 1328,1636 1308,1582 1281,1451 1332,1572 1298,1474 1348,1454 1301,1605 1336,1474 1298,1463 1392,1559 1351,1522 1284,1574 1330,1577 1299,1569 1290,1603 1369,1595 1320,1465 1348,1524 1343,1439 1334,1573 1384,1617 1354,1436 1306,1572 1310,1623 1381,1599 1376,1593 1283,1442 1344,1587 1318,1567 1357,1639 1276,1569"/>
<polyline class="s HY" points="1235,1711 1235,1733 1265,1765 1219,1759 1290,1728 1221,1756 1298,1722 1258,1701 1247,1712 1213,1634 1294,1734 1223,1633 1216,1732 1224,1740 1228,1761 1260,1707 1281,1744 1283,1702 1261,1719 1232,1713 1250,1773 1266,1751 1329,1649 1264,1755 1328,1650 1245,1722 1297,1630 1243,1772 1322,1649 1271,1753 1252,1723 1263,1752 1276,1700 1275,1718 1262,1770 1304,1726 1281,1702 1271,1634 1228,1719 1217,1752 1280,1731 1235,1730 1246,1699 1212,1741 1230,1732 1263,1638 1227,1732 1276,1648 1232,1634 1283,1728 1209,1641 1290,1722 1303,1728 1276,1655 1214,1740 1270,1633 1266,1704 1216,1647 1287,1706 1301,1718 1236,1768 1215,1747 1221,1756 1274,1653 1279,1731 1255,1701 1225,1753 1222,1728 1282,1736 1275,1655 1265,1764 1284,1641 1300,1749 1229,1737 1258,1714 1265,1715 1273,1701 1283,1763 1228,1746 1215,1646 1283,1641 1285,1723 1276,1716 1296,1632 1202,1636 1290,1635 1322,1649 1230,1707 1296,1743 1243,1715 1321,1647 1261,1637 1227,1724 1237,1698 1238,1741 1253,1760 1283,1707 1201,1637 1296,1751 1240,1716 1278,1650 1276,1619 1292,1735 1287,1746 1218,1743 1234,1763 1269,1759 1279,1708 1343,1639 1283,1732 1275,1762 1264,1775 1290,1762 1274,1620 1236,1761 1259,1756 1281,1713 1286,1749 1277,1649 1247,1765 1240,1723 1299,1730 1217,1646 1241,1711 1236,1721 1211,1728 1230,1635 1301,1638 1241,1750 1221,1748 1285,1742 1293,1633 1341,1641 1235,1699 1242,1763 1250,1634 1260,1749 1219,1744 1284,1721 1259,1762 1290,1752 1254,1714 1285,1768 1237,1703 1247,1699 1215,1752 1284,1627 1277,1740 1214,1717 1259,1705 1213,1636 1253,1698 1276,1698 1235,1744 1249,1721 1296,1631 1254,1722 1218,1674 1287,1726 1246,1708 1237,1749 1219,1781 1291,1733 1233,1717 1260,1761 1265,1748 1210,1641 1241,1750 1245,1714 1283,1627 1209,1641 1329,1648 1212,1781 1220,1735 1296,1727 1234,1742 1225,1727 1274,1712 1251,1708 1232,1741 1285,1737 1271,1716 1234,1766 1287,1744 1275,1699 1232,1723 1265,1699 1250,1707 1286,1752 1259,1700 1270,1635 1237,1731 1213,1777 1308,1638 1341,1640 1243,1746 1218,1749 1290,1732 1312,1627 1200,1637 1258,1761 1255,1704 1227,1746 1219,1674 1256,1775 1255,1751 1223,1712 1302,1637 1218,1713 1213,1779 1296,1733 1221,1781 1231,1721 1269,1722 1293,1632 1273,1654 1291,1730 1267,1757 1241,1759 1249,1704 1235,1739 1271,1748 1224,1736 1269,1701 1256,1755 1248,1756 1249,1635 1297,1725 1299,1717 1301,1639 1283,1728 1254,1768 1257,1750 1269,1767 1291,1715 1278,1738 1273,1758 1232,1751 1235,1675 1266,1715 1278,1736 1249,1759 1255,1721 1294,1729 1241,1711 1286,1759 1231,1752 1264,1719 1213,1726 1271,1758 1274,1745 1312,1625 1249,1714 1280,1701 1215,1634 1283,1753 1273,1725 1236,1735 1273,1771 1291,1757 1277,1766 1274,1756 1235,1676 1233,1706 1263,1752 1231,1704 1290,1707 1282,1715 1307,1636 1288,1739 1215,1725 1230,1636 1235,1747 1236,1724 1272,1721 1248,1751 1283,1716 1277,1726 1294,1630 1231,1731 1230,1763 1217,1722 1247,1768 1281,1722 1278,1752 1225,1633 1277,1656 1284,1625 1289,1764"/>
<polyline class="s CC" points="1329,1816 1287,1826 1328,1902 1308,1901 1296,1864 1244,1839 1325,1914 1306,1895 1296,1832 1271,1802 1295,1842 1312,1822 1252,1867 1251,1815 1314,1888 1313,1804 1271,1895 1256,1827 1268,1831 1290,1835 1298,1865 1274,1901 1300,1814 1327,1890 1301,1877 1249,1814 1321,1794 1283,1893 1318,1946 1273,1815 1244,1856 1353,1783 1331,1796 1243,1858 1302,1793 1325,1823 1268,1810 1334,1807 1346,1865 1304,1894 1311,1796 1269,1840 1341,1823 1334,1833 1332,1793 1298,1862 1287,1806 1320,1806 1306,1912 1338,1803 1291,1853 1301,1801 1303,1787 1337,1811 1319,1826 1286,1898 1296,1850 1324,1856 1284,1858 1305,1817 1247,1849 1327,1789 1302,1787 1289,1924 1344,1789 1328,1809 1327,1912 1337,1833 1278,1898 1341,1817 1301,1853 1299,1869 1282,1861 1325,1933 1267,1828 1336,1782 1270,1893 1245,1796 1288,1836 1315,1887 1249,1895 1327,1903 1306,1868 1344,1865 1256,1899 1292,1829 1331,1787 1336,1838 1321,1941 1355,1844 1318,1804 1269,1811 1325,1798 1268,1898 1281,1840 1289,1818 1293,1830 1344,1803 1276,1899 1283,1893 1328,1891 1324,1811 1320,1817 1334,1818 1320,1939 1326,1808 1333,1817 1244,1805 1242,1838 1279,1809 1325,1830 1337,1845 1295,1793 1301,1793 1283,1891 1316,1873 1261,1900 1261,1902 1330,1810 1270,1844 1279,1842 1275,1853 1318,1859 1286,1868 1347,1779 1316,1797 1322,1787 1318,1947 1333,1843 1287,1899 1222,1898 1353,1844 1245,1795 1348,1785 1254,1899 1315,1866 1321,1941 1310,1858 1268,1894 1299,1805 1327,1893 1304,1798 1279,1825 1307,1870 1303,1808 1292,1920 1292,1870 1328,1913 1318,1819 1312,1901 1256,1900 1246,1794 1321,1817 1302,1823 1307,1864 1329,1819 1245,1805 1305,1904 1282,1820 1334,1822 1306,1872 1266,1897 1245,1838 1267,1831 1326,1829 1328,1855 1313,1861 1309,1794 1317,1875 1317,1820 1309,1829 1320,1949 1344,1813 1332,1861 1326,1933 1292,1847 1249,1866 1287,1833 1283,1812 1338,1809 1327,1820 1313,1791 1276,1813 1250,1893 1290,1921 1341,1785 1318,1812 1346,1865 1242,1837 1284,1854 1286,1897 1303,1932 1244,1804 1249,1813 1258,1828 1331,1848 1285,1896 1348,1798 1246,1848 1277,1843 1244,1858 1250,1865 1289,1809 1279,1816 1292,1860 1299,1830 1293,1873 1326,1902 1305,1903 1346,1794 1310,1902 1305,1857 1330,1867 1340,1808 1309,1788 1298,1871 1324,1803 1294,1804 1300,1824 1327,1892 1329,1856 1329,1890 1343,1798 1245,1856 1277,1852 1271,1848 1307,1810 1273,1835 1325,1869 1347,1787 1261,1903 1274,1835 1326,1868 1341,1779 1223,1897 1343,1804 1310,1902 1270,1804 1297,1817 1321,1873 1284,1848 1337,1822 1245,1847 1330,1866 1317,1825 1293,1925 1314,1855 1295,1875 1295,1926 1244,1794 1341,1794 1263,1900 1304,1821 1252,1863 1338,1830 1331,1802 1281,1830 1335,1840 1305,1905 1355,1782 1305,1893 1305,1914 1296,1857 1301,1930 1287,1812 1317,1812 1321,1789 1300,1850 1284,1897 1321,1869 1327,1931 1304,1913 1274,1823 1349,1797 1337,1802 1335,1796 1315,1824 1313,1866 1339,1827"/>
<polyline class="s ILW" points="1214,2064 1247,1934 1292,1973 1214,2060 1248,1945 1220,2072 1194,2022 1241,2054 1231,2072 1266,2048 1305,1962 1181,1990 1202,2028 1273,2058 1248,1940 1176,1941 1305,1962 1159,1904 1292,2000 1280,1953 1218,1923 1165,1989 1254,2042 1220,2075 1255,2033 1236,2037 1204,2038 1211,2064 1261,2059 1214,2048 1302,1976 1218,1934 1194,2017 1307,1969 1291,2009 1182,1991 1192,1933 1292,2002 1194,1910 1175,1973 1289,1959 1289,1964 1211,2052 1225,2054 1219,2045 1215,2024 1241,2051 1204,2054 1205,2043 1198,1932 1221,1943 1202,1953 1240,2078 1260,2069 1244,2061 1202,2017 1198,2016 1218,1907 1204,1945 1219,2051 1175,1986 1246,2067 1288,2020 1194,1938 1203,2055 1172,1980 1225,1925 1293,2001 1228,2049 1239,2073 1264,2027 1282,1943 1234,2049 1198,1958 1259,1947 1242,2064 1205,1941 1254,2051 1266,1952 1212,1925 1248,2065 1232,2045 1189,2018 1247,2070 1207,2051 1243,1922 1244,1923 1208,1929 1231,1936 1249,2041 1182,1983 1172,1974 1267,1942 1192,1938 1253,2062 1197,1937 1232,2040 1249,2071 1207,2017 1190,1960 1199,1944 1200,1955 1198,2061 1217,1933 1250,1947 1235,2039 1246,1942 1280,1948 1307,1958 1204,2013 1205,1933 1236,2083 1186,1951 1264,2022 1209,2036 1193,1983 1299,1972 1218,1909 1204,1995 1243,2042 1193,2027 1208,2025 1251,1948 1197,1986 1271,1949 1244,2079 1226,2043 1262,1951 1208,2060 1271,1936 1230,1929 1191,1944 1240,2051 1243,2050 1205,2019 1202,2029 1171,1995 1266,2040 1178,1993 1268,2050 1211,2027 1274,2031 1287,1943 1192,1909 1229,2051 1253,2042 1275,1940 1248,2073 1156,1903 1185,1957 1238,1922 1216,2066 1214,1933 1234,2063 1187,1945 1219,2056 1260,1931 1178,1947 1177,1978 1171,1972 1233,2081 1165,1980 1293,1992 1220,1903 1232,2050 1290,2009 1300,1949 1228,1919 1255,1944 1279,1946 1261,2068 1212,2033 1254,2047 1268,1943 1291,1950 1286,1940 1185,1950 1291,2012 1253,2061 1202,2022 1232,2087 1204,2036 1292,1994 1264,1938 1220,1923 1294,1992 1277,1940 1172,1995 1260,1936 1299,1933 1231,2082 1291,2010 1246,2038 1259,1935 1302,1960 1225,1935 1281,1954 1213,2037 1200,1992 1207,1941 1228,2066 1178,1952 1171,1989 1267,2056 1202,1910 1194,1906 1296,1946 1305,1955 1286,1945 1220,1902 1256,2063 1230,1929 1176,1943 1185,1935 1265,2070 1184,1987 1266,2062 1206,2027 1258,2050 1160,1906 1156,1903 1163,1988 1262,2042 1197,2056 1278,1927 1259,2033 1198,2062 1280,1933 1261,2030 1240,2081 1198,2022 1187,1957 1290,2019 1275,1951 1272,2035 1207,1989 1263,2041 1241,1927 1264,2071 1196,1908 1267,1934 1293,1956 1246,1944 1281,1936 1292,1934 1291,1941 1218,1928 1291,1938 1242,1925 1228,1940 1252,1939 1201,1979 1234,1944 1280,1929 1217,1939 1221,2064 1211,2022 1262,2046 1158,1906 1198,1951 1298,1957 1255,2070 1237,1932 1304,1958 1298,1966 1216,1920 1268,2039 1205,2061 1293,1960 1284,1932 1169,1992 1223,2086 1233,2089 1222,1921 1253,2068 1217,1910 1237,2051 1219,2074 1210,1941 1173,1971 1245,2078 1228,2041 1271,2040 1234,2058 1229,2077 1209,2018 1198,1928 1286,1932 1203,1983 1201,1912 1251,2049 1188,1954 1181,1979 1190,2019 1273,2048 1242,1942 1290,2008 1199,2038 1225,2059 1272,2045 1287,1937 1271,2059 1223,1939"/>
<polyline class="s HSC" points="936,1588 1022,1696 870,1703 939,1640 889,1556 915,1575 929,1630 862,1602 917,1716 932,1595 853,1604 866,1592 916,1678 974,1661 947,1619 973,1726 881,1535 932,1602 855,1680 826,1584 938,1704 946,1682 896,1661 998,1705 906,1683 862,1581 883,1535 946,1599 910,1659 1031,1673 968,1666 868,1613 958,1663 823,1675 877,1636 991,1717 846,1577 834,1635 885,1552 886,1591 856,1640 945,1638 953,1733 970,1637 821,1675 831,1693 991,1690 937,1724 970,1673 903,1713 956,1605 966,1613 958,1631 977,1691 1001,1661 973,1609 936,1729 886,1664 856,1621 986,1696 906,1568 947,1622 984,1628 836,1626 888,1613 869,1688 875,1609 958,1681 822,1600 969,1712 815,1593 878,1677 890,1600 879,1661 890,1639 868,1667 859,1657 989,1628 860,1675 827,1584 867,1667 923,1704 867,1586 917,1664 1009,1680 832,1577 856,1665 871,1702 891,1607 965,1619 900,1587 960,1622 963,1726 914,1676 841,1614 983,1650 853,1576 965,1651 979,1701 956,1603 955,1743 947,1669 946,1714 838,1670 886,1683 904,1713 1020,1678 810,1673 920,1617 895,1656 966,1700 913,1612 948,1590 952,1644 1010,1656 973,1693 913,1612 879,1635 987,1676 851,1633 921,1574 953,1634 1029,1682 881,1645 869,1570 954,1646 937,1689 1011,1706 846,1604 848,1665 913,1622 886,1584 813,1671 915,1619 1023,1695 907,1607 889,1577 880,1572 1018,1667 887,1691 972,1617 879,1622 901,1593 916,1604 974,1727 955,1722 957,1633 1014,1696 926,1726 916,1606 827,1640 910,1629 870,1624 852,1626 844,1620 931,1707 859,1666 997,1704 988,1636 958,1643 998,1655 855,1571 868,1579 872,1601 1037,1684 920,1709 904,1576 881,1546 940,1585 1023,1684 946,1687 975,1660 963,1619 956,1592 912,1715 982,1659 1010,1689 983,1707 919,1622 1000,1679 918,1646 881,1594 881,1690 940,1599 825,1617 825,1624 850,1642 988,1654 999,1712 925,1714 1028,1692 884,1559 941,1620 954,1688 940,1720 960,1617 959,1694 832,1693 848,1612 962,1720 939,1710 837,1575 976,1667 812,1672 993,1640 857,1566 945,1628 820,1599 880,1535 1034,1679 943,1701 984,1690 984,1691 993,1696 844,1629 946,1614 971,1732 944,1726 922,1671 921,1618 863,1663 919,1695 856,1647 955,1608 953,1728 869,1603 929,1667 899,1578 936,1691 966,1601 879,1554 884,1695 845,1620 1008,1662 981,1716 869,1637 924,1676 906,1675 857,1628 833,1658 899,1706 950,1746 874,1593 993,1673 955,1627 843,1569 962,1724 917,1635 992,1683 952,1615 872,1618 992,1664 979,1624 895,1683 930,1588 863,1610 923,1612 822,1589 872,1625 885,1698 884,1607 910,1583 952,1633 968,1627 909,1630 916,1626 820,1608 895,1585 934,1659 938,1674 896,1563 920,1683 974,1708 968,1712 939,1632 814,1608 939,1646 914,1699 880,1588 982,1722 908,1707 932,1685 898,1646 915,1690 929,1629 869,1564 925,1700 884,1608 947,1597 872,1703 962,1710 908,1691 838,1584 893,1700 926,1572 843,1635 936,1715 917,1583 914,1627 947,1605 885,1560 828,1661 936,1654 981,1641 929,1714 900,1618 924,1581 958,1739 987,1703 876,1668 942,1694 868,1674 908,1707 854,1608 995,1658 941,1592 964,1645 870,1675 979,1683 920,1601 971,1618 1003,1696 973,1626 882,1575 1003,1650 943,1663 916,1700 858,1657 947,1686 878,1572 865,1653 995,1651 968,1636 1020,1689 889,1620 984,1671 1041,1680 1009,1687 926,1635 909,1625 892,1594 927,1601 953,1695 861,1676 827,1653 893,1621 881,1616 956,1670 882,1615 829,1608 944,1716 973,1683 874,1619 871,1636 862,1561 881,1679 932,1581 959,1731 949,1718 925,1684 906,1656 874,1683 874,1650 873,1595 968,1694 864,1566 876,1579 980,1615 947,1718 865,1627 825,1619 1008,1681 910,1717 908,1585 985,1626 932,1597 907,1567 825,1655 990,1716 944,1650 919,1717 939,1718 945,1637 849,1655 974,1668 839,1648 923,1715 837,1601 875,1650 895,1674 876,1670 837,1663 838,1609 1000,1667 947,1643 889,1676 954,1702 948,1740 930,1642 919,1599 1001,1680 1018,1683 860,1664 884,1551 876,1565 886,1673 880,1690 942,1692 844,1664 971,1692 967,1679 978,1633 856,1670 1039,1685 873,1556 841,1643 943,1627 931,1716 862,1571 973,1718 896,1569 917,1570 895,1621 907,1699 826,1624 867,1620 887,1569 844,1662 883,1535 899,1652 908,1601 827,1651 875,1640 834,1640 941,1742 916,1665 967,1659 930,1708 989,1688 931,1697 965,1685 843,1610 875,1563 845,1569 977,1690 910,1590 848,1640 1014,1676 985,1709 881,1630 1000,1655 839,1585 880,1601 832,1578 884,1577 854,1610 979,1632 896,1693 843,1676 940,1735 938,1686 909,1643 883,1656 1012,1667 867,1558 979,1723 901,1587 1002,1707 900,1634 907,1614 892,1663 925,1624 1009,1706 899,1626 897,1610 897,1662 879,1620 960,1674 825,1647 871,1661 930,1601 906,1603 1006,1671 955,1597 925,1613 952,1701 856,1642"/>
<polyline class="s OHC" points="1097,1874 1048,1936 1005,1877 1068,1883 1037,1735 1089,1842 1070,1856 1030,1850 1021,1819 969,1769 1011,1888 998,1848 984,1784 962,1756 1068,1760 1084,1804 997,1830 979,1784 1066,1764 1011,1844 1092,1825 1008,1813 1103,1877 1046,1817 1043,1918 1070,1865 972,1749 1080,1885 1054,1922 1013,1854 1020,1790 1002,1865 1005,1725 1087,1835 1038,1922 1075,1860 1040,1773 1068,1891 1070,1829 1058,1896 1040,1844 1069,1792 1101,1852 1054,1903 1028,1806 1059,1930 997,1740 1041,1882 1053,1848 1033,1903 1081,1824 1046,1929 1077,1883 1024,1708 1028,1795 1080,1852 1044,1869 1046,1857 1030,1902 1027,1771 1045,1805 1043,1837 1034,1792 1047,1844 1113,1873 1021,1746 1090,1878 984,1782 1062,1820 1056,1883 1016,1726 1096,1817 1011,1834 1082,1861 1019,1886 1082,1870 1073,1850 1016,1808 1031,1755 1040,1774 973,1789 1065,1830 1021,1745 1034,1854 1073,1874 1063,1879 1032,1812 998,1822 1056,1874 1101,1873 1010,1863 1008,1723 1045,1889 1005,1819 1109,1877 1115,1860 993,1759 1052,1817 1011,1793 1016,1825 1030,1830 1057,1827 1085,1876 1019,1798 1006,1871 1022,1901 1049,1691 1050,1899 1038,1867 999,1736 1037,1932 939,1764 1071,1896 1051,1895 1004,1829 1058,1914 974,1759 1014,1811 1052,1797 1002,1728 1017,1896 1059,1905 1002,1807 1066,1921 1066,1845 964,1782 1037,1833 986,1856 1040,1858 1023,1708 1049,1863 1023,1906 985,1783 1104,1885 1023,1708 1009,1804 1020,1839 1047,1850 1043,1943 1050,1910 1055,1838 1065,1814 1084,1884 1053,1856 1017,1728 991,1847 1073,1835 965,1780 1042,1829 1072,1823 1040,1823 964,1754 1023,1852 1027,1772 1076,1797 1044,1711 1015,1877 1088,1871 1028,1841 1054,1780 1099,1868 1083,1813 996,1742 1070,1762 1002,1729 1049,1876 1034,1800 1026,1782 1077,1849 960,1754 1025,1811 1022,1862 1075,1891 1044,1710 1031,1756 1093,1886 1027,1858 1059,1846 973,1750 1034,1889 1095,1839 1032,1926 966,1761 1085,1805 1060,1852 1053,1809 1027,1771 1033,1756 1107,1861 992,1835 1055,1874 1053,1778 1062,1797 1073,1817 1019,1745 1054,1889 1094,1845 973,1787 965,1760 1071,1913 999,1736 1074,1922 1080,1811 1061,1869 1034,1861 998,1856 1025,1909 973,1760 1062,1888 1090,1851 1042,1908 1046,1709 1064,1858 1033,1911 1076,1806 1074,1824 1050,1692 994,1863 1037,1734 1023,1873 1110,1883 971,1773 1050,1691 1079,1872 1005,1855 1081,1838 1000,1839 1034,1874 1076,1842 999,1734 1059,1846 972,1749 993,1760 1105,1870 1029,1781 1022,1894 1067,1766 1039,1808 1066,1908 1090,1862 1098,1887 1004,1840 1104,1829 1007,1723 1024,1881 1038,1926 1041,1794 1029,1881 1005,1871 1072,1817 1063,1868 1060,1809 1105,1834 1036,1920 1019,1750 972,1758 1013,1878 1018,1751 1108,1851 1038,1736 1013,1868 1024,1828 1068,1803 1043,1942 1053,1776 996,1861 980,1786 938,1763 1028,1821 1071,1927 970,1771 1093,1828 1083,1817 1097,1831 1107,1842 1090,1815 1041,1814 1049,1827 939,1764 1041,1900"/>
<polyline class="s ILC" points="1573,1642 1559,1718 1583,1625 1560,1633 1485,1617 1572,1659 1544,1617 1582,1713 1501,1665 1485,1695 1465,1599 1492,1691 1492,1639 1581,1674 1531,1622 1481,1682 1519,1633 1569,1760 1496,1592 1553,1754 1502,1691 1544,1585 1588,1666 1513,1634 1573,1760 1536,1613 1558,1725 1522,1621 1500,1579 1555,1677 1518,1715 1480,1594 1535,1723 1526,1684 1509,1606 1583,1649 1570,1625 1563,1755 1529,1628 1564,1740 1511,1737 1566,1764 1533,1608 1509,1672 1596,1648 1505,1685 1534,1631 1523,1588 1510,1706 1568,1634 1575,1654 1536,1686 1536,1706 1580,1677 1458,1593 1538,1574 1558,1605 1582,1726 1548,1581 1572,1641 1559,1626 1531,1687 1548,1719 1552,1635 1538,1761 1498,1569 1576,1667 1566,1749 1551,1612 1528,1578 1551,1696 1559,1676 1594,1655 1504,1678 1591,1706 1534,1682 1489,1607 1534,1633 1564,1708 1549,1724 1509,1626 1595,1686 1528,1723 1472,1662 1508,1686 1471,1635 1459,1607 1512,1707 1558,1756 1509,1727 1548,1659 1530,1644 1531,1627 1592,1720 1564,1623 1586,1629 1482,1677 1490,1713 1565,1642 1489,1553 1552,1759 1576,1656 1534,1590 1540,1628 1535,1653 1572,1690 1489,1546 1556,1619 1549,1585 1483,1673 1518,1718 1505,1665 1572,1613 1522,1621 1566,1609 1516,1735 1487,1612 1549,1675 1524,1652 1503,1728 1485,1618 1568,1609 1542,1759 1502,1578 1484,1693 1572,1618 1560,1706 1492,1629 1463,1615 1514,1730 1485,1657 1503,1657 1559,1606 1579,1767 1454,1679 1584,1639 1522,1579 1545,1740 1546,1757 1492,1675 1568,1661 1462,1589 1570,1710 1555,1769 1533,1703 1469,1667 1477,1635 1517,1723 1516,1656 1571,1654 1545,1668 1510,1780 1577,1724 1591,1659 1511,1583 1571,1707 1539,1730 1569,1650 1487,1573 1510,1607 1501,1641 1494,1718 1571,1754 1526,1701 1495,1712 1587,1703 1542,1713 1487,1575 1550,1730 1586,1745 1478,1588 1548,1580 1505,1664 1514,1677 1583,1680 1497,1612 1590,1651 1515,1693 1523,1653 1566,1686 1517,1569 1545,1631 1501,1779 1506,1740 1561,1706 1489,1697 1546,1682 1589,1735 1598,1674 1535,1703 1503,1604 1525,1747 1532,1678 1535,1665 1488,1547 1531,1729 1602,1713 1466,1610 1555,1619 1510,1624 1554,1696 1580,1686 1536,1585 1540,1737 1550,1618 1526,1652 1519,1596 1479,1599 1481,1622 1527,1636 1558,1773 1584,1714 1555,1665 1561,1666 1584,1736 1530,1594 1578,1732 1585,1753 1496,1581 1583,1708 1556,1673 1500,1664 1511,1598 1485,1646 1587,1655 1569,1632 1452,1680 1471,1618 1540,1582 1583,1717 1504,1655 1559,1746 1558,1613 1506,1781 1474,1684 1552,1685 1505,1704 1470,1644 1518,1736 1526,1600 1465,1624 1579,1768 1547,1753 1530,1672 1524,1693 1519,1689 1542,1745 1538,1706 1559,1725 1553,1737 1472,1673 1496,1716 1469,1591 1488,1577 1506,1695 1505,1587 1581,1674 1568,1735 1488,1605 1510,1635 1564,1644 1479,1652 1589,1686 1503,1781 1451,1679 1514,1744 1505,1676 1491,1588 1574,1666 1558,1613 1488,1665 1518,1673 1597,1688 1509,1716 1576,1753 1473,1644 1541,1702 1484,1639 1559,1689 1549,1697 1490,1673 1519,1751 1592,1680 1484,1587 1576,1731 1530,1596 1532,1670 1574,1664 1528,1628 1495,1603 1558,1634 1547,1739 1502,1683 1593,1641 1486,1703 1511,1600 1490,1553 1484,1609 1520,1598 1552,1752 1537,1717 1536,1747 1541,1692 1564,1680 1473,1605 1573,1628 1498,1622 1544,1713 1493,1617 1470,1578 1565,1773 1583,1759 1482,1665 1507,1642 1548,1691 1482,1678 1585,1748 1593,1672 1529,1583 1486,1548 1529,1585 1475,1613 1534,1751 1601,1703 1567,1721 1542,1700 1525,1701 1544,1591 1493,1660 1497,1678 1535,1595 1554,1676 1473,1686 1582,1662 1570,1712 1484,1634 1524,1712 1518,1705 1526,1745 1559,1677 1534,1629 1492,1638 1515,1712 1508,1722 1516,1667 1499,1586 1482,1574 1546,1759 1507,1644 1574,1681 1532,1713 1511,1728 1493,1623 1526,1679 1528,1652 1507,1746 1520,1748 1543,1727 1483,1688 1529,1572 1589,1645 1570,1689 1552,1627 1582,1636 1555,1641 1530,1623 1508,1688 1565,1762 1498,1670 1509,1746 1476,1626 1543,1694 1544,1597 1554,1640 1508,1637 1520,1624 1482,1682 1481,1580 1539,1679 1548,1647 1466,1678 1527,1685 1511,1700 1556,1720 1555,1656 1528,1661 1585,1719 1509,1583 1491,1705 1497,1671 1577,1677 1579,1737 1499,1778 1469,1657 1575,1630 1501,1712 1527,1756 1510,1568 1504,1651 1576,1621 1484,1580 1554,1736 1577,1647 1513,1683 1475,1614 1573,1744 1515,1656 1479,1654 1492,1618 1501,1681 1485,1645 1544,1639 1574,1768 1578,1758 1512,1739 1548,1763 1543,1607 1519,1674 1565,1719 1575,1762 1499,1703 1577,1738 1508,1780 1520,1666 1491,1628 1535,1643 1596,1663 1522,1712 1557,1719 1506,1575 1504,1597 1502,1718 1491,1583 1530,1706 1474,1649 1540,1656 1583,1627 1511,1666 1472,1627 1545,1684 1538,1603 1550,1596 1544,1645 1536,1602 1533,1737 1581,1633 1542,1638 1559,1739 1480,1672 1474,1587 1460,1609 1488,1546 1558,1763 1564,1617 1514,1590 1562,1756 1566,1659 1486,1640 1538,1685 1566,1739 1577,1760 1599,1694 1531,1713 1597,1724 1519,1574 1508,1575 1484,1636 1551,1633"/>
<path d="M904 2130.7v-23.9M1199.2 2130.7v-23.9M1494.9 2130.7v-23.9M770 1309.6h23.9M770 1428.5h23.9M770 1547.4h23.9M770 1666.3h23.9M770 1785.2h23.9M770 1904.1h23.9M770 2023.1h23.9" stroke="#1a1a1a" stroke-width="5.8" fill="none"/>
<rect x="770" y="1228" width="869.1" height="902.7" fill="none" stroke="#1a1a1a" stroke-width="5.8"/>
<g font-size="62.5" text-anchor="middle">
<text x="907" y="2193">−50</text>
<text x="1201.2" y="2193">0</text>
<text x="1496.9" y="2193">50</text>
</g>
<g font-size="62.5" text-anchor="end">
<text x="748" y="1329">60</text>
<text x="748" y="1447.9">40</text>
<text x="748" y="1566.8">20</text>
<text x="748" y="1685.7">0</text>
<text x="748" y="1804.6">−20</text>
<text x="748" y="1923.5">−40</text>
<text x="748" y="2042.5">−60</text>
</g>
<text class="ax" x="1213" y="2260.5" text-anchor="middle">分量<tspan class="d">1</tspan></text>
<text class="ay" transform="translate(629.5 1671.8) rotate(-90)" text-anchor="middle">分量<tspan class="dy">2</tspan></text>
<text x="1219.9" y="2322.4" font-size="62.5" text-anchor="middle">(d) DCORAL</text>
</g>
<g id="panel-e">
<polyline class="s HY" points="2004,1637 1933,1605 1964,1624 1932,1595 1936,1585 2056,1636 2087,1557 1991,1509 1983,1517 2022,1646 2086,1605 2055,1637 1938,1550 1947,1526 1955,1548 2030,1625 1946,1577 2056,1526 1952,1626 2052,1638 1949,1570 1942,1547 2049,1539 1963,1633 2007,1510 1935,1574 2033,1629 1986,1628 1981,1499 1945,1567 2082,1547 2055,1539 1990,1645 1988,1644 1991,1639 2077,1557 1945,1558 1969,1536 1968,1537 2042,1624 2014,1504 2069,1586 1945,1603 2074,1611 2056,1625 1985,1522 2063,1553 1931,1555 1974,1622 2063,1552 2093,1571 1999,1503 1985,1501 2006,1507 2013,1632 1944,1591 1927,1566 1949,1622 2058,1617 1985,1627 2045,1629 1966,1539 1970,1522 1942,1558 1990,1634 2088,1556 1950,1611 1936,1555 2037,1509 2045,1635 1959,1522 1974,1522 1983,1643 1951,1524 2035,1624 2039,1501 1944,1553 2051,1626 1967,1528 1998,1516 1997,1631 1994,1518 1929,1561 1995,1502 2072,1617 2003,1641 1984,1629 1950,1522 2068,1573 2064,1612 2030,1520 2004,1507 1953,1619 1988,1637 1983,1502 1966,1642 1936,1565 2073,1552 2041,1501 1984,1641 1938,1545 2073,1552 1964,1532 2012,1631 2078,1624 2016,1514 2042,1506 1968,1643 1934,1572 1957,1549 1957,1542 1998,1523 2004,1507 1963,1516 1927,1557 2080,1558 1957,1611 1937,1542 2071,1593 2076,1613 2029,1526 1962,1523 2069,1609 2023,1513 1943,1608 2070,1577 1958,1528 1982,1621 2028,1504 2074,1557 1977,1632 1946,1590 1998,1650 2020,1512 2073,1539 2067,1615 2027,1633 2031,1517 1943,1571 1951,1608 2075,1540 1994,1505 1993,1522 2015,1516 2096,1568 2030,1519 2065,1567 2034,1624 2055,1538 2004,1653 2037,1631 2069,1550 2085,1556 2073,1592 2081,1559 2028,1643 2045,1635 1981,1624 2067,1564 2035,1629 1961,1520 2064,1617 1980,1631 1945,1589 2083,1555 1995,1634 1968,1514 1956,1613 1942,1623 1991,1509 2057,1547 2057,1545 2075,1565 2000,1524 1993,1509 2087,1585 1958,1547 1984,1639 2058,1619 1943,1588 2031,1638 2065,1626 1933,1555 2006,1636 2040,1634 1955,1594 1941,1606 1984,1627 1966,1543 2040,1625 2007,1646 2048,1524 1975,1523 2038,1516 1995,1634 1950,1571 2074,1577 2079,1608 1992,1632 2036,1517 1953,1624 1982,1509 1954,1616 1974,1637 1947,1602 2018,1514 2072,1576 2083,1611 2032,1628 2056,1624 2069,1535 2012,1514 1936,1558 2073,1613 2005,1634 1946,1623 2077,1593 2041,1624 2075,1538 2032,1639 2041,1523 1977,1629 1985,1503 1992,1525 1950,1624 2059,1626 2013,1656 2008,1645 2048,1621 1943,1549 1946,1617 2002,1511 1997,1525 2016,1519 2063,1549 2081,1550 1957,1606 2077,1617 2091,1569 2061,1547 1966,1529 2013,1517 2042,1529 1927,1554 1972,1526 1935,1579 1959,1624 2027,1640 1967,1545 2064,1528 2030,1519 2075,1574 1941,1559 1967,1646 2074,1581 2041,1633 2071,1601 1930,1560 1949,1544 2046,1522 2040,1618 1992,1645 1938,1612 1938,1591 1939,1539 1963,1634 2065,1623 2016,1634 2066,1541 2030,1637 1980,1520 2065,1527 2014,1509 2080,1601 2069,1603 1952,1548 2070,1591 2063,1536 2075,1540 1958,1531 2050,1633 1973,1532 2026,1636 1984,1513 1941,1553 1938,1600 2071,1540 2044,1622 1933,1609 1964,1519 2072,1526 2070,1548 2052,1640 1943,1614 2074,1532 2020,1519 2060,1550 2044,1628 1944,1586 2043,1509 2027,1524 2083,1577 1985,1503 2071,1522 2072,1567 2046,1619 1931,1597 2077,1569 2065,1553 1954,1604 2011,1630 2087,1557 2064,1601 2055,1632 2036,1516 2047,1512 1942,1584 1966,1628 1963,1519 2069,1564 1950,1530 2029,1630 2077,1589 2017,1638 1937,1546 2072,1582 1947,1537 2018,1649 2062,1622 1952,1522 1956,1603 2036,1520 1949,1594 1935,1597 2042,1527 1964,1622 1947,1605 2083,1562 1960,1547 2039,1509 2043,1529 1927,1559 2060,1621 1957,1615 2050,1513 2060,1523 2059,1630 2024,1510 1992,1647 1946,1587 2039,1524 2007,1632 2014,1636 1935,1580 2074,1557 2082,1588 2067,1598 2080,1624 1938,1581 2040,1518 2041,1622 1998,1659 2082,1559 1983,1522 1942,1622 2011,1519 2059,1543 2067,1603 1990,1510 2064,1608 2091,1576 1982,1518 1968,1510 1968,1512 1936,1608 2009,1641 2003,1505 2032,1626 1945,1585 1976,1526 1939,1612 2056,1536 1983,1622 2047,1619 2082,1604 1964,1545 2020,1633 2024,1649 2039,1518 2045,1637 2072,1563 2086,1568 2012,1508 2053,1623 2066,1543 1944,1586 1995,1503 2059,1596 2059,1624 2064,1543 1969,1519 2042,1635 1960,1624 1965,1517 2042,1633 2029,1634 1948,1592 2064,1594 2068,1566 1995,1525 1942,1545 1946,1559 2076,1592 2024,1522 2000,1640 1970,1539 2061,1624 2075,1554 2078,1550 2060,1622 2073,1604 1973,1530 2044,1627 1945,1619 1983,1634 2081,1610 2030,1527 2011,1516 1951,1621 1969,1543 2085,1574 2056,1529 2060,1600 2067,1591 2069,1613 2063,1599 2039,1635 2065,1629 1986,1642 2080,1620 2001,1520 1949,1552 1948,1529 1933,1572 1951,1568 2032,1638 1948,1540 1939,1571 2092,1567 2065,1598 2073,1613 2071,1585 1962,1525 2042,1641 2081,1564 2036,1502 1939,1584 2025,1642 1935,1550 2053,1522 2054,1532 1994,1648 2035,1502 2018,1642 2020,1638 1945,1586 2034,1646 2052,1518 1936,1554 2029,1642 1951,1521 1978,1643 2017,1641 2086,1562 2089,1575 1963,1619 2014,1503 1951,1530 1954,1623 2055,1531 2044,1530 2050,1639 2070,1584 1932,1570 2005,1632 2000,1643 2078,1581 2081,1601 1934,1565 1981,1630 1998,1629 2021,1643 1968,1536 2051,1633 2027,1528 2065,1601 1975,1523 1935,1604 1964,1527 2072,1564 2073,1578 1963,1521 1978,1631 1947,1550 1970,1517 2073,1582 2070,1594 1948,1613 1955,1620 1955,1592 2080,1546"/>
<polyline class="s ILW" points="2298,1355 2277,1337 2274,1345 2198,1410 2247,1376 2239,1303 2232,1299 2262,1302 2189,1409 2243,1321 2248,1411 2261,1370 2225,1335 2173,1397 2282,1324 2222,1339 2232,1297 2254,1404 2212,1354 2239,1357 2255,1295 2209,1354 2193,1387 2253,1383 2226,1376 2214,1388 2256,1376 2272,1337 2183,1400 2273,1360 2268,1334 2218,1364 2300,1354 2250,1384 2205,1375 2300,1351 2260,1385 2303,1335 2281,1342 2278,1335 2287,1318 2223,1402 2278,1321 2190,1388 2284,1364 2256,1381 2179,1381 2235,1292 2266,1383 2222,1363 2274,1383 2270,1321 2201,1384 2258,1401 2226,1418 2241,1313 2294,1332 2274,1371 2191,1374 2238,1394 2198,1372 2190,1398 2239,1325 2287,1352 2238,1291 2273,1318 2277,1300 2266,1291 2273,1300 2272,1377 2243,1464 2294,1364 2196,1392 2187,1369 2235,1343 2219,1416 2229,1402 2259,1292 2221,1388 2243,1345 2187,1387 2289,1320 2260,1385 2238,1359 2282,1352 2179,1392 2272,1295 2280,1333 2262,1355 2271,1294 2229,1381 2237,1408 2268,1308 2239,1316 2275,1340 2220,1410 2184,1382 2242,1309 2268,1387 2273,1317 2205,1355 2214,1362 2264,1357 2291,1328 2190,1398 2169,1385 2231,1407 2211,1332 2242,1397 2273,1311 2268,1326 2251,1315 2220,1343 2281,1364 2265,1365 2197,1357 2187,1406 2226,1420 2227,1405 2231,1340 2220,1387 2202,1389 2242,1391 2270,1314 2298,1358 2298,1342 2200,1356 2234,1292 2245,1298 2283,1338 2228,1332 2199,1416 2280,1315 2205,1384 2273,1329 2297,1346 2208,1379 2231,1344 2255,1397 2240,1338 2194,1399 2219,1397 2166,1390 2277,1307 2262,1391 2261,1294 2282,1314 2224,1397 2273,1365 2235,1382 2268,1372 2244,1390 2279,1360 2184,1371 2266,1319 2250,1391 2291,1345 2182,1390 2286,1361 2249,1313 2213,1414 2181,1394 2179,1377 2232,1335 2218,1417 2298,1333 2196,1385 2219,1346 2246,1334 2254,1385 2253,1373 2293,1319 2191,1367 2223,1414 2193,1406 2291,1360 2223,1406 2295,1341 2200,1356 2298,1329 2302,1343 2200,1363 2186,1394 2240,1299 2194,1375 2187,1379 2279,1302 2287,1317 2303,1338 2206,1380 2255,1389 2274,1299 2202,1378 2220,1355 2183,1378 2174,1396 2263,1380 2197,1339 2285,1367 2242,1371 2213,1404 2197,1358 2215,1338 2276,1365 2266,1388 2238,1345 2239,1332 2197,1419 2228,1351 2264,1309 2293,1320 2189,1391 2227,1341 2232,1413 2294,1358 2176,1391 2231,1341 2262,1357 2241,1379 2245,1340 2244,1335 2236,1394 2206,1333 2232,1406 2272,1312 2259,1295 2300,1327 2233,1355 2198,1350 2223,1391 2227,1404 2238,1361 2209,1410 2245,1404 2231,1392 2241,1386 2256,1388 2187,1406 2196,1380 2243,1384 2286,1334 2239,1401 2212,1338 2246,1383 2213,1389 2221,1408 2218,1347 2285,1343 2221,1358 2284,1334 2262,1316 2260,1379 2237,1399 2236,1413 2242,1329 2205,1371 2229,1358 2258,1296 2251,1407 2241,1315 2248,1398 2197,1400 2201,1369 2291,1329 2289,1325 2252,1414 2194,1416 2199,1360 2267,1353 2248,1347 2248,1336 2282,1353 2275,1378 2211,1354 2224,1376 2276,1357 2237,1301 2257,1293 2252,1296 2242,1409 2232,1392 2295,1351 2204,1414 2183,1404 2253,1286 2201,1407 2199,1337 2223,1337 2289,1328 2262,1390 2221,1370 2225,1360 2191,1415 2240,1297 2284,1313 2243,1466 2278,1353 2187,1411 2249,1404 2295,1359 2263,1312 2218,1404 2240,1355 2240,1295 2276,1317 2220,1331 2210,1370 2202,1379 2281,1332 2244,1393 2287,1314 2241,1415 2223,1392 2275,1331 2259,1401 2221,1367 2199,1399 2271,1304 2207,1387 2222,1362 2266,1296 2265,1395 2214,1411 2262,1396 2237,1349 2193,1363 2193,1409 2197,1418 2194,1353 2247,1370 2215,1340 2287,1354 2185,1369 2272,1322 2217,1361 2205,1406 2205,1415 2273,1381 2263,1314 2246,1313 2237,1386 2233,1399 2178,1388 2295,1345 2232,1355 2292,1326 2275,1326 2240,1326"/>
<polyline class="s OHC" points="2525,1444 2510,1442 2574,1323 2591,1350 2454,1397 2581,1410 2596,1360 2459,1412 2593,1352 2580,1320 2547,1296 2500,1300 2554,1435 2488,1433 2465,1325 2590,1328 2488,1299 2455,1330 2450,1386 2464,1415 2589,1339 2452,1334 2485,1425 2507,1437 2592,1360 2477,1423 2543,1437 2596,1398 2594,1355 2558,1432 2549,1435 2565,1307 2593,1343 2594,1383 2592,1339 2587,1404 2571,1425 2500,1437 2574,1313 2595,1348 2587,1412 2511,1295 2484,1310 2463,1412 2572,1429 2570,1309 2545,1302 2533,1444 2593,1406 2470,1315 2516,1293 2460,1405 2552,1304 2541,1297 2513,1297 2495,1439 2538,1301 2591,1331 2593,1349 2592,1335 2511,1439 2571,1424 2503,1436 2547,1438 2526,1299 2588,1324 2573,1423 2449,1347 2595,1374 2524,1296 2585,1410 2447,1349 2575,1424 2456,1391 2601,1376 2548,1433 2459,1399 2495,1435 2454,1387 2597,1361 2599,1367 2504,1298 2509,1440 2522,1439 2590,1358 2569,1312 2601,1357 2466,1420 2576,1422 2557,1432 2562,1423 2601,1362 2593,1345 2470,1422 2503,1440 2558,1307 2594,1348 2453,1395 2462,1409 2593,1373 2509,1292 2595,1379 2495,1299 2453,1363 2597,1371 2551,1304 2599,1355 2494,1437 2600,1370 2545,1304 2456,1404 2490,1298 2539,1292 2578,1324 2452,1391 2541,1439 2578,1419 2592,1328 2581,1319 2551,1435 2566,1428 2505,1301 2562,1425 2451,1367 2590,1327 2451,1360 2480,1421 2534,1294 2461,1331 2563,1310 2558,1435 2470,1420 2538,1299 2449,1369 2464,1313 2467,1323 2577,1321 2467,1416 2456,1325 2517,1295 2508,1436 2473,1422 2494,1296 2593,1343 2468,1314 2498,1432 2449,1353 2576,1319 2585,1321 2589,1393 2600,1378 2450,1358 2452,1378 2579,1313 2601,1351 2464,1408 2448,1357 2525,1292 2499,1301 2595,1382 2466,1323 2462,1325 2519,1443 2529,1443 2579,1414 2494,1301 2467,1409 2560,1305 2463,1401 2530,1297 2599,1360 2456,1358 2465,1314 2590,1396 2595,1401 2463,1404 2486,1301 2540,1442 2512,1295 2455,1351 2572,1314 2584,1416 2492,1431 2450,1354 2536,1442 2447,1368 2474,1426 2593,1384 2571,1426 2450,1383 2596,1376 2598,1382 2573,1427 2480,1309 2587,1401 2450,1383 2446,1361 2602,1378 2596,1359 2516,1291 2582,1418 2573,1317 2531,1440 2458,1335 2518,1442 2472,1420 2546,1299 2476,1421 2451,1384 2601,1355 2470,1418 2496,1437 2462,1414 2498,1296 2446,1366 2513,1436 2587,1399 2452,1352 2470,1424 2465,1313 2515,1295 2453,1360 2579,1417 2468,1420 2576,1420 2532,1445 2535,1291 2455,1347 2476,1316 2490,1426 2585,1321 2566,1430 2571,1319 2484,1432 2549,1434 2593,1358 2599,1364 2534,1293 2472,1316 2453,1355 2481,1422 2498,1292 2536,1294 2466,1412 2446,1357 2458,1396 2514,1295 2451,1345 2482,1428 2482,1308 2574,1319 2450,1387 2536,1440 2589,1397 2593,1334 2480,1430 2458,1325 2594,1341 2557,1305 2592,1355 2453,1339 2512,1443 2556,1438 2580,1418 2484,1430 2536,1298 2589,1401 2589,1405 2461,1400 2591,1339 2594,1374 2527,1445 2490,1429 2597,1358 2479,1427 2534,1437 2454,1332 2593,1368 2480,1307 2458,1410 2473,1315 2594,1393 2445,1349 2571,1316 2477,1311 2471,1416 2471,1321 2585,1414 2587,1327 2521,1290 2448,1345 2532,1443 2453,1358 2584,1329 2453,1366 2492,1437 2474,1314 2451,1336 2455,1356 2510,1436 2590,1354 2584,1316 2494,1298 2588,1331 2547,1298 2585,1411 2489,1307 2474,1320 2595,1350 2589,1337 2551,1437 2455,1394 2574,1420 2452,1384 2534,1446 2563,1305 2583,1327 2599,1353 2594,1371 2448,1362 2583,1327 2451,1341 2507,1293 2470,1323 2597,1387 2590,1329 2472,1311 2489,1428 2505,1438 2486,1300 2593,1402 2592,1345 2539,1437 2449,1380 2459,1412 2505,1441 2595,1385 2534,1292 2531,1297 2585,1328 2530,1291 2480,1312 2456,1353 2467,1414 2556,1430 2595,1373 2599,1396 2451,1369 2462,1405 2498,1438 2452,1367 2578,1419 2589,1410 2503,1438 2583,1409 2487,1303 2451,1344 2551,1439 2584,1407 2591,1348 2563,1310 2521,1443 2451,1374 2553,1303 2547,1440 2515,1295 2551,1299 2458,1390 2596,1352 2554,1298 2504,1294 2577,1325 2470,1320 2565,1304 2513,1438 2457,1398 2576,1417 2449,1350 2476,1428 2448,1388 2466,1321 2525,1440 2560,1424 2451,1363 2599,1349 2466,1410 2593,1387 2449,1367 2577,1314 2577,1318 2595,1353 2451,1354 2569,1426 2522,1437 2528,1296 2547,1435 2456,1397 2507,1291 2588,1407 2579,1320 2564,1425 2456,1410 2595,1356 2597,1360 2491,1304 2578,1318 2596,1364 2533,1440 2566,1311 2450,1361 2508,1295 2473,1425 2541,1296 2502,1291 2559,1433 2533,1446 2495,1300 2463,1316 2448,1350 2561,1432 2484,1307 2565,1421 2590,1336 2591,1352 2535,1299 2555,1301 2591,1405 2541,1294 2448,1375 2570,1312 2531,1295 2587,1335 2585,1324 2552,1432 2551,1301 2574,1316 2499,1434 2457,1332 2507,1298 2595,1369 2451,1393 2455,1345 2588,1397 2535,1444 2597,1353 2488,1434 2502,1293 2572,1319 2452,1349 2493,1299 2545,1434 2570,1313 2563,1434 2477,1307 2517,1444 2460,1395 2491,1431 2521,1294 2595,1344 2519,1291 2452,1381 2496,1432 2458,1408 2523,1441 2514,1440 2593,1363 2515,1440 2591,1359 2487,1309 2586,1407 2506,1439 2468,1417 2492,1302 2552,1437 2576,1311 2481,1426 2488,1430 2537,1444 2580,1416 2469,1320 2449,1390 2452,1345 2500,1439 2570,1428 2461,1395 2544,1441 2454,1347 2469,1415 2452,1335 2601,1357"/>
<polyline class="s ILC" points="2353,1465 2339,1447 2313,1547 2334,1455 2319,1517 2339,1540 2318,1551 2341,1451 2390,1540 2327,1567 2368,1491 2285,1527 2361,1474 2398,1592 2325,1580 2365,1484 2389,1554 2336,1462 2295,1466 2403,1550 2326,1572 2394,1542 2382,1592 2360,1491 2310,1510 2296,1540 2329,1473 2322,1584 2350,1589 2355,1585 2339,1473 2385,1541 2399,1589 2356,1594 2328,1533 2396,1578 2359,1499 2345,1535 2320,1501 2287,1535 2349,1578 2392,1591 2350,1567 2326,1525 2370,1503 2341,1592 2333,1568 2306,1547 2389,1542 2356,1581 2410,1550 2307,1547 2306,1506 2367,1584 2406,1581 2327,1539 2388,1585 2359,1585 2335,1587 2333,1589 2304,1452 2305,1557 2393,1586 2300,1537 2368,1524 2346,1466 2332,1527 2334,1486 2370,1466 2366,1489 2375,1481 2313,1505 2392,1554 2303,1557 2405,1561 2330,1545 2296,1464 2346,1585 2358,1485 2340,1593 2312,1487 2386,1539 2381,1507 2330,1556 2369,1513 2337,1556 2368,1514 2346,1594 2335,1456 2345,1461 2359,1511 2294,1556 2292,1534 2291,1543 2329,1521 2355,1458 2318,1510 2404,1538 2320,1528 2399,1548 2348,1559 2285,1543 2328,1565 2352,1581 2282,1537 2361,1509 2409,1555 2307,1451 2372,1483 2290,1531 2358,1592 2319,1507 2282,1538 2326,1517 2335,1483 2343,1470 2398,1472 2353,1464 2384,1587 2360,1513 2314,1485 2384,1534 2393,1544 2319,1515 2378,1485 2328,1541 2338,1463 2320,1472 2400,1573 2327,1502 2348,1585 2377,1488 2388,1540 2375,1489 2363,1528 2329,1507 2401,1554 2335,1469 2367,1507 2366,1590 2332,1459 2394,1535 2362,1472 2375,1472 2361,1498 2406,1545 2396,1477 2334,1510 2408,1556 2345,1518 2381,1494 2381,1573 2318,1553 2345,1468 2345,1519 2362,1471 2326,1468 2374,1507 2399,1582 2285,1498 2335,1535 2370,1476 2356,1571 2297,1532 2380,1536 2389,1555 2331,1484 2316,1517 2351,1452 2338,1581 2296,1546 2392,1590 2319,1529 2353,1453 2345,1568 2361,1573 2306,1452 2390,1552 2333,1542 2405,1573 2377,1498 2341,1532 2380,1574 2326,1497 2362,1500 2388,1531 2337,1563 2333,1540 2356,1459 2358,1570 2340,1572 2368,1583 2344,1564 2395,1478 2397,1471 2353,1592 2395,1468 2380,1479 2326,1460 2301,1539 2295,1464 2401,1559 2346,1575 2324,1524 2331,1558 2284,1528 2379,1506 2286,1497 2331,1516 2340,1478 2371,1478 2409,1548 2291,1553 2285,1500 2400,1584 2330,1508 2286,1500 2382,1582 2340,1457 2344,1584 2325,1507 2395,1466 2314,1505 2309,1540 2368,1523 2382,1501 2318,1524 2330,1545 2311,1552 2375,1505 2374,1482 2392,1554 2343,1518 2295,1466 2399,1471 2311,1502 2317,1505 2345,1547 2408,1567 2373,1482 2409,1562 2375,1589 2330,1468 2364,1483 2367,1595 2328,1503 2311,1554 2300,1554 2357,1498 2332,1463 2322,1471 2340,1577 2367,1495 2328,1526 2363,1479 2373,1472 2319,1503 2361,1594 2399,1541 2332,1478 2349,1459 2391,1592 2403,1566 2330,1515 2336,1523 2300,1505 2382,1543 2321,1466 2389,1542 2400,1547 2363,1528 2331,1578 2338,1471 2376,1589 2343,1455 2342,1588 2337,1547 2306,1452 2330,1585 2367,1472 2346,1448 2350,1459 2364,1518 2318,1523 2324,1528 2302,1548 2354,1574 2292,1551 2383,1483"/>
<polyline class="s CC" points="2707,1625 2618,1576 2584,1594 2627,1579 2711,1659 2595,1681 2607,1702 2660,1704 2656,1697 2588,1675 2654,1700 2643,1583 2561,1648 2702,1664 2678,1590 2703,1674 2695,1673 2644,1700 2590,1597 2602,1698 2638,1568 2697,1605 2628,1699 2568,1622 2705,1637 2580,1599 2699,1611 2704,1655 2566,1655 2683,1585 2607,1575 2683,1578 2669,1692 2587,1681 2631,1697 2611,1577 2704,1624 2679,1689 2630,1702 2639,1699 2650,1695 2620,1572 2677,1594 2661,1577 2709,1617 2574,1657 2648,1696 2575,1649 2558,1643 2664,1586 2562,1643 2574,1658 2575,1659 2702,1628 2713,1656 2630,1701 2571,1642 2577,1599 2719,1652 2688,1684 2587,1687 2572,1615 2711,1665 2664,1691 2618,1581 2633,1578 2720,1648 2618,1570 2574,1667 2561,1637 2663,1580 2709,1624 2709,1638 2703,1660 2716,1644 2588,1599 2645,1706 2598,1690 2595,1592 2685,1694 2613,1701 2605,1591 2692,1602 2664,1576 2653,1574 2600,1592 2706,1668 2674,1583 2622,1691 2579,1612 2647,1702 2680,1682 2641,1706 2575,1650 2705,1613 2648,1708 2647,1711 2577,1663 2694,1593 2637,1704 2577,1619 2599,1594 2562,1647 2707,1661 2610,1690 2691,1680 2686,1675 2711,1636 2690,1595 2713,1659 2591,1591 2700,1667 2567,1625 2655,1573 2563,1629 2573,1679 2667,1697 2685,1681 2565,1657 2572,1670 2632,1699 2569,1628 2563,1656 2644,1573 2663,1691 2598,1582 2699,1679 2715,1646 2693,1671 2703,1602 2690,1680 2700,1620 2580,1607 2655,1710 2578,1676 2576,1641 2680,1693 2580,1616 2563,1613 2655,1698 2570,1633 2571,1674 2661,1583 2572,1658 2679,1685 2596,1590 2570,1612 2712,1651 2714,1654 2625,1691 2712,1649 2696,1616 2712,1642 2654,1585 2622,1571 2618,1694 2573,1628 2622,1707 2608,1588 2581,1610 2688,1585 2569,1647 2657,1576 2686,1598 2714,1619 2638,1573 2628,1704 2692,1671 2688,1599 2638,1700 2626,1699 2703,1669 2598,1692 2700,1612 2658,1710 2646,1579 2668,1705 2700,1666 2684,1693 2699,1611 2701,1615 2589,1685 2600,1573 2620,1584 2572,1604 2613,1589 2566,1612 2672,1579 2695,1686 2703,1675 2602,1692 2625,1577 2586,1594 2596,1689 2598,1583 2571,1623 2626,1706 2617,1575 2584,1606 2658,1696 2682,1589 2634,1696 2583,1668 2609,1696 2704,1657 2573,1660 2600,1691 2578,1643 2705,1634 2614,1579 2579,1676 2568,1652 2592,1596 2663,1582 2573,1670 2707,1603 2565,1608 2590,1682 2642,1566 2688,1687 2709,1658 2631,1699 2587,1596 2653,1579 2597,1687 2662,1583 2714,1627 2684,1685 2585,1675 2622,1577 2632,1576 2560,1641 2697,1598 2604,1688 2595,1694 2696,1590 2570,1615 2612,1581 2690,1686 2567,1637 2611,1588 2570,1607 2711,1632 2572,1677 2708,1642 2703,1614 2579,1667 2655,1694 2657,1583 2665,1585 2569,1620 2588,1680 2625,1577 2606,1576 2662,1696 2681,1691 2569,1624 2704,1617 2708,1631 2664,1578 2684,1679 2645,1697 2612,1693 2663,1700 2616,1704 2685,1683 2616,1688 2592,1584 2577,1682 2708,1667 2618,1692 2573,1611 2630,1573 2687,1693 2703,1658 2614,1582 2701,1599 2687,1592 2664,1696 2712,1619 2568,1638 2577,1664 2565,1608 2617,1698 2672,1691 2588,1595 2661,1703 2666,1704 2613,1703 2691,1675 2684,1600 2565,1621 2714,1608 2693,1599 2596,1594 2627,1702 2590,1676 2645,1573 2706,1629 2603,1588 2610,1704 2593,1588 2703,1626 2667,1700 2599,1575 2675,1696 2707,1640 2577,1611 2708,1634 2605,1700 2636,1700 2578,1653 2676,1587 2606,1577 2569,1655 2668,1584 2629,1581 2710,1668 2644,1707 2602,1591 2709,1630 2567,1649 2565,1621 2714,1653 2590,1688 2576,1683 2678,1585 2593,1593 2594,1600 2680,1577 2679,1689 2613,1579 2681,1695 2633,1567 2669,1698 2694,1683 2676,1684 2601,1696 2573,1605 2581,1690 2653,1711 2635,1703 2575,1603 2640,1707 2592,1689 2596,1589 2692,1680 2569,1654 2654,1707 2586,1677 2635,1571 2594,1694 2601,1580 2702,1668 2695,1670 2640,1565 2605,1690 2574,1641 2584,1596 2581,1596 2605,1586 2677,1693 2656,1711 2701,1609 2566,1618 2622,1579 2700,1682 2700,1673 2715,1637 2711,1609 2656,1700 2605,1701 2653,1583 2635,1576 2702,1668 2572,1638 2594,1687 2714,1631 2665,1585 2668,1589 2669,1701 2677,1583 2682,1692 2702,1614 2619,1576 2603,1701 2571,1652 2626,1695 2641,1570 2661,1575 2566,1629 2713,1633 2672,1696 2691,1601 2604,1575 2682,1677 2626,1575 2569,1645 2618,1580 2608,1700 2578,1685 2693,1595 2638,1706 2711,1621 2711,1641 2565,1631 2567,1606 2568,1659 2639,1574 2717,1649 2576,1682 2701,1624 2716,1656 2572,1664 2658,1580 2640,1578 2641,1575 2651,1700 2653,1710 2649,1580 2630,1692 2627,1709 2592,1685 2706,1637 2660,1702 2675,1698 2670,1586 2559,1648 2586,1684 2578,1653 2617,1583 2641,1576 2598,1587 2586,1599 2697,1618"/>
<polyline class="s OLC" points="2322,1689 2214,1722 2245,1654 2283,1675 2324,1694 2298,1682 2298,1672 2259,1785 2230,1677 2291,1670 2212,1683 2230,1653 2345,1717 2231,1651 2250,1655 2262,1660 2275,1782 2256,1648 2253,1771 2230,1649 2229,1746 2248,1644 2223,1726 2212,1710 2278,1786 2204,1693 2307,1672 2215,1672 2213,1702 2224,1737 2294,1782 2318,1683 2298,1675 2231,1677 2230,1743 2304,1770 2284,1787 2216,1710 2221,1651 2275,1660 2211,1708 2324,1773 2214,1676 2215,1661 2212,1689 2262,1774 2253,1662 2260,1780 2309,1678 2294,1673 2323,1699 2263,1657 2336,1737 2336,1696 2217,1704 2211,1709 2299,1665 2201,1689 2264,1790 2207,1690 2265,1653 2207,1674 2312,1774 2330,1691 2338,1706 2291,1791 2213,1656 2339,1696 2335,1702 2207,1676 2340,1701 2312,1681 2225,1658 2254,1771 2238,1654 2246,1721 2262,1785 2290,1791 2262,1787 2283,1658 2341,1705 2286,1673 2288,1787 2275,1797 2330,1757 2345,1726 2213,1715 2238,1741 2309,1675 2324,1691 2340,1732 2233,1749 2339,1692 2212,1667 2302,1679 2234,1728 2231,1723 2254,1778 2247,1759 2219,1719 2248,1653 2261,1652 2237,1736 2217,1653 2303,1781 2214,1712 2225,1720 2231,1747 2325,1751 2234,1734 2242,1754 2328,1696 2215,1717 2245,1761 2218,1658 2244,1758 2324,1682 2234,1742 2309,1681 2281,1674 2298,1787 2318,1759 2267,1666 2318,1765 2231,1726 2277,1668 2226,1651 2217,1717 2243,1720 2230,1729 2217,1662 2325,1757 2218,1727 2300,1780 2209,1699 2232,1732 2295,1670 2334,1691 2258,1783 2298,1632 2213,1673 2323,1678 2329,1760 2265,1784 2214,1699 2287,1659 2324,1686 2328,1744 2238,1651 2340,1735 2278,1659 2214,1674 2253,1653 2239,1770 2234,1752 2303,1682 2226,1731 2341,1733 2203,1691 2340,1713 2226,1680 2287,1792 2208,1670 2318,1680 2316,1766 2245,1760 2207,1689 2207,1685 2270,1662 2213,1663 2217,1730 2302,1785 2318,1771 2296,1790 2315,1687 2247,1656 2222,1657 2300,1676 2308,1780 2264,1662 2337,1696 2246,1756 2208,1702 2256,1662 2268,1784 2227,1723 2313,1772 2203,1670 2232,1649 2287,1784 2217,1707 2336,1747 2308,1770 2246,1773 2265,1660 2335,1734 2253,1648 2222,1737 2327,1768 2322,1695 2205,1671 2216,1707 2264,1652 2250,1653 2270,1795 2204,1683 2330,1744 2347,1732 2228,1722 2304,1782 2234,1652 2257,1657 2271,1782 2347,1718 2261,1783 2350,1730 2324,1689 2270,1785 2220,1654 2317,1686 2235,1736 2284,1794 2230,1733 2320,1679 2256,1787 2224,1661 2312,1677 2237,1755 2309,1774 2334,1743 2211,1704 2210,1684 2273,1658 2286,1781 2334,1726 2282,1663 2314,1759 2271,1798 2216,1689 2302,1680 2209,1694 2276,1785 2259,1771 2222,1738 2274,1794 2224,1650 2215,1692 2311,1775 2240,1751 2280,1674 2311,1782 2264,1661 2224,1720 2338,1701 2228,1718 2252,1659 2291,1787 2280,1664 2299,1780 2344,1730 2211,1693 2271,1791 2230,1736 2248,1767 2239,1754 2289,1782 2337,1709 2314,1683 2251,1768 2334,1698 2227,1726 2324,1680 2235,1734 2296,1672 2247,1766 2327,1703 2322,1770 2220,1710 2308,1776 2290,1789 2290,1659 2335,1695 2308,1679 2306,1672 2328,1696 2255,1765 2252,1766 2331,1750 2326,1754 2205,1667 2245,1769 2223,1710 2308,1682 2283,1792 2314,1680 2342,1719 2294,1796 2299,1680 2320,1766 2311,1684 2330,1699 2221,1734 2227,1680 2247,1662 2284,1792 2213,1674 2281,1786 2235,1657 2294,1787 2244,1719 2224,1724 2243,1654 2245,1659 2341,1705 2267,1654 2272,1660 2317,1690 2314,1769 2255,1654 2339,1738 2315,1777 2256,1655 2292,1791 2335,1744 2346,1740 2268,1789 2270,1663 2248,1778 2340,1693 2242,1749 2207,1672 2219,1718 2204,1692 2248,1773 2312,1770 2215,1666 2236,1743 2346,1741 2302,1775 2215,1695 2339,1711 2244,1760 2344,1739 2219,1707 2299,1631 2276,1664 2219,1732 2321,1700 2290,1675 2274,1663 2302,1772 2323,1679 2286,1785 2344,1724 2233,1724 2259,1663 2322,1767 2242,1769 2343,1722 2306,1680 2270,1656 2245,1753 2238,1768 2241,1749 2227,1649 2339,1718 2300,1678 2266,1650 2244,1663 2246,1758 2301,1773 2340,1745 2280,1794 2211,1697 2304,1676 2256,1771 2212,1720 2232,1735 2202,1677 2204,1670 2215,1665 2211,1664 2239,1762 2226,1659 2243,1761 2334,1695 2249,1764 2340,1723 2342,1732 2229,1728 2232,1658 2256,1785 2213,1686 2258,1651 2281,1790 2259,1779 2269,1798 2262,1781 2333,1735 2210,1658"/>
<polyline class="s ESW" points="1999,1830 2014,1847 1993,1836 2075,1887 2129,1813 2007,1812 2114,1837 1998,1845 2115,1876 2059,1898 2005,1796 2112,1776 2015,1874 2088,1907 2068,1892 2099,1901 2005,1807 2104,1786 2018,1878 1990,1862 2124,1833 2009,1866 2091,1900 2120,1815 2060,1904 2079,1898 2086,1895 2105,1800 2116,1845 2050,1900 1990,1813 2114,1852 2011,1854 2109,1887 2122,1828 2078,1887 2024,1884 1994,1803 2110,1856 2006,1851 2003,1793 2002,1799 2066,1779 2092,1882 2107,1876 2005,1867 2035,1892 2095,1890 1998,1849 2079,1904 2115,1840 2094,1790 2060,1899 2110,1825 2027,1789 2074,1779 2101,1899 2018,1794 2088,1776 1997,1838 2043,1907 2063,1889 1999,1808 2084,1791 2021,1794 2075,1894 2022,1779 2112,1780 2053,1769 2115,1800 2118,1796 2042,1772 2120,1818 2053,1761 2119,1861 2087,1895 2099,1885 2002,1849 2008,1868 2121,1859 2003,1863 2128,1833 2074,1905 2020,1790 2071,1894 2039,1785 2122,1841 2079,1772 2075,1890 2078,1902 2110,1779 2120,1789 2089,1901 2100,1887 2024,1786 2042,1886 2054,1900 2036,1894 2089,1784 2123,1849 1983,1821 2100,1880 2072,1910 1998,1860 2124,1852 2126,1801 2075,1786 2082,1900 2045,1773 2058,1901 2023,1886 2069,1773 2081,1786 2112,1800 2124,1814 2070,1908 2066,1906 2017,1876 2031,1890 2029,1772 2020,1864 2028,1785 2118,1890 2111,1801 2041,1779 1988,1827 2130,1847 2026,1897 2076,1905 1999,1825 2023,1882 2008,1806 2088,1772 2123,1797 2005,1863 2007,1877 2063,1775 2017,1883 2050,1779 2057,1906 2077,1781 2088,1903 2043,1770 2094,1778 2122,1846 2031,1770 2109,1823 2107,1850 2085,1890 2110,1785 2115,1788 2102,1891 2085,1785 1990,1808 2055,1780 2125,1792 2082,1900 2074,1911 2082,1889 2107,1782 2098,1893 2123,1825 2111,1824 2036,1882 1995,1836 2083,1782 1992,1852 2116,1782 2040,1783 1993,1799 2094,1892 2111,1878 2024,1875 2106,1793 2034,1892 2108,1787 2009,1789 1998,1820 2065,1784 2080,1787 2093,1796 2073,1776 2038,1773 2025,1879 2101,1791 2111,1787 2087,1886 2029,1900 2126,1837 2117,1814 2039,1883 2038,1880 2017,1781 2112,1823 2084,1903 2103,1782 1997,1806 1996,1829 2120,1844 2119,1834 1988,1829 2073,1782 2126,1818 2111,1822 2032,1884 2026,1777 2008,1785 2116,1891 2000,1860 2124,1806 2130,1842 2000,1803 2037,1889 2017,1784 1997,1826 2098,1899 2110,1803 2118,1864 2054,1773 2128,1801 2009,1792 2071,1889 2104,1849 2008,1797 2000,1841 2010,1805 2048,1768 2025,1782 2044,1781 2013,1782 2069,1787 2123,1849 2122,1837 2118,1824 2099,1890 2026,1887 2021,1889 1994,1844 2016,1778 2119,1785 2080,1783 2075,1785 2041,1758 1994,1829 1991,1830 1988,1837 2034,1779 2060,1896 2032,1768 1980,1816 2117,1818 2104,1800 2099,1779 2008,1815 2105,1785 2071,1773 2074,1909 2109,1853 2059,1775 2028,1876 2094,1780 2067,1899 2100,1787 2008,1848 2047,1774 2101,1869 2042,1775 2018,1786 2023,1781 2074,1898 1992,1863 2092,1901 1990,1857 1989,1819 2021,1892 2112,1865 2108,1790 1996,1841 2068,1884 2070,1890 2116,1871 2107,1881 2047,1761 2021,1875 2102,1892 2035,1887 2130,1796 2018,1885 2100,1783 2012,1810 2116,1846 2106,1870 2078,1785 2041,1770 2044,1762 2057,1771 2125,1825 2102,1892 2110,1866 2009,1866 2004,1826 1999,1813 2079,1908 2052,1897 2066,1768 2125,1855 2069,1769 2054,1771 2115,1843 2093,1885 2118,1853 2011,1873 2097,1873 2027,1786 2085,1887 2075,1791 2083,1905 2003,1811 2115,1817 2087,1899 2046,1902 2033,1776 2071,1790 2113,1824 2099,1793 2015,1866 2094,1772 2000,1833 2024,1792 2111,1797 2056,1893 2093,1880 2008,1872 2081,1788 2067,1788 2002,1818 2072,1898 2043,1905 2114,1830 2114,1792 2016,1852 2118,1818 1994,1806 2001,1823 2040,1765 2025,1791 2012,1872 1992,1852 2080,1773 2004,1845 2109,1877 2041,1902 1988,1817 2084,1893 2075,1789 2123,1863 2008,1856 2006,1804 2130,1845 1992,1826 2019,1867 2112,1877 2105,1878 2105,1838 2031,1771 2020,1877 2117,1823 2120,1802 2105,1892 2012,1789 2098,1896 2074,1892 2075,1897 2092,1787 2006,1822 2056,1779 1992,1830 2085,1790 2105,1844 2084,1903 2007,1825 1998,1800 1990,1827 2014,1882 2129,1849 2117,1851 2011,1801 2109,1793 2040,1900 2004,1841 2111,1835 2004,1825 2043,1908 2011,1803 2064,1772 2081,1897 2027,1784 2071,1773 2002,1850 2043,1892 2107,1879 2110,1792 2002,1827 2088,1789 2051,1772 2110,1884 2114,1864 2036,1891 2096,1884 2106,1862 2058,1766 2118,1797 2064,1887 1996,1808 2108,1869 2074,1774 1996,1864 1995,1817 2042,1762 2102,1797 1997,1835 2076,1792 2081,1904 2002,1807 2110,1874 2054,1889 2129,1840 2108,1806 2122,1805 2116,1805 2112,1854 2128,1816 2012,1878 2025,1884 2104,1898 2023,1779 2132,1847 2056,1891 2121,1818 2051,1893 2115,1861 2081,1909 2029,1877 2042,1774 2094,1895 2011,1870 2027,1901 2096,1792 1988,1831 1999,1854 2120,1799 2063,1889 2005,1824"/>
<polyline class="s IHW" points="2521,1798 2553,1861 2541,1796 2466,1814 2542,1832 2493,1869 2466,1841 2530,1870 2496,1875 2467,1784 2555,1827 2546,1849 2532,1788 2553,1825 2474,1791 2474,1788 2486,1781 2469,1791 2458,1838 2562,1848 2553,1843 2466,1882 2559,1843 2564,1838 2454,1832 2477,1883 2479,1874 2542,1820 2493,1788 2543,1869 2463,1862 2538,1789 2535,1791 2516,1887 2461,1851 2448,1819 2459,1866 2542,1794 2542,1813 2499,1888 2515,1876 2539,1804 2537,1788 2509,1880 2527,1882 2514,1782 2468,1793 2505,1876 2456,1838 2464,1842 2534,1782 2534,1862 2487,1788 2499,1877 2478,1779 2532,1780 2513,1880 2486,1890 2445,1842 2473,1784 2532,1796 2466,1789 2526,1882 2508,1780 2531,1794 2455,1833 2546,1820 2498,1873 2553,1816 2478,1786 2483,1786 2465,1856 2533,1877 2460,1828 2457,1842 2472,1875 2456,1857 2535,1877 2471,1802 2481,1788 2506,1878 2546,1848 2462,1844 2535,1791 2475,1881 2527,1889 2467,1794 2518,1879 2501,1885 2488,1882 2551,1811 2450,1825 2507,1792 2470,1805 2551,1843 2484,1778 2555,1837 2466,1784 2495,1790 2543,1805 2519,1786 2525,1882 2548,1831 2462,1875 2487,1787 2468,1811 2557,1816 2457,1836 2471,1861 2506,1883 2470,1800 2500,1884 2550,1855 2549,1850 2559,1848 2464,1807 2544,1811 2482,1785 2490,1789 2501,1891 2526,1877 2546,1829 2453,1837 2549,1812 2473,1806 2447,1845 2461,1821 2513,1794 2533,1816 2461,1806 2465,1811 2473,1882 2489,1893 2491,1876 2494,1780 2464,1847 2460,1798 2471,1820 2519,1889 2542,1856 2540,1803 2545,1870 2487,1879 2534,1780 2546,1843 2538,1868 2464,1860 2539,1791 2559,1826 2466,1802 2552,1848 2502,1788 2468,1807 2522,1794 2549,1867 2508,1879 2452,1846 2529,1889 2549,1809 2519,1784 2565,1839 2470,1873 2458,1811 2505,1883 2555,1848 2554,1830 2456,1858 2527,1879 2548,1852 2536,1811 2521,1787 2452,1829 2523,1891 2501,1787 2463,1801 2522,1874 2493,1776 2485,1793 2539,1807 2466,1845 2465,1792 2465,1822 2472,1866 2467,1807 2469,1876 2505,1880 2549,1813 2538,1810 2527,1785 2533,1872 2520,1876 2467,1816 2514,1880 2553,1859 2481,1804 2550,1803 2447,1841 2536,1801 2548,1837 2451,1835 2526,1875 2464,1882 2516,1781 2554,1865 2535,1786 2480,1870 2538,1788 2514,1885 2492,1782 2495,1787 2447,1839 2487,1873 2501,1871 2541,1860 2496,1887 2444,1827 2548,1827 2464,1789 2483,1794 2494,1871 2479,1793 2510,1783 2453,1821 2506,1785 2461,1854 2466,1805 2523,1779 2478,1804 2458,1844 2539,1872 2450,1832 2556,1845 2550,1821 2537,1794 2458,1855 2535,1856 2548,1850 2459,1852 2553,1851 2461,1812 2528,1786 2536,1802 2462,1877 2491,1873 2489,1784 2492,1878 2508,1879 2483,1887 2489,1878 2479,1782 2461,1873 2547,1865 2465,1789 2496,1888 2467,1806 2522,1796 2473,1862 2553,1822 2523,1786 2500,1781 2451,1840 2489,1879 2458,1824 2513,1789 2554,1843 2542,1832 2555,1809 2490,1786 2524,1781 2506,1790 2546,1797 2473,1880 2455,1847 2522,1893 2509,1881 2506,1785 2532,1783 2548,1850 2490,1790 2540,1865 2461,1798 2533,1783 2507,1783 2491,1889 2513,1875 2518,1886 2463,1853 2531,1876 2491,1868 2466,1865 2548,1846 2503,1885 2529,1776 2547,1831 2506,1885 2459,1797 2507,1789 2546,1797 2526,1886 2537,1870 2466,1851 2519,1884 2556,1831 2561,1839 2548,1815 2486,1786 2475,1879 2495,1780 2466,1801 2461,1824 2549,1861 2479,1879 2492,1778 2543,1790 2553,1822 2469,1817 2533,1865 2504,1782 2493,1890 2547,1810 2512,1790 2474,1874 2458,1833 2524,1880 2472,1782 2475,1865 2480,1867 2509,1787"/>
<polyline class="s HSC" points="2384,2056 2339,1944 2367,2063 2258,2010 2339,2087 2394,1994 2386,2021 2353,1956 2376,1967 2251,1967 2270,1963 2284,2084 2246,1994 2366,1966 2288,1955 2290,2073 2328,2070 2370,2060 2391,2039 2338,1937 2387,2040 2248,2012 2383,1978 2395,2045 2280,1948 2264,2040 2395,1998 2251,2043 2341,2086 2296,2077 2241,2013 2348,2085 2401,1999 2357,1944 2311,2084 2246,2015 2364,1950 2357,2073 2388,2019 2248,1987 2388,2025 2396,2005 2256,1969 2379,2046 2355,2067 2344,1942 2371,1953 2326,1941 2369,1954 2254,1973 2364,2076 2386,2008 2262,2056 2359,1960 2309,2079 2361,1948 2324,2075 2320,2086 2267,1965 2385,2023 2294,1943 2350,2074 2251,2004 2255,2022 2269,2061 2379,1963 2351,2081 2395,2007 2348,2083 2260,2060 2249,2029 2322,1951 2394,1982 2254,2022 2343,2076 2270,2061 2276,2085 2251,2009 2358,1970 2384,2031 2246,2049 2390,2031 2372,2074 2287,2070 2341,2092 2318,1947 2270,2057 2281,1966 2392,2005 2402,2034 2367,2057 2266,2066 2272,2076 2382,1985 2313,2081 2295,1941 2240,2014 2244,2013 2254,1970 2282,1943 2383,2050 2382,1994 2269,1965 2253,2034 2300,1943 2337,2080 2393,2034 2371,1975 2398,2025 2299,1944 2325,1953 2298,1959 2299,2074 2274,1969 2373,2063 2388,2044 2293,2084 2371,1974 2357,2066 2297,2072 2258,1986 2385,2017 2290,1952 2390,2030 2333,2082 2382,2054 2294,1939 2365,2071 2301,1946 2243,1985 2352,2083 2253,1997 2256,1984 2381,2056 2290,2075 2246,2005 2308,2082 2375,1979 2388,1995 2268,2058 2294,2083 2249,1988 2387,1988 2385,1977 2294,2077 2257,2020 2379,1958 2326,2084 2244,2019 2395,2045 2267,1966 2366,1972 2327,2091 2346,1949 2303,2081 2251,2010 2385,1989 2300,1952 2273,1960 2273,2068 2299,1949 2353,1953 2284,2068 2240,2028 2284,1960 2244,1996 2394,2052 2404,1993 2392,2032 2253,2050 2373,1970 2325,1949 2293,2089 2249,2033 2274,1962 2284,1945 2303,1947 2358,2081 2363,2076 2248,1977 2253,1983 2342,2079 2282,1961 2339,2079 2357,1957 2372,2061 2245,1990 2359,2072 2254,2047 2357,2066 2244,1981 2265,1962 2380,2068 2286,2063 2287,2088 2239,2005 2266,2048 2384,2025 2393,2019 2274,1963 2369,1976 2308,2074 2287,2067 2300,2072 2348,1942 2271,2059 2384,1988 2251,2048 2394,2016 2380,2052 2268,2060 2244,2046 2243,2032 2291,2081 2296,2080 2380,2061 2253,2005 2313,2081 2391,1999 2247,2047 2369,1972 2271,2053 2253,2003 2268,1975 2255,2060 2267,2051 2386,2037 2261,1966 2316,2071 2259,2039 2318,2084 2271,2066 2377,2055 2252,2027 2249,1992 2386,2016 2300,1950 2375,1980 2295,2075 2329,2075 2317,2089 2352,2072 2321,2084 2253,1986 2350,1959 2391,2021 2336,1955 2264,1968 2349,1956 2241,2004 2238,2023 2294,1961 2255,1991 2276,1970 2319,2077 2339,2082 2253,2007 2252,1975 2388,2049 2295,2070 2345,1946 2345,1955 2363,1959 2380,1978 2398,2027 2247,2042 2285,1963 2274,2054 2258,2053 2259,2050 2278,1965 2402,2040 2251,2054 2318,1950 2341,1950 2323,2079 2395,2028 2369,2064 2302,1943 2347,2080 2283,1958 2376,1972 2391,2037 2357,1950 2396,1996 2386,2023 2350,2079 2398,2044 2259,2059 2385,1998 2260,1980 2356,1959 2277,1960 2384,2000 2359,2059 2262,2050 2373,1962 2359,1974 2389,2009 2362,2058 2375,1958 2265,2038 2329,2071 2329,2080 2286,1956 2246,2037 2326,2076 2377,1976 2281,2063 2299,1947 2388,2033 2365,2081 2272,2058 2381,2056 2271,1956 2255,2014 2240,2023 2312,2087 2251,2040 2359,1955 2369,2064 2244,1994 2386,1980 2304,1951 2337,2072 2244,2017 2295,1951 2392,2028 2245,2009 2350,1952 2274,1974 2382,1982 2240,2022 2396,1997 2326,2074 2324,2075 2320,1943 2366,2078 2252,1967 2293,1955 2380,1998 2399,2037 2383,1975 2356,1953 2365,2067 2380,2069 2258,2051 2365,1960 2248,2023 2381,1983 2292,1952 2394,1987 2399,1986 2335,2081 2392,2002 2394,1996 2253,1991 2395,2039 2385,1980 2375,2053 2361,1967 2314,2072 2361,1964 2380,1973 2394,2051 2318,2072 2372,1953 2373,2067 2374,1967 2246,1997 2378,2047 2398,2012 2371,1978 2300,2074 2388,2030 2385,2012 2273,2079 2251,1979 2368,2062 2285,1957 2401,1988 2253,1972 2247,2000 2326,2087 2272,1976 2317,1948 2381,1977 2312,2079 2243,2037 2367,1961 2397,2043 2361,1947 2383,2053 2245,2037 2249,2036 2316,1942 2354,2069 2399,2003 2238,2011 2345,2083 2282,2062 2255,1978 2382,2053 2282,1956 2260,2010 2340,2090 2300,1947 2249,2008 2249,2040 2245,2005 2366,2064 2314,2072 2317,1945 2396,2011 2358,2064 2326,2072 2373,2070 2390,2038 2268,2065 2384,1975 2375,2053 2241,2013 2299,2087 2346,1946 2362,1962 2387,2050 2266,2051 2359,2058 2332,2089 2310,2075 2292,2077 2331,1941 2362,1959 2370,1965 2292,1937 2248,2047"/>
<path d="M1963.5 2131.5v-23.9M2309 2131.5v-23.9M2654.1 2131.5v-23.9M1886.1 1377h23.9M1886.1 1515h23.9M1886.1 1653.2h23.9M1886.1 1791h23.9M1886.1 1929h23.9M1886.1 2067h23.9" stroke="#1a1a1a" stroke-width="5.8" fill="none"/>
<rect x="1886.1" y="1240" width="869.2" height="891.5" fill="none" stroke="#1a1a1a" stroke-width="5.8"/>
<g font-size="62.5" text-anchor="middle">
<text x="1966.5" y="2192">−50</text>
<text x="2311" y="2192">0</text>
<text x="2656.1" y="2192">50</text>
</g>
<g font-size="62.5" text-anchor="end">
<text x="1865.1" y="1263">60</text>
<text x="1865.1" y="1400">40</text>
<text x="1865.1" y="1538">20</text>
<text x="1865.1" y="1676.2">0</text>
<text x="1865.1" y="1814">−20</text>
<text x="1865.1" y="1952">−40</text>
<text x="1865.1" y="2090">−60</text>
</g>
<text class="ax" x="2329.6" y="2260.8" text-anchor="middle">分量<tspan class="d">1</tspan></text>
<text class="ay" transform="translate(1755 1648.8) rotate(-90)" text-anchor="middle">分量<tspan class="dy">2</tspan></text>
<text x="2335.7" y="2325.4" font-size="62.5" text-anchor="middle">(e) AMFGDG</text>
</g>
<g id="legend">
<circle cx="905" cy="2382" r="16" fill="#4472a8" stroke="#160c0e" stroke-width="5"/>
<text x="934" y="2404.5" font-size="62.5">HY</text>
<circle cx="1085" cy="2382" r="16" fill="#f07c32" stroke="#160c0e" stroke-width="5"/>
<text x="1116" y="2404" font-size="62.5">OLC</text>
<circle cx="1285.7" cy="2382" r="16" fill="#4c9938" stroke="#160c0e" stroke-width="5"/>
<text x="1319" y="2407" font-size="62.5">OHC</text>
<circle cx="1490" cy="2382" r="16" fill="#d93732" stroke="#160c0e" stroke-width="5"/>
<text x="1522" y="2404" font-size="62.5">ILC</text>
<circle cx="1677" cy="2382" r="16" fill="#8e61a9" stroke="#160c0e" stroke-width="5"/>
<text x="1711" y="2403" font-size="62.5">ILW</text>
<circle cx="1870" cy="2382" r="16" fill="#955a4b" stroke="#160c0e" stroke-width="5"/>
<text x="1898" y="2403" font-size="62.5">IHW</text>
<circle cx="2071" cy="2382" r="16" fill="#d474ad" stroke="#160c0e" stroke-width="5"/>
<text x="2102" y="2403" font-size="62.5">HSC</text>
<circle cx="2269" cy="2382" r="16" fill="#857b79" stroke="#160c0e" stroke-width="5"/>
<text x="2296" y="2404" font-size="62.5">ESW</text>
<circle cx="2473" cy="2382" r="16" fill="#b7b937" stroke="#160c0e" stroke-width="5"/>
<text x="2508" y="2403" font-size="62.5">CC</text>
</g>
</svg></body></html>
